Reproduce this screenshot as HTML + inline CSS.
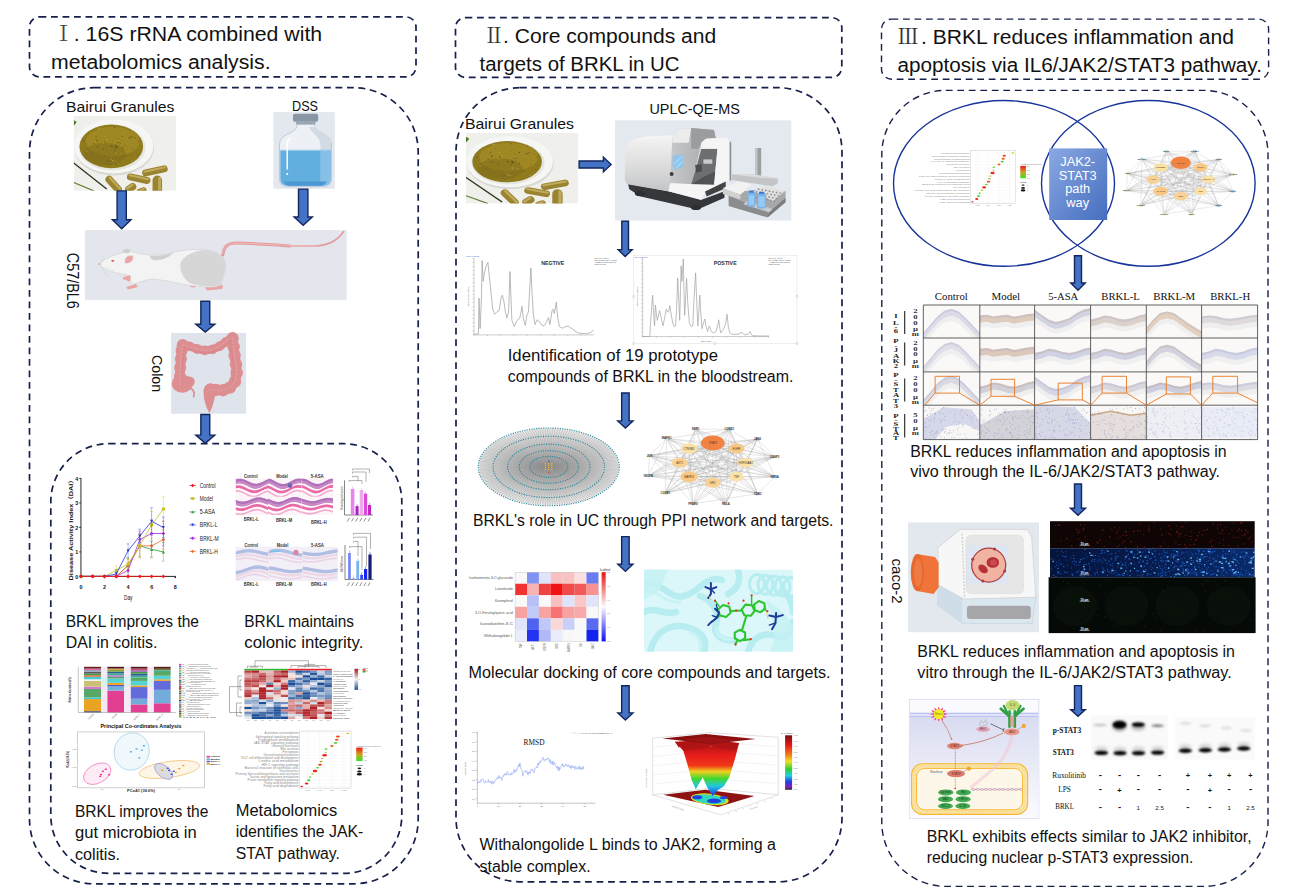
<!DOCTYPE html>
<html lang="en"><head><meta charset="utf-8"><title>BRKL graphical abstract</title>
<style>
html,body{margin:0;padding:0;background:#fff;}
body{width:1290px;height:896px;overflow:hidden;}
svg{display:block}
.sans{font-family:'Liberation Sans', 'Noto Sans CJK SC', sans-serif;}
.serif{font-family:'Liberation Serif', 'Noto Serif CJK SC', serif;}
</style></head><body>
<svg width="1290" height="896" viewBox="0 0 1290 896">
<rect width="1290" height="896" fill="#fff"/>
<rect x="29.5" y="16.9" width="386.5" height="60.00000000000001" rx="10" ry="10" fill="none" stroke="#16204a" stroke-width="1.7" stroke-dasharray="6.8 4.7"/>
<rect x="455.5" y="17.6" width="386.29999999999995" height="59.800000000000004" rx="10" ry="10" fill="none" stroke="#16204a" stroke-width="1.7" stroke-dasharray="6.8 4.7"/>
<rect x="881.5" y="19.1" width="387.0999999999999" height="60.1" rx="10" ry="10" fill="none" stroke="#16204a" stroke-width="1.4" stroke-dasharray="6.8 4.7"/>
<rect x="29.5" y="87.7" width="388.7" height="796.0999999999999" rx="64.5" ry="64.5" fill="none" stroke="#16204a" stroke-width="1.7" stroke-dasharray="6.8 4.7"/>
<rect x="456" y="87.7" width="386" height="794.0999999999999" rx="64" ry="64" fill="none" stroke="#16204a" stroke-width="1.7" stroke-dasharray="6.8 4.7"/>
<rect x="881.8" y="90.4" width="386.20000000000005" height="796.0" rx="64" ry="64" fill="none" stroke="#16204a" stroke-width="1.4" stroke-dasharray="6.8 4.7"/>
<rect x="50.8" y="443.7" width="351.0" height="429.7" rx="58" ry="58" fill="none" stroke="#16204a" stroke-width="1.7" stroke-dasharray="6.8 4.7"/>
<text x="53" y="40.5" font-size="21" fill="#444" class="serif" >Ⅰ</text>
<text x="73.8" y="40.5" font-size="19.6" fill="#111" class="sans" textLength="248.4" lengthAdjust="spacingAndGlyphs" >. 16S rRNA combined with</text>
<text x="51" y="69.3" font-size="19.6" fill="#111" class="sans" textLength="219.6" lengthAdjust="spacingAndGlyphs" >metabolomics analysis.</text>
<text x="483.6" y="43.3" font-size="21" fill="#333" class="serif" >Ⅱ</text>
<text x="503" y="43.3" font-size="19.6" fill="#111" class="sans" textLength="213.3" lengthAdjust="spacingAndGlyphs" >. Core compounds and</text>
<text x="479.6" y="71" font-size="19.6" fill="#111" class="sans" textLength="200" lengthAdjust="spacingAndGlyphs" >targets of BRKL in UC</text>
<text x="897.5" y="43.5" font-size="21" fill="#333" class="serif" >Ⅲ</text>
<text x="921" y="43.5" font-size="19.6" fill="#111" class="sans" textLength="313" lengthAdjust="spacingAndGlyphs" >. BRKL reduces inflammation and</text>
<text x="897.5" y="72" font-size="19.6" fill="#111" class="sans" textLength="364.4" lengthAdjust="spacingAndGlyphs" >apoptosis via IL6/JAK2/STAT3 pathway.</text>
<defs><clipPath id="herbclip"><rect x="0" y="0" width="102.4" height="74.8"/></clipPath><g id="herb">
<rect x="0" y="0" width="102.4" height="74.8" fill="#efefec"/>
<path d="M0 47 L33 73" stroke="#2c3418" stroke-width="1.3" fill="none"/>
<path d="M0 66.5 L20 74.8" stroke="#5a7a2a" stroke-width="1.1" fill="none"/>
<path d="M0 4 L3 6 L0 10Z" fill="#4a7a20"/>
<ellipse cx="40.5" cy="32" rx="39.8" ry="27.6" fill="#d9d9d4"/>
<ellipse cx="40" cy="30.4" rx="39.6" ry="27" fill="#f6f6f4"/>
<ellipse cx="38.5" cy="31.5" rx="33.5" ry="23" fill="#e6e6e1"/>
<ellipse cx="37.6" cy="30.4" rx="31.8" ry="21.8" fill="#8f7a1e"/>
<ellipse cx="39" cy="25.5" rx="27" ry="15" fill="#a38c26" opacity=".8"/>
<ellipse cx="31" cy="38" rx="21" ry="11" fill="#7d6a1a" opacity=".5"/>
<circle cx="39.2" cy="44.8" r="0.86" fill="#b39c34"/>
<circle cx="15.9" cy="32.8" r="0.41" fill="#a8922e"/>
<circle cx="44.7" cy="22.5" r="0.50" fill="#76641a"/>
<circle cx="33.3" cy="16.3" r="0.64" fill="#a8922e"/>
<circle cx="31.3" cy="25.3" r="0.83" fill="#76641a"/>
<circle cx="12.4" cy="27.9" r="0.48" fill="#6e5d18"/>
<circle cx="42.0" cy="29.6" r="0.81" fill="#6e5d18"/>
<circle cx="34.9" cy="45.6" r="0.76" fill="#665616"/>
<circle cx="52.9" cy="24.7" r="0.62" fill="#a8922e"/>
<circle cx="63.5" cy="22.8" r="0.42" fill="#6e5d18"/>
<circle cx="24.1" cy="30.7" r="0.79" fill="#665616"/>
<circle cx="48.7" cy="20.6" r="0.69" fill="#665616"/>
<circle cx="20.2" cy="27.8" r="0.85" fill="#76641a"/>
<circle cx="25.5" cy="12.2" r="0.90" fill="#b39c34"/>
<circle cx="32.7" cy="24.2" r="0.88" fill="#b39c34"/>
<circle cx="55.5" cy="22.0" r="0.72" fill="#76641a"/>
<circle cx="51.3" cy="29.7" r="0.43" fill="#6e5d18"/>
<circle cx="56.0" cy="13.9" r="0.57" fill="#6e5d18"/>
<circle cx="63.7" cy="38.3" r="0.55" fill="#6e5d18"/>
<circle cx="40.9" cy="11.3" r="0.70" fill="#6e5d18"/>
<circle cx="38.8" cy="18.8" r="0.57" fill="#a8922e"/>
<circle cx="59.6" cy="16.4" r="0.52" fill="#a8922e"/>
<circle cx="39.1" cy="30.6" r="0.70" fill="#6e5d18"/>
<circle cx="48.9" cy="31.9" r="0.55" fill="#665616"/>
<circle cx="35.6" cy="47.0" r="0.56" fill="#b39c34"/>
<circle cx="65.2" cy="25.4" r="0.59" fill="#665616"/>
<circle cx="49.4" cy="21.8" r="0.74" fill="#a8922e"/>
<circle cx="61.5" cy="42.7" r="0.54" fill="#a8922e"/>
<circle cx="21.0" cy="17.6" r="0.62" fill="#b39c34"/>
<circle cx="36.8" cy="40.6" r="0.41" fill="#b39c34"/>
<circle cx="18.7" cy="38.0" r="0.59" fill="#6e5d18"/>
<circle cx="29.9" cy="27.1" r="0.63" fill="#b39c34"/>
<circle cx="30.6" cy="20.3" r="0.77" fill="#b39c34"/>
<circle cx="43.2" cy="30.9" r="0.88" fill="#6e5d18"/>
<circle cx="37.5" cy="43.4" r="0.70" fill="#a8922e"/>
<circle cx="42.5" cy="37.2" r="0.82" fill="#b39c34"/>
<circle cx="35.3" cy="48.4" r="0.79" fill="#6e5d18"/>
<circle cx="59.0" cy="32.9" r="0.56" fill="#76641a"/>
<circle cx="42.2" cy="48.4" r="0.56" fill="#76641a"/>
<circle cx="27.3" cy="15.9" r="0.45" fill="#6e5d18"/>
<circle cx="30.7" cy="40.1" r="0.62" fill="#76641a"/>
<circle cx="44.1" cy="24.7" r="0.77" fill="#b39c34"/>
<circle cx="41.9" cy="45.0" r="0.51" fill="#b39c34"/>
<circle cx="52.7" cy="40.2" r="0.56" fill="#76641a"/>
<circle cx="48.9" cy="17.6" r="0.57" fill="#b39c34"/>
<circle cx="40.9" cy="26.2" r="0.57" fill="#a8922e"/>
<circle cx="47.6" cy="37.7" r="0.63" fill="#b39c34"/>
<circle cx="28.0" cy="23.0" r="0.60" fill="#a8922e"/>
<circle cx="46.4" cy="27.1" r="0.64" fill="#6e5d18"/>
<circle cx="49.0" cy="16.8" r="0.62" fill="#a8922e"/>
<circle cx="65.3" cy="24.3" r="0.42" fill="#76641a"/>
<circle cx="12.9" cy="35.1" r="0.88" fill="#a8922e"/>
<circle cx="10.3" cy="25.1" r="0.83" fill="#6e5d18"/>
<circle cx="46.0" cy="29.3" r="0.42" fill="#76641a"/>
<circle cx="57.7" cy="20.9" r="0.85" fill="#76641a"/>
<circle cx="55.3" cy="21.6" r="0.64" fill="#6e5d18"/>
<circle cx="52.2" cy="39.9" r="0.73" fill="#76641a"/>
<circle cx="19.9" cy="28.5" r="0.46" fill="#a8922e"/>
<circle cx="58.7" cy="44.9" r="0.64" fill="#a8922e"/>
<circle cx="40.9" cy="19.5" r="0.46" fill="#76641a"/>
<circle cx="44.1" cy="26.6" r="0.80" fill="#76641a"/>
<circle cx="61.2" cy="21.7" r="0.64" fill="#6e5d18"/>
<circle cx="21.7" cy="25.2" r="0.52" fill="#b39c34"/>
<circle cx="22.4" cy="20.9" r="0.64" fill="#6e5d18"/>
<circle cx="37.7" cy="29.9" r="0.79" fill="#6e5d18"/>
<circle cx="42.4" cy="31.4" r="0.89" fill="#665616"/>
<circle cx="41.9" cy="26.6" r="0.64" fill="#a8922e"/>
<circle cx="41.1" cy="34.0" r="0.72" fill="#665616"/>
<circle cx="23.5" cy="24.5" r="0.89" fill="#76641a"/>
<circle cx="29.6" cy="33.0" r="0.76" fill="#6e5d18"/>
<g transform="translate(81.2 54.9) rotate(-12)"><rect x="-13.0" y="-3.5" width="26" height="7" rx="3.5" fill="#9a8430"/><rect x="-11.5" y="-2.5" width="23" height="2.1" rx="1" fill="#c8b468" opacity=".8"/></g>
<g transform="translate(65 62.7) rotate(12)"><rect x="-12.0" y="-3.5" width="24" height="7" rx="3.5" fill="#9a8430"/><rect x="-10.5" y="-2.5" width="21" height="2.1" rx="1" fill="#c8b468" opacity=".8"/></g>
<g transform="translate(40 68.5) rotate(48)"><rect x="-10.5" y="-3.75" width="21" height="7.5" rx="3.75" fill="#9a8430"/><rect x="-9.0" y="-2.75" width="18" height="2.2" rx="1" fill="#c8b468" opacity=".8"/></g>
<g transform="translate(83.6 69) rotate(90)"><rect x="-9.5" y="-4.75" width="19" height="9.5" rx="4.75" fill="#9a8430"/><rect x="-8.0" y="-3.75" width="16" height="2.9" rx="1" fill="#c8b468" opacity=".8"/></g>
<g transform="translate(57 72) rotate(-35)"><rect x="-6.0" y="-3.75" width="12" height="7.5" rx="3.75" fill="#9a8430"/><rect x="-4.5" y="-2.75" width="9" height="2.2" rx="1" fill="#c8b468" opacity=".8"/></g>
<g transform="translate(68 75) rotate(-20)"><rect x="-5.0" y="-3.0" width="10" height="6" rx="3.0" fill="#9a8430"/><rect x="-3.5" y="-2.0" width="7" height="1.8" rx="1" fill="#c8b468" opacity=".8"/></g>
</g></defs>
<text x="66" y="111.5" font-size="14.2" fill="#111" class="sans" textLength="108.5" lengthAdjust="spacingAndGlyphs" >Bairui Granules</text>
<text x="292" y="110.5" font-size="14.2" fill="#111" class="sans" textLength="26" lengthAdjust="spacingAndGlyphs" >DSS</text>
<g transform="translate(73.7 116)" clip-path="url(#herbclip)"><use href="#herb"/></g>
<g>
<rect x="273.4" y="112.1" width="61.4" height="76.7" fill="#e3e8ee"/>
<path d="M296.8 124 V126.5 C296.8 133 279.5 133.5 279.5 144 V179 Q279.5 186.6 288 186.6 H323 Q331.5 186.6 331.5 179 V144 C331.5 133.5 314.7 133 314.7 126.5 V124 Z" fill="#edf1f5" stroke="#b4c0cf" stroke-width=".8"/>
<path d="M309 127 C312 134 320.5 136 320.5 146 V150.2 H331 V144 C331 134 315 133 314.5 127Z" fill="#d2dbe3"/>
<path d="M280.3 150.2 H330.7 V179 Q330.7 185.8 323 185.8 H288 Q280.3 185.8 280.3 179Z" fill="#62aede"/>
<path d="M320.3 150.2 H330.7 V179 Q330.7 184 326 185.5 L320.3 182Z" fill="#86c0e6"/>
<path d="M284 181.5 H327 Q324 185.8 321 185.8 H289 Q285 185.8 284 181.5Z" fill="#4a98d4"/>
<path d="M280.3 150.2 H330.7" stroke="#9fd0ee" stroke-width="1"/>
<path d="M287.2 169 V146 Q287.2 140 290.5 138.2" stroke="#fff" stroke-width="1.4" fill="none" stroke-linecap="round"/>
<circle cx="287.2" cy="174" r="1.1" fill="#fff"/>
<rect x="292.9" y="113.8" width="25.3" height="8" rx="2" fill="#8996a6"/><rect x="296" y="121" width="19.5" height="3.4" rx="1.5" fill="#9aa6b4"/>
</g>
<path d="M117.10 190.90H126.30V219.70H131.00L121.70 228.69L112.40 219.70H117.10Z" fill="#4472c4" stroke="#13265c" stroke-width="1.4" stroke-linejoin="miter"/>
<path d="M298.50 189.10H307.90V217.00H312.30L303.20 225.29L294.10 217.00H298.50Z" fill="#4472c4" stroke="#13265c" stroke-width="1.4" stroke-linejoin="miter"/>
<g>
<rect x="84.9" y="230.1" width="261.8" height="69.8" fill="#e3e7ed"/>
<path d="M222.5 254 C224 246 228 243 236 243 C262 243.5 290 246.5 315 246 C329 245.5 338 240 343.7 231.5" fill="none" stroke="#e39a9c" stroke-width="1.5" stroke-linecap="round"/>
<path d="M222.8 255 C224 246 228 243 236 243 C255 243.4 272 245 290 246" fill="none" stroke="#e39a9c" stroke-width="3" stroke-linecap="round"/>
<path d="M222.5 254 C224 246 228 243 236 243 C262 243.5 290 246.5 315 246" fill="none" stroke="#f2b9b8" stroke-width="1" />
<path d="M125 279 L131 276 L135 279 L128.5 281.5Z M122.5 277.5 L131.5 274.5 L133 276.5 L124 280Z" fill="#eba3a3"/>
<path d="M126 287 L136 284 L138 287 L128 289.5Z" fill="#eba3a3"/>
<path d="M205 287 L219 283 L223 286 L222 289 L207 290.5Z" fill="#eba3a3"/><path d="M190 285 L196 285.5 L195 287.5 L190.5 287Z" fill="#eba3a3"/>
<path d="M99 264 C104 259 113 255 122 253 C124 248 129 247.5 132 252 C150 256 160 256 175 252 C190 248.5 205 248.5 215 252 C224 255.5 226.5 263 225 270 C223.5 276 222.5 281 220.5 285 C214 289 200 286.5 190 285.5 C175 283 165 280 152 279 C145 279.5 139 283 133.5 284 C128 281 132 277 130 275.5 C120 274 108 271 103 268.5 Z" fill="#f3f3f3" stroke="#cfcfcf" stroke-width=".6"/>
<path d="M181 262 C186 254 196 250 206 250 C216 251 224 255 225.5 264 C226 272 222 280 220.5 285 C212 288 200 286 192 284 C184 280 178 270 181 262Z" fill="#d6d6d6"/>
<path d="M150 255.5 C158 256.5 166 255 174 252.3 C170 257 163 260 155 260.5 C151 259.5 150 257.5 150 255.5Z" fill="#d0d0d0"/>
<path d="M122.5 252.5 C123.5 248.5 128 247.8 131 251 L128 253.5Z" fill="#cfcfcf"/>
<path d="M125 263.5 C124 258 127 254.5 133 255.8 C134.5 260 130.5 264 125 263.5Z" fill="#eea4a6" stroke="#e6e6e6" stroke-width=".8"/>
<ellipse cx="112.8" cy="260.8" rx="1.6" ry=".9" fill="#d8504e"/>
<circle cx="99.3" cy="264" r=".9" fill="#e9a0a0"/>
<path d="M101 266 L108 277 M101 265 L103 256 M101.5 266.5 L114 271" stroke="#c8ccd2" stroke-width=".4" fill="none"/>
</g>
<text x="0" y="0" font-size="16.4" fill="#111" class="sans" textLength="56" lengthAdjust="spacingAndGlyphs" transform="translate(67.3 252.8) rotate(90)">C57/BL6</text>
<path d="M200.85 301.20H209.75V324.30H214.75L205.30 332.09L195.85 324.30H200.85Z" fill="#4472c4" stroke="#13265c" stroke-width="1.4" stroke-linejoin="miter"/>
<g>
<rect x="171.1" y="333" width="75" height="80.7" fill="#dfe4ec"/>
<circle cx="182.7" cy="344.9" r="4.9" fill="#dc8e91"/>
<circle cx="186.0" cy="345.6" r="4.2" fill="#dc8e91"/>
<circle cx="189.2" cy="346.3" r="4.9" fill="#dc8e91"/>
<circle cx="193.1" cy="347.6" r="4.2" fill="#dc8e91"/>
<circle cx="197.0" cy="349.0" r="4.9" fill="#dc8e91"/>
<circle cx="200.9" cy="349.7" r="4.2" fill="#dc8e91"/>
<circle cx="204.8" cy="350.4" r="4.9" fill="#dc8e91"/>
<circle cx="208.7" cy="349.9" r="4.2" fill="#dc8e91"/>
<circle cx="212.6" cy="349.4" r="4.9" fill="#dc8e91"/>
<circle cx="216.1" cy="347.9" r="4.2" fill="#dc8e91"/>
<circle cx="219.5" cy="346.4" r="4.9" fill="#dc8e91"/>
<circle cx="222.6" cy="344.3" r="4.2" fill="#dc8e91"/>
<circle cx="225.6" cy="342.1" r="4.9" fill="#dc8e91"/>
<circle cx="228.9" cy="339.8" r="4.2" fill="#dc8e91"/>
<circle cx="232.2" cy="337.6" r="4.9" fill="#dc8e91"/>
<circle cx="180.2" cy="385.0" r="6.0" fill="#dc8e91"/>
<circle cx="180.1" cy="380.7" r="5.0" fill="#dc8e91"/>
<circle cx="179.9" cy="376.4" r="6.0" fill="#dc8e91"/>
<circle cx="180.1" cy="372.1" r="5.0" fill="#dc8e91"/>
<circle cx="180.2" cy="367.7" r="6.0" fill="#dc8e91"/>
<circle cx="180.6" cy="363.4" r="5.0" fill="#dc8e91"/>
<circle cx="180.9" cy="359.1" r="6.0" fill="#dc8e91"/>
<circle cx="181.3" cy="354.7" r="5.0" fill="#dc8e91"/>
<circle cx="181.6" cy="350.4" r="6.0" fill="#dc8e91"/>
<circle cx="182.7" cy="344.9" r="6.0" fill="#dc8e91"/>
<circle cx="232.5" cy="338.3" r="6.2" fill="#dc8e91"/>
<circle cx="233.1" cy="342.6" r="5.2" fill="#dc8e91"/>
<circle cx="233.6" cy="346.9" r="6.2" fill="#dc8e91"/>
<circle cx="234.1" cy="351.3" r="5.2" fill="#dc8e91"/>
<circle cx="234.6" cy="355.6" r="6.2" fill="#dc8e91"/>
<circle cx="235.3" cy="359.9" r="5.2" fill="#dc8e91"/>
<circle cx="236.0" cy="364.3" r="6.2" fill="#dc8e91"/>
<circle cx="236.3" cy="368.6" r="5.2" fill="#dc8e91"/>
<circle cx="236.7" cy="372.9" r="6.2" fill="#dc8e91"/>
<circle cx="235.8" cy="377.3" r="5.2" fill="#dc8e91"/>
<circle cx="235.0" cy="381.6" r="6.2" fill="#dc8e91"/>
<circle cx="232.4" cy="384.6" r="5.2" fill="#dc8e91"/>
<circle cx="229.9" cy="387.6" r="6.2" fill="#dc8e91"/>
<circle cx="226.5" cy="388.9" r="5.2" fill="#dc8e91"/>
<circle cx="223.0" cy="390.2" r="6.2" fill="#dc8e91"/>
<circle cx="219.5" cy="390.1" r="5.2" fill="#dc8e91"/>
<circle cx="216.1" cy="389.9" r="6.2" fill="#dc8e91"/>
<circle cx="210.4" cy="389.4" r="6.2" fill="#dc8e91"/>
<ellipse cx="182.3" cy="383.7" rx="10.6" ry="9" fill="#dc8e91"/>
<circle cx="189.6" cy="381.6" r="5.2" fill="#dc8e91"/>
<path d="M191.0 388.5Q195.6 391.5 193.6 396.8" stroke="#dc8e91" stroke-width="1.7" fill="none" stroke-linecap="round"/>
<polygon points="203.4,389.9 205.2,385.9 210.4,385.0 215.6,387.6 214.9,397.2 212.1,407.6 209.3,413.1 206.6,407.6 204.1,398.9" fill="#dc8e91"/>
<path d="M180.2 385.0L179.9 376.4L180.2 367.7L180.9 359.1L181.6 350.4L182.7 344.9 M182.7 344.9L189.2 346.3L197.0 349.0L204.8 350.4L212.6 349.4L219.5 346.4L225.6 342.1L232.2 337.6 M232.5 338.3L233.6 346.9L234.6 355.6L236.0 364.3L236.7 372.9L235.0 381.6L229.9 387.6L223.0 390.2L216.1 389.9L210.4 389.4" fill="none" stroke="#e7aaac" stroke-width=".9" stroke-dasharray="2 1.5" opacity=".9"/>
<path d="M182.4 386.5L182.1 377.9L182.4 369.2L183.1 360.6L183.8 351.9L184.9 346.4 M182.7 347.5L189.2 348.9L197.0 351.6L204.8 353.0L212.6 352.0L219.5 349.0L225.6 344.7L232.2 340.2 M229.9 338.3L231.0 346.9L232.0 355.6L233.4 364.3L234.1 372.9L232.4 381.6" fill="none" stroke="#c97478" stroke-width=".5" opacity=".55"/>
</g>
<text x="0" y="0" font-size="15.4" fill="#111" class="sans" textLength="37.2" lengthAdjust="spacingAndGlyphs" transform="translate(152.3 355) rotate(90)">Colon</text>
<path d="M200.85 414.50H209.75V435.10H214.75L205.30 443.29L195.85 435.10H200.85Z" fill="#4472c4" stroke="#13265c" stroke-width="1.4" stroke-linejoin="miter"/>
<g>
<path d="M80.95 478 V576.4 H175.4 V578.0" fill="none" stroke="#111" stroke-width=".9"/>
<path d="M79.15 576.4H80.95" stroke="#111" stroke-width=".8"/>
<text x="78.15" y="578.6" font-size="6.2" fill="#111" class="sans" text-anchor="end" font-weight="bold" textLength="3" lengthAdjust="spacingAndGlyphs" >0</text>
<path d="M79.15 551.9H80.95" stroke="#111" stroke-width=".8"/>
<text x="78.15" y="554.1" font-size="6.2" fill="#111" class="sans" text-anchor="end" font-weight="bold" textLength="3" lengthAdjust="spacingAndGlyphs" >1</text>
<path d="M79.15 527.4H80.95" stroke="#111" stroke-width=".8"/>
<text x="78.15" y="529.6" font-size="6.2" fill="#111" class="sans" text-anchor="end" font-weight="bold" textLength="3" lengthAdjust="spacingAndGlyphs" >2</text>
<path d="M79.15 502.9H80.95" stroke="#111" stroke-width=".8"/>
<text x="78.15" y="505.09999999999997" font-size="6.2" fill="#111" class="sans" text-anchor="end" font-weight="bold" textLength="3" lengthAdjust="spacingAndGlyphs" >3</text>
<path d="M79.15 478.4H80.95" stroke="#111" stroke-width=".8"/>
<text x="78.15" y="480.59999999999997" font-size="6.2" fill="#111" class="sans" text-anchor="end" font-weight="bold" textLength="3" lengthAdjust="spacingAndGlyphs" >4</text>
<path d="M80.95 576.4V578.1999999999999" stroke="#111" stroke-width=".8"/>
<text x="80.95" y="589.2" font-size="6.2" fill="#111" class="sans" text-anchor="middle" font-weight="bold" textLength="3" lengthAdjust="spacingAndGlyphs" >0</text>
<path d="M104.51 576.4V578.1999999999999" stroke="#111" stroke-width=".8"/>
<text x="104.51" y="589.2" font-size="6.2" fill="#111" class="sans" text-anchor="middle" font-weight="bold" textLength="3" lengthAdjust="spacingAndGlyphs" >2</text>
<path d="M128.07 576.4V578.1999999999999" stroke="#111" stroke-width=".8"/>
<text x="128.07" y="589.2" font-size="6.2" fill="#111" class="sans" text-anchor="middle" font-weight="bold" textLength="3" lengthAdjust="spacingAndGlyphs" >4</text>
<path d="M151.63 576.4V578.1999999999999" stroke="#111" stroke-width=".8"/>
<text x="151.63" y="589.2" font-size="6.2" fill="#111" class="sans" text-anchor="middle" font-weight="bold" textLength="3" lengthAdjust="spacingAndGlyphs" >6</text>
<path d="M175.19 576.4V578.1999999999999" stroke="#111" stroke-width=".8"/>
<text x="175.19" y="589.2" font-size="6.2" fill="#111" class="sans" text-anchor="middle" font-weight="bold" textLength="3" lengthAdjust="spacingAndGlyphs" >8</text>
<text x="128.2" y="600.4" font-size="6.6" fill="#111" class="sans" text-anchor="middle" textLength="8.4" lengthAdjust="spacingAndGlyphs" >Day</text>
<text x="0" y="0" font-size="5.6" fill="#111" class="sans" font-weight="bold" textLength="104" lengthAdjust="spacingAndGlyphs" transform="translate(72.8 580.4) rotate(-90)">Disease Activity Index（DAI）</text>
<polyline points="81.0,576.4 92.7,576.4 104.5,576.4 116.3,576.4 128.1,565.4 139.8,545.8 151.6,549.4 163.4,551.9" fill="none" stroke="#2a9a3a" stroke-width=".8"/>
<path d="M81.0 574.9L82.5 577.9H79.5Z" fill="#2a9a3a"/>
<path d="M92.7 574.9L94.2 577.9H91.2Z" fill="#2a9a3a"/>
<path d="M104.5 574.9L106.0 577.9H103.0Z" fill="#2a9a3a"/>
<path d="M116.3 574.9L117.8 577.9H114.8Z" fill="#2a9a3a"/>
<path d="M128.1 558.0V572.7M126.7 558.0h2.8M126.7 572.7h2.8" stroke="#2a9a3a" stroke-width=".5" stroke-dasharray="1 .5" fill="none"/>
<path d="M128.1 563.9L129.6 566.9H126.6Z" fill="#2a9a3a"/>
<path d="M139.8 534.8V556.8M138.4 534.8h2.8M138.4 556.8h2.8" stroke="#2a9a3a" stroke-width=".5" stroke-dasharray="1 .5" fill="none"/>
<path d="M139.8 544.3L141.3 547.3H138.3Z" fill="#2a9a3a"/>
<path d="M151.6 540.9V558.0M150.2 540.9h2.8M150.2 558.0h2.8" stroke="#2a9a3a" stroke-width=".5" stroke-dasharray="1 .5" fill="none"/>
<path d="M151.6 547.9L153.1 550.9H150.1Z" fill="#2a9a3a"/>
<path d="M163.4 542.6V561.2M162.0 542.6h2.8M162.0 561.2h2.8" stroke="#2a9a3a" stroke-width=".5" stroke-dasharray="1 .5" fill="none"/>
<path d="M163.4 550.4L164.9 553.4H161.9Z" fill="#2a9a3a"/>
<polyline points="81.0,576.4 92.7,576.4 104.5,576.4 116.3,576.4 128.1,565.4 139.8,545.8 151.6,545.8 163.4,539.6" fill="none" stroke="#f06a20" stroke-width=".8"/>
<path d="M81.0 574.6L82.8 576.4L81.0 578.2L79.2 576.4Z" fill="#f06a20"/>
<path d="M92.7 574.6L94.5 576.4L92.7 578.2L90.9 576.4Z" fill="#f06a20"/>
<path d="M104.5 574.6L106.3 576.4L104.5 578.2L102.7 576.4Z" fill="#f06a20"/>
<path d="M116.3 574.6L118.1 576.4L116.3 578.2L114.5 576.4Z" fill="#f06a20"/>
<path d="M128.1 559.2V571.5M126.7 559.2h2.8M126.7 571.5h2.8" stroke="#f06a20" stroke-width=".5" stroke-dasharray="1 .5" fill="none"/>
<path d="M128.1 563.6L129.9 565.4L128.1 567.2L126.3 565.4Z" fill="#f06a20"/>
<path d="M139.8 533.5V558.0M138.4 533.5h2.8M138.4 558.0h2.8" stroke="#f06a20" stroke-width=".5" stroke-dasharray="1 .5" fill="none"/>
<path d="M139.8 544.0L141.7 545.8L139.8 547.6L138.0 545.8Z" fill="#f06a20"/>
<path d="M151.6 534.8V556.8M150.2 534.8h2.8M150.2 556.8h2.8" stroke="#f06a20" stroke-width=".5" stroke-dasharray="1 .5" fill="none"/>
<path d="M151.6 544.0L153.4 545.8L151.6 547.6L149.8 545.8Z" fill="#f06a20"/>
<path d="M163.4 529.9V549.4M162.0 529.9h2.8M162.0 549.4h2.8" stroke="#f06a20" stroke-width=".5" stroke-dasharray="1 .5" fill="none"/>
<path d="M163.4 537.9L165.2 539.6L163.4 541.4L161.6 539.6Z" fill="#f06a20"/>
<polyline points="81.0,576.4 92.7,576.4 104.5,576.4 116.3,576.4 128.1,570.3 139.8,539.6 151.6,533.5 163.4,533.5" fill="none" stroke="#a828e8" stroke-width=".8"/>
<path d="M81.0 574.6L82.8 576.4L81.0 578.2L79.2 576.4Z" fill="#a828e8"/>
<path d="M92.7 574.6L94.5 576.4L92.7 578.2L90.9 576.4Z" fill="#a828e8"/>
<path d="M104.5 574.6L106.3 576.4L104.5 578.2L102.7 576.4Z" fill="#a828e8"/>
<path d="M116.3 574.6L118.1 576.4L116.3 578.2L114.5 576.4Z" fill="#a828e8"/>
<path d="M128.1 565.4V575.2M126.7 565.4h2.8M126.7 575.2h2.8" stroke="#a828e8" stroke-width=".5" stroke-dasharray="1 .5" fill="none"/>
<path d="M128.1 568.5L129.9 570.3L128.1 572.1L126.3 570.3Z" fill="#a828e8"/>
<path d="M139.8 531.1V548.2M138.4 531.1h2.8M138.4 548.2h2.8" stroke="#a828e8" stroke-width=".5" stroke-dasharray="1 .5" fill="none"/>
<path d="M139.8 537.9L141.7 539.6L139.8 541.4L138.0 539.6Z" fill="#a828e8"/>
<path d="M151.6 520.0V547.0M150.2 520.0h2.8M150.2 547.0h2.8" stroke="#a828e8" stroke-width=".5" stroke-dasharray="1 .5" fill="none"/>
<path d="M151.6 531.7L153.4 533.5L151.6 535.3L149.8 533.5Z" fill="#a828e8"/>
<path d="M163.4 521.3V545.8M162.0 521.3h2.8M162.0 545.8h2.8" stroke="#a828e8" stroke-width=".5" stroke-dasharray="1 .5" fill="none"/>
<path d="M163.4 531.7L165.2 533.5L163.4 535.3L161.6 533.5Z" fill="#a828e8"/>
<polyline points="81.0,576.4 92.7,576.4 104.5,576.4 116.3,570.3 128.1,564.1 139.8,545.8 151.6,524.9 163.4,509.0" fill="none" stroke="#c8c020" stroke-width=".8"/>
<rect x="79.5" y="574.9" width="3.0" height="3.0" fill="#c8c020"/>
<rect x="91.2" y="574.9" width="3.0" height="3.0" fill="#c8c020"/>
<rect x="103.0" y="574.9" width="3.0" height="3.0" fill="#c8c020"/>
<path d="M116.3 565.9V574.7M114.9 565.9h2.8M114.9 574.7h2.8" stroke="#c8c020" stroke-width=".5" stroke-dasharray="1 .5" fill="none"/>
<rect x="114.8" y="568.8" width="3.0" height="3.0" fill="#c8c020"/>
<path d="M128.1 559.2V569.0M126.7 559.2h2.8M126.7 569.0h2.8" stroke="#c8c020" stroke-width=".5" stroke-dasharray="1 .5" fill="none"/>
<rect x="126.6" y="562.6" width="3.0" height="3.0" fill="#c8c020"/>
<path d="M139.8 536.0V555.6M138.4 536.0h2.8M138.4 555.6h2.8" stroke="#c8c020" stroke-width=".5" stroke-dasharray="1 .5" fill="none"/>
<rect x="138.3" y="544.3" width="3.0" height="3.0" fill="#c8c020"/>
<path d="M151.6 511.5V538.4M150.2 511.5h2.8M150.2 538.4h2.8" stroke="#c8c020" stroke-width=".5" stroke-dasharray="1 .5" fill="none"/>
<rect x="150.1" y="523.4" width="3.0" height="3.0" fill="#c8c020"/>
<path d="M163.4 496.8V521.3M162.0 496.8h2.8M162.0 521.3h2.8" stroke="#c8c020" stroke-width=".5" stroke-dasharray="1 .5" fill="none"/>
<rect x="161.9" y="507.5" width="3.0" height="3.0" fill="#c8c020"/>
<polyline points="81.0,576.4 92.7,576.4 104.5,576.4 116.3,573.9 128.1,550.7 139.8,536.0 151.6,521.3 163.4,527.4" fill="none" stroke="#2438e0" stroke-width=".8"/>
<path d="M81.0 577.9L82.5 574.9H79.5Z" fill="#2438e0"/>
<path d="M92.7 577.9L94.2 574.9H91.2Z" fill="#2438e0"/>
<path d="M104.5 577.9L106.0 574.9H103.0Z" fill="#2438e0"/>
<path d="M116.3 572.0V575.9M114.9 572.0h2.8M114.9 575.9h2.8" stroke="#2438e0" stroke-width=".5" stroke-dasharray="1 .5" fill="none"/>
<path d="M116.3 575.4L117.8 572.4H114.8Z" fill="#2438e0"/>
<path d="M128.1 543.8V557.5M126.7 543.8h2.8M126.7 557.5h2.8" stroke="#2438e0" stroke-width=".5" stroke-dasharray="1 .5" fill="none"/>
<path d="M128.1 552.2L129.6 549.2H126.6Z" fill="#2438e0"/>
<path d="M139.8 529.1V542.8M138.4 529.1h2.8M138.4 542.8h2.8" stroke="#2438e0" stroke-width=".5" stroke-dasharray="1 .5" fill="none"/>
<path d="M139.8 537.5L141.3 534.5H138.3Z" fill="#2438e0"/>
<path d="M151.6 507.8V534.8M150.2 507.8h2.8M150.2 534.8h2.8" stroke="#2438e0" stroke-width=".5" stroke-dasharray="1 .5" fill="none"/>
<path d="M151.6 522.8L153.1 519.8H150.1Z" fill="#2438e0"/>
<path d="M163.4 517.1V537.7M162.0 517.1h2.8M162.0 537.7h2.8" stroke="#2438e0" stroke-width=".5" stroke-dasharray="1 .5" fill="none"/>
<path d="M163.4 528.9L164.9 525.9H161.9Z" fill="#2438e0"/>
<polyline points="81.0,576.4 92.7,576.4 104.5,576.4 116.3,576.4 128.1,576.4 139.8,576.4 151.6,576.4 163.4,576.4" fill="none" stroke="#ff1010" stroke-width=".8"/>
<path d="M81.0 574.6L82.8 576.4L81.0 578.2L79.2 576.4Z" fill="#ff1010"/>
<path d="M92.7 574.6L94.5 576.4L92.7 578.2L90.9 576.4Z" fill="#ff1010"/>
<path d="M104.5 574.6L106.3 576.4L104.5 578.2L102.7 576.4Z" fill="#ff1010"/>
<path d="M116.3 574.6L118.1 576.4L116.3 578.2L114.5 576.4Z" fill="#ff1010"/>
<path d="M128.1 574.6L129.9 576.4L128.1 578.2L126.3 576.4Z" fill="#ff1010"/>
<path d="M139.8 574.6L141.7 576.4L139.8 578.2L138.0 576.4Z" fill="#ff1010"/>
<path d="M151.6 574.6L153.4 576.4L151.6 578.2L149.8 576.4Z" fill="#ff1010"/>
<path d="M163.4 574.6L165.2 576.4L163.4 578.2L161.6 576.4Z" fill="#ff1010"/>
<path d="M189.4 485.5h6.4" stroke="#ff1010" stroke-width=".7"/><path d="M192.6 483.8L194.3 485.5L192.6 487.2L190.9 485.5Z" fill="#ff1010"/>
<text x="199.8" y="487.9" font-size="6.8" fill="#222" class="sans" textLength="15.9" lengthAdjust="spacingAndGlyphs" >Control</text>
<path d="M189.4 498.5h6.4" stroke="#c8c020" stroke-width=".7"/><rect x="191.2" y="497.1" width="2.8" height="2.8" fill="#c8c020"/>
<text x="199.8" y="500.9" font-size="6.8" fill="#222" class="sans" textLength="13.2" lengthAdjust="spacingAndGlyphs" >Model</text>
<path d="M189.4 511.9h6.4" stroke="#2a9a3a" stroke-width=".7"/><path d="M192.6 510.5L194.0 513.3H191.2Z" fill="#2a9a3a"/>
<text x="199.8" y="514.3" font-size="6.8" fill="#222" class="sans" textLength="15.2" lengthAdjust="spacingAndGlyphs" >5-ASA</text>
<path d="M189.4 525h6.4" stroke="#2438e0" stroke-width=".7"/><path d="M192.6 526.4L194.0 523.6H191.2Z" fill="#2438e0"/>
<text x="199.8" y="527.4" font-size="6.8" fill="#222" class="sans" textLength="17.8" lengthAdjust="spacingAndGlyphs" >BRKL-L</text>
<path d="M189.4 538.2h6.4" stroke="#a828e8" stroke-width=".7"/><path d="M192.6 536.5L194.3 538.2L192.6 539.9L190.9 538.2Z" fill="#a828e8"/>
<text x="199.8" y="540.6" font-size="6.8" fill="#222" class="sans" textLength="18.9" lengthAdjust="spacingAndGlyphs" >BRKL-M</text>
<path d="M189.4 551.4h6.4" stroke="#f06a20" stroke-width=".7"/><path d="M192.6 549.7L194.3 551.4L192.6 553.1L190.9 551.4Z" fill="#f06a20"/>
<text x="199.8" y="553.8" font-size="6.8" fill="#222" class="sans" textLength="18" lengthAdjust="spacingAndGlyphs" >BRKL-H</text>
</g>
<g>
<rect x="235.6" y="478.4" width="97.50000000000003" height="36.60000000000002" fill="#fcf4f9"/>
<clipPath id="he00"><rect x="235.6" y="478.4" width="32.400000000000006" height="18.30000000000001"/></clipPath>
<g clip-path="url(#he00)">
<polygon points="235.6,479.3 238.3,478.6 241.0,478.6 243.7,479.3 246.4,480.4 249.1,481.8 251.8,483.0 254.5,483.7 257.2,483.7 259.9,483.0 262.6,481.9 265.3,480.5 268.0,479.3 268.0,484.5 265.3,485.7 262.6,487.1 259.9,488.2 257.2,488.9 254.5,488.9 251.8,488.2 249.1,487.0 246.4,485.6 243.7,484.5 241.0,483.8 238.3,483.8 235.6,484.5" fill="#c98ac6" opacity="1"/>
<polygon points="235.6,479.4 238.3,478.7 241.0,478.7 243.7,479.4 246.4,480.5 249.1,481.9 251.8,483.1 254.5,483.8 257.2,483.8 259.9,483.1 262.6,482.0 265.3,480.6 268.0,479.4 268.0,481.6 265.3,482.8 262.6,484.2 259.9,485.3 257.2,486.0 254.5,486.0 251.8,485.3 249.1,484.1 246.4,482.7 243.7,481.6 241.0,480.9 238.3,480.9 235.6,481.6" fill="#a86cb8" opacity="0.8"/>
<polygon points="235.6,484.2 238.3,483.7 241.0,483.9 243.7,484.7 246.4,486.0 249.1,487.3 251.8,488.4 254.5,488.9 257.2,488.7 259.9,487.9 262.6,486.6 265.3,485.3 268.0,484.2 268.0,485.5 265.3,486.6 262.6,487.9 259.9,489.2 257.2,490.0 254.5,490.2 251.8,489.7 249.1,488.6 246.4,487.3 243.7,486.0 241.0,485.2 238.3,485.0 235.6,485.5" fill="#fffafd" opacity="1"/>
<polygon points="235.6,485.6 238.3,485.2 241.0,485.6 243.7,486.6 246.4,487.9 249.1,489.2 251.8,490.1 254.5,490.5 257.2,490.1 259.9,489.1 262.6,487.8 265.3,486.5 268.0,485.6 268.0,488.4 265.3,489.3 262.6,490.6 259.9,491.9 257.2,492.9 254.5,493.3 251.8,492.9 249.1,492.0 246.4,490.7 243.7,489.4 241.0,488.4 238.3,488.0 235.6,488.4" fill="#ea6aa8" opacity="1"/>
<polygon points="235.6,488.5 238.3,488.4 241.0,488.9 243.7,489.9 246.4,491.3 249.1,492.5 251.8,493.4 254.5,493.5 257.2,493.0 259.9,492.0 262.6,490.6 265.3,489.4 268.0,488.5 268.0,490.1 265.3,491.0 262.6,492.2 259.9,493.6 257.2,494.6 254.5,495.1 251.8,495.0 249.1,494.1 246.4,492.9 243.7,491.5 241.0,490.5 238.3,490.0 235.6,490.1" fill="#fffafd" opacity="1"/>
<polygon points="235.6,490.1 238.3,490.0 241.0,490.7 243.7,492.0 246.4,493.5 249.1,494.8 251.8,495.6 254.5,495.7 257.2,495.0 259.9,493.7 262.6,492.2 265.3,490.9 268.0,490.1 268.0,491.9 265.3,492.7 262.6,494.0 259.9,495.5 257.2,496.8 254.5,497.5 251.8,497.4 249.1,496.6 246.4,495.3 243.7,493.8 241.0,492.5 238.3,491.8 235.6,491.9" fill="#f3a6c8" opacity="0.9"/>
</g>
<clipPath id="he01"><rect x="268" y="478.4" width="33.19999999999999" height="18.30000000000001"/></clipPath>
<g clip-path="url(#he01)">
<polygon points="268.0,478.4 270.8,479.1 273.5,480.5 276.3,482.0 279.1,483.3 281.8,484.0 284.6,483.9 287.4,483.2 290.1,481.8 292.9,480.3 295.7,479.0 298.4,478.3 301.2,478.4 301.2,483.6 298.4,483.5 295.7,484.2 292.9,485.5 290.1,487.0 287.4,488.4 284.6,489.1 281.8,489.2 279.1,488.5 276.3,487.2 273.5,485.7 270.8,484.3 268.0,483.6" fill="#c98ac6" opacity="1"/>
<polygon points="268.0,478.5 270.8,479.2 273.5,480.6 276.3,482.1 279.1,483.4 281.8,484.1 284.6,484.0 287.4,483.3 290.1,481.9 292.9,480.4 295.7,479.1 298.4,478.4 301.2,478.5 301.2,480.7 298.4,480.6 295.7,481.3 292.9,482.6 290.1,484.1 287.4,485.5 284.6,486.2 281.8,486.3 279.1,485.6 276.3,484.3 273.5,482.8 270.8,481.4 268.0,480.7" fill="#a86cb8" opacity="0.8"/>
<polygon points="268.0,483.7 270.8,484.6 273.5,486.0 276.3,487.5 279.1,488.7 281.8,489.2 284.6,488.9 287.4,488.0 290.1,486.6 292.9,485.1 295.7,483.9 298.4,483.4 301.2,483.7 301.2,485.0 298.4,484.7 295.7,485.2 292.9,486.4 290.1,487.9 287.4,489.3 284.6,490.2 281.8,490.5 279.1,490.0 276.3,488.8 273.5,487.3 270.8,485.9 268.0,485.0" fill="#fffafd" opacity="1"/>
<polygon points="268.0,485.4 270.8,486.5 273.5,488.0 276.3,489.5 279.1,490.5 281.8,490.8 284.6,490.3 287.4,489.2 290.1,487.7 292.9,486.3 295.7,485.2 298.4,484.9 301.2,485.4 301.2,488.2 298.4,487.7 295.7,488.0 292.9,489.1 290.1,490.5 287.4,492.0 284.6,493.1 281.8,493.6 279.1,493.3 276.3,492.3 273.5,490.8 270.8,489.3 268.0,488.2" fill="#ea6aa8" opacity="1"/>
<polygon points="268.0,488.7 270.8,489.9 273.5,491.4 276.3,492.8 279.1,493.7 281.8,493.8 284.6,493.2 287.4,492.0 290.1,490.5 292.9,489.1 295.7,488.2 298.4,488.1 301.2,488.7 301.2,490.3 298.4,489.7 295.7,489.8 292.9,490.7 290.1,492.1 287.4,493.6 284.6,494.8 281.8,495.4 279.1,495.3 276.3,494.4 273.5,493.0 270.8,491.5 268.0,490.3" fill="#fffafd" opacity="1"/>
<polygon points="268.0,490.6 270.8,492.0 273.5,493.7 276.3,495.1 279.1,495.9 281.8,495.9 284.6,495.1 287.4,493.7 290.1,492.0 292.9,490.6 295.7,489.8 298.4,489.8 301.2,490.6 301.2,492.4 298.4,491.6 295.7,491.6 292.9,492.4 290.1,493.8 287.4,495.5 284.6,496.9 281.8,497.7 279.1,497.7 276.3,496.9 273.5,495.5 270.8,493.8 268.0,492.4" fill="#f3a6c8" opacity="0.9"/>
</g>
<clipPath id="he02"><rect x="301.2" y="478.4" width="31.900000000000034" height="18.30000000000001"/></clipPath>
<g clip-path="url(#he02)">
<polygon points="301.2,478.3 303.9,478.6 306.5,479.5 309.2,481.0 311.8,482.4 314.5,483.5 317.1,484.0 319.8,483.7 322.5,482.8 325.1,481.3 327.8,479.9 330.4,478.8 333.1,478.3 333.1,483.5 330.4,484.0 327.8,485.1 325.1,486.5 322.5,488.0 319.8,488.9 317.1,489.2 314.5,488.7 311.8,487.6 309.2,486.2 306.5,484.7 303.9,483.8 301.2,483.5" fill="#c98ac6" opacity="1"/>
<polygon points="301.2,478.4 303.9,478.7 306.5,479.6 309.2,481.1 311.8,482.5 314.5,483.6 317.1,484.1 319.8,483.8 322.5,482.9 325.1,481.4 327.8,480.0 330.4,478.9 333.1,478.4 333.1,480.6 330.4,481.1 327.8,482.2 325.1,483.6 322.5,485.1 319.8,486.0 317.1,486.3 314.5,485.8 311.8,484.7 309.2,483.3 306.5,481.8 303.9,480.9 301.2,480.6" fill="#a86cb8" opacity="0.8"/>
<polygon points="301.2,483.4 303.9,483.9 306.5,485.1 309.2,486.5 311.8,487.9 314.5,488.9 317.1,489.2 319.8,488.7 322.5,487.5 325.1,486.1 327.8,484.7 330.4,483.7 333.1,483.4 333.1,484.7 330.4,485.0 327.8,486.0 325.1,487.4 322.5,488.8 319.8,490.0 317.1,490.5 314.5,490.2 311.8,489.2 309.2,487.8 306.5,486.4 303.9,485.2 301.2,484.7" fill="#fffafd" opacity="1"/>
<polygon points="301.2,485.0 303.9,485.8 306.5,487.0 309.2,488.5 311.8,489.8 314.5,490.6 317.1,490.7 319.8,489.9 322.5,488.7 325.1,487.2 327.8,485.9 330.4,485.1 333.1,485.0 333.1,487.8 330.4,487.9 327.8,488.7 325.1,490.0 322.5,491.5 319.8,492.7 317.1,493.5 314.5,493.4 311.8,492.6 309.2,491.3 306.5,489.8 303.9,488.6 301.2,487.8" fill="#ea6aa8" opacity="1"/>
<polygon points="301.2,488.2 303.9,489.1 306.5,490.4 309.2,491.9 311.8,493.1 314.5,493.8 317.1,493.7 319.8,492.8 322.5,491.5 325.1,490.0 327.8,488.8 330.4,488.1 333.1,488.2 333.1,489.8 330.4,489.7 327.8,490.4 325.1,491.6 322.5,493.1 319.8,494.4 317.1,495.3 314.5,495.4 311.8,494.7 309.2,493.5 306.5,492.0 303.9,490.7 301.2,489.8" fill="#fffafd" opacity="1"/>
<polygon points="301.2,490.0 303.9,491.0 306.5,492.6 309.2,494.2 311.8,495.4 314.5,496.0 317.1,495.7 319.8,494.7 322.5,493.1 325.1,491.5 327.8,490.3 330.4,489.7 333.1,490.0 333.1,491.8 330.4,491.5 327.8,492.1 325.1,493.3 322.5,494.9 319.8,496.5 317.1,497.5 314.5,497.8 311.8,497.2 309.2,496.0 306.5,494.4 303.9,492.8 301.2,491.8" fill="#f3a6c8" opacity="0.9"/>
</g>
<clipPath id="he10"><rect x="235.6" y="496.7" width="32.400000000000006" height="18.30000000000001"/></clipPath>
<g clip-path="url(#he10)">
<polygon points="235.6,499.8 238.3,500.9 241.0,501.5 243.7,501.6 246.4,501.1 249.1,500.2 251.8,499.1 254.5,498.0 257.2,497.4 259.9,497.3 262.6,497.8 265.3,498.7 268.0,499.8 268.0,505.0 265.3,503.9 262.6,503.0 259.9,502.5 257.2,502.6 254.5,503.2 251.8,504.3 249.1,505.4 246.4,506.3 243.7,506.8 241.0,506.7 238.3,506.1 235.6,505.0" fill="#c98ac6" opacity="1"/>
<polygon points="235.6,499.9 238.3,501.0 241.0,501.6 243.7,501.7 246.4,501.2 249.1,500.3 251.8,499.2 254.5,498.1 257.2,497.5 259.9,497.4 262.6,497.9 265.3,498.8 268.0,499.9 268.0,502.1 265.3,501.0 262.6,500.1 259.9,499.6 257.2,499.7 254.5,500.3 251.8,501.4 249.1,502.5 246.4,503.4 243.7,503.9 241.0,503.8 238.3,503.2 235.6,502.1" fill="#a86cb8" opacity="0.8"/>
<polygon points="235.6,505.3 238.3,506.3 241.0,506.8 243.7,506.7 246.4,506.0 249.1,505.0 251.8,503.9 254.5,502.9 257.2,502.4 259.9,502.5 262.6,503.2 265.3,504.2 268.0,505.3 268.0,506.6 265.3,505.5 262.6,504.5 259.9,503.8 257.2,503.7 254.5,504.2 251.8,505.2 249.1,506.3 246.4,507.3 243.7,508.0 241.0,508.1 238.3,507.6 235.6,506.6" fill="#fffafd" opacity="1"/>
<polygon points="235.6,507.2 238.3,508.0 241.0,508.3 243.7,508.1 246.4,507.3 249.1,506.2 251.8,505.1 254.5,504.3 257.2,504.0 259.9,504.2 262.6,505.0 265.3,506.1 268.0,507.2 268.0,510.0 265.3,508.9 262.6,507.8 259.9,507.0 257.2,506.8 254.5,507.1 251.8,507.9 249.1,509.0 246.4,510.1 243.7,510.9 241.0,511.1 238.3,510.8 235.6,510.0" fill="#ea6aa8" opacity="1"/>
<polygon points="235.6,510.5 238.3,511.2 241.0,511.4 243.7,511.1 246.4,510.2 249.1,509.1 251.8,508.0 254.5,507.3 257.2,507.1 259.9,507.4 262.6,508.3 265.3,509.4 268.0,510.5 268.0,512.1 265.3,511.0 262.6,509.9 259.9,509.0 257.2,508.7 254.5,508.9 251.8,509.6 249.1,510.7 246.4,511.8 243.7,512.7 241.0,513.0 238.3,512.8 235.6,512.1" fill="#fffafd" opacity="1"/>
<polygon points="235.6,512.7 238.3,513.4 241.0,513.5 243.7,513.0 246.4,512.0 249.1,510.8 251.8,509.6 254.5,508.9 257.2,508.8 259.9,509.3 262.6,510.3 265.3,511.5 268.0,512.7 268.0,514.5 265.3,513.3 262.6,512.1 259.9,511.1 257.2,510.6 254.5,510.7 251.8,511.4 249.1,512.6 246.4,513.8 243.7,514.8 241.0,515.3 238.3,515.2 235.6,514.5" fill="#f3a6c8" opacity="0.9"/>
</g>
<clipPath id="he11"><rect x="268" y="496.7" width="33.19999999999999" height="18.30000000000001"/></clipPath>
<g clip-path="url(#he11)">
<polygon points="268.0,498.6 270.8,499.9 273.5,501.0 276.3,501.8 279.1,501.9 281.8,501.4 284.6,500.3 287.4,499.0 290.1,497.9 292.9,497.1 295.7,497.0 298.4,497.5 301.2,498.6 301.2,503.8 298.4,502.7 295.7,502.2 292.9,502.3 290.1,503.1 287.4,504.2 284.6,505.5 281.8,506.6 279.1,507.1 276.3,507.0 273.5,506.2 270.8,505.1 268.0,503.8" fill="#c98ac6" opacity="1"/>
<polygon points="268.0,498.7 270.8,500.0 273.5,501.1 276.3,501.9 279.1,502.0 281.8,501.5 284.6,500.4 287.4,499.1 290.1,498.0 292.9,497.2 295.7,497.1 298.4,497.6 301.2,498.7 301.2,500.9 298.4,499.8 295.7,499.3 292.9,499.4 290.1,500.2 287.4,501.3 284.6,502.6 281.8,503.7 279.1,504.2 276.3,504.1 273.5,503.3 270.8,502.2 268.0,500.9" fill="#a86cb8" opacity="0.8"/>
<polygon points="268.0,504.1 270.8,505.4 273.5,506.4 276.3,507.0 279.1,507.0 281.8,506.3 284.6,505.1 287.4,503.8 290.1,502.8 292.9,502.2 295.7,502.2 298.4,502.9 301.2,504.1 301.2,505.4 298.4,504.2 295.7,503.5 292.9,503.5 290.1,504.1 287.4,505.1 284.6,506.4 281.8,507.6 279.1,508.3 276.3,508.3 273.5,507.7 270.8,506.7 268.0,505.4" fill="#fffafd" opacity="1"/>
<polygon points="268.0,506.0 270.8,507.3 273.5,508.2 276.3,508.6 279.1,508.4 281.8,507.5 284.6,506.3 287.4,505.0 290.1,504.1 292.9,503.7 295.7,503.9 298.4,504.8 301.2,506.0 301.2,508.8 298.4,507.6 295.7,506.7 292.9,506.5 290.1,506.9 287.4,507.8 284.6,509.1 281.8,510.3 279.1,511.2 276.3,511.4 273.5,511.0 270.8,510.1 268.0,508.8" fill="#ea6aa8" opacity="1"/>
<polygon points="268.0,509.4 270.8,510.6 273.5,511.4 276.3,511.7 279.1,511.3 281.8,510.4 284.6,509.1 287.4,507.9 290.1,507.1 292.9,506.8 295.7,507.2 298.4,508.1 301.2,509.4 301.2,511.0 298.4,509.7 295.7,508.8 292.9,508.4 290.1,508.7 287.4,509.5 284.6,510.7 281.8,512.0 279.1,512.9 276.3,513.3 273.5,513.0 270.8,512.2 268.0,511.0" fill="#fffafd" opacity="1"/>
<polygon points="268.0,511.5 270.8,512.8 273.5,513.7 276.3,513.8 279.1,513.3 281.8,512.2 284.6,510.8 287.4,509.5 290.1,508.6 292.9,508.5 295.7,509.0 298.4,510.1 301.2,511.5 301.2,513.3 298.4,511.9 295.7,510.8 292.9,510.3 290.1,510.4 287.4,511.3 284.6,512.6 281.8,514.0 279.1,515.1 276.3,515.6 273.5,515.5 270.8,514.6 268.0,513.3" fill="#f3a6c8" opacity="0.9"/>
</g>
<clipPath id="he12"><rect x="301.2" y="496.7" width="31.900000000000034" height="18.30000000000001"/></clipPath>
<g clip-path="url(#he12)">
<polygon points="301.2,498.5 303.9,499.3 306.5,500.1 309.2,500.8 311.8,501.1 314.5,501.0 317.1,500.4 319.8,499.6 322.5,498.8 325.1,498.1 327.8,497.8 330.4,497.9 333.1,498.5 333.1,503.7 330.4,503.1 327.8,503.0 325.1,503.3 322.5,504.0 319.8,504.8 317.1,505.6 314.5,506.2 311.8,506.3 309.2,506.0 306.5,505.3 303.9,504.5 301.2,503.7" fill="#c98ac6" opacity="1"/>
<polygon points="301.2,498.6 303.9,499.4 306.5,500.2 309.2,500.9 311.8,501.2 314.5,501.1 317.1,500.5 319.8,499.7 322.5,498.9 325.1,498.2 327.8,497.9 330.4,498.0 333.1,498.6 333.1,500.8 330.4,500.2 327.8,500.1 325.1,500.4 322.5,501.1 319.8,501.9 317.1,502.7 314.5,503.3 311.8,503.4 309.2,503.1 306.5,502.4 303.9,501.6 301.2,500.8" fill="#a86cb8" opacity="0.8"/>
<polygon points="301.2,503.8 303.9,504.7 306.5,505.5 309.2,506.1 311.8,506.3 314.5,506.0 317.1,505.4 319.8,504.5 322.5,503.7 325.1,503.1 327.8,502.9 330.4,503.2 333.1,503.8 333.1,505.1 330.4,504.5 327.8,504.2 325.1,504.4 322.5,505.0 319.8,505.8 317.1,506.7 314.5,507.3 311.8,507.6 309.2,507.4 306.5,506.8 303.9,506.0 301.2,505.1" fill="#fffafd" opacity="1"/>
<polygon points="301.2,505.6 303.9,506.5 306.5,507.3 309.2,507.7 311.8,507.8 314.5,507.4 317.1,506.7 319.8,505.8 322.5,505.0 325.1,504.6 327.8,504.5 330.4,504.9 333.1,505.6 333.1,508.4 330.4,507.7 327.8,507.3 325.1,507.4 322.5,507.8 319.8,508.6 317.1,509.5 314.5,510.2 311.8,510.6 309.2,510.5 306.5,510.1 303.9,509.3 301.2,508.4" fill="#ea6aa8" opacity="1"/>
<polygon points="301.2,508.9 303.9,509.7 306.5,510.5 309.2,510.9 311.8,510.8 314.5,510.4 317.1,509.6 319.8,508.8 322.5,508.0 325.1,507.6 327.8,507.7 330.4,508.1 333.1,508.9 333.1,510.5 330.4,509.7 327.8,509.3 325.1,509.2 322.5,509.6 319.8,510.4 317.1,511.2 314.5,512.0 311.8,512.4 309.2,512.5 306.5,512.1 303.9,511.3 301.2,510.5" fill="#fffafd" opacity="1"/>
<polygon points="301.2,510.9 303.9,511.9 306.5,512.6 309.2,513.0 311.8,512.8 314.5,512.3 317.1,511.4 319.8,510.4 322.5,509.7 325.1,509.3 327.8,509.5 330.4,510.0 333.1,510.9 333.1,512.7 330.4,511.8 327.8,511.3 325.1,511.1 322.5,511.5 319.8,512.2 317.1,513.2 314.5,514.1 311.8,514.6 309.2,514.8 306.5,514.4 303.9,513.7 301.2,512.7" fill="#f3a6c8" opacity="0.9"/>
</g>
<circle cx="290" cy="485.6" r="2.3" fill="#6d62b4"/>
<text x="250.8" y="477.8" font-size="5.3" fill="#333" class="sans" text-anchor="middle" font-weight="bold" textLength="13.8" lengthAdjust="spacingAndGlyphs" >Control</text>
<text x="282" y="477.8" font-size="5.3" fill="#333" class="sans" text-anchor="middle" font-weight="bold" textLength="11.6" lengthAdjust="spacingAndGlyphs" >Model</text>
<text x="317.2" y="477.8" font-size="5.3" fill="#333" class="sans" text-anchor="middle" font-weight="bold" textLength="13" lengthAdjust="spacingAndGlyphs" >5-ASA</text>
<text x="251.3" y="520.9" font-size="5.3" fill="#333" class="sans" text-anchor="middle" font-weight="bold" textLength="15" lengthAdjust="spacingAndGlyphs" >BRKL-L</text>
<text x="284" y="522.1" font-size="5.3" fill="#333" class="sans" text-anchor="middle" font-weight="bold" textLength="16.2" lengthAdjust="spacingAndGlyphs" >BRKL-M</text>
<text x="318.8" y="523.6" font-size="5.3" fill="#333" class="sans" text-anchor="middle" font-weight="bold" textLength="15.6" lengthAdjust="spacingAndGlyphs" >BRKL-H</text>
<path d="M344.5 480.3V515H373" fill="none" stroke="#333" stroke-width=".6"/>
<rect x="350.8" y="488.9" width="3.6" height="26.1" fill="#e884ec"/>
<path d="M352.6 488.9v-2.2" stroke="#e884ec" stroke-width=".5"/>
<rect x="355.5" y="506.1" width="3.1" height="8.9" fill="#a428c4"/>
<path d="M357.1 506.1v-2.2" stroke="#a428c4" stroke-width=".5"/>
<rect x="359.7" y="490" width="3.6" height="25.0" fill="#ecaaec"/>
<path d="M361.5 490v-2.2" stroke="#ecaaec" stroke-width=".5"/>
<rect x="364" y="493.6" width="3.2" height="21.4" fill="#d84cd8"/>
<path d="M365.6 493.6v-2.2" stroke="#d84cd8" stroke-width=".5"/>
<rect x="368" y="505" width="3.1" height="10.0" fill="#c428c4"/>
<path d="M369.6 505v-2.2" stroke="#c428c4" stroke-width=".5"/>
<path d="M352.5 470.5V469H369.5V473 M352.5 473.5V472H366V482 M349 482V480.6H362V484 M352.5 477.5V476.4H358V481" fill="none" stroke="#555" stroke-width=".45"/>
<path d="M347.5 521.5l2-3.6" stroke="#444" stroke-width=".6"/>
<path d="M351.6 521.5l2-3.6" stroke="#444" stroke-width=".6"/>
<path d="M355.7 521.5l2-3.6" stroke="#444" stroke-width=".6"/>
<path d="M359.8 521.5l2-3.6" stroke="#444" stroke-width=".6"/>
<path d="M363.9 521.5l2-3.6" stroke="#444" stroke-width=".6"/>
<path d="M368.0 521.5l2-3.6" stroke="#444" stroke-width=".6"/>
<text x="0" y="0" font-size="2.6" fill="#444" class="sans" textLength="24" lengthAdjust="spacingAndGlyphs" transform="translate(342.6 510) rotate(-90)">Histological score</text>
<rect x="235.6" y="546.7" width="102.20000000000002" height="34.39999999999998" fill="#f3eff6"/>
<clipPath id="ab00"><rect x="235.6" y="546.7" width="32.900000000000006" height="16.399999999999977"/></clipPath>
<g clip-path="url(#ab00)">
<polygon points="235.6,551.4 238.3,550.7 241.1,550.0 243.8,549.5 246.6,549.2 249.3,549.1 252.1,549.3 254.8,549.7 257.5,550.3 260.3,550.9 263.0,551.6 265.8,552.2 268.5,552.6 268.5,556.0 265.8,555.6 263.0,555.0 260.3,554.3 257.5,553.7 254.8,553.1 252.1,552.7 249.3,552.5 246.6,552.6 243.8,552.9 241.1,553.4 238.3,554.1 235.6,554.8" fill="#a9b8e2" opacity="0.9"/>
<polygon points="235.6,555.2 238.3,554.5 241.1,553.9 243.8,553.5 246.6,553.3 249.3,553.4 252.1,553.7 254.8,554.2 257.5,554.8 260.3,555.5 263.0,556.1 265.8,556.7 268.5,557.0 268.5,559.6 265.8,559.3 263.0,558.7 260.3,558.1 257.5,557.4 254.8,556.8 252.1,556.3 249.3,556.0 246.6,555.9 243.8,556.1 241.1,556.5 238.3,557.1 235.6,557.8" fill="#ecd5e6" opacity="0.9"/>
<polygon points="235.6,558.9 238.3,558.3 241.1,557.8 243.8,557.5 246.6,557.4 249.3,557.6 252.1,558.0 254.8,558.6 257.5,559.3 260.3,560.0 263.0,560.5 265.8,561.0 268.5,561.2 268.5,562.8 265.8,562.6 263.0,562.1 260.3,561.6 257.5,560.9 254.8,560.2 252.1,559.6 249.3,559.2 246.6,559.0 243.8,559.1 241.1,559.4 238.3,559.9 235.6,560.5" fill="#e6c8e0" opacity="0.7"/>
</g>
<clipPath id="ab01"><rect x="268.5" y="546.7" width="34.0" height="16.399999999999977"/></clipPath>
<g clip-path="url(#ab01)">
<polygon points="268.5,550.4 271.3,549.6 274.2,549.0 277.0,548.7 279.8,548.7 282.7,549.0 285.5,549.5 288.3,550.3 291.2,551.2 294.0,552.0 296.8,552.7 299.7,553.2 302.5,553.4 302.5,556.8 299.7,556.6 296.8,556.1 294.0,555.4 291.2,554.6 288.3,553.7 285.5,552.9 282.7,552.4 279.8,552.1 277.0,552.1 274.2,552.4 271.3,553.0 268.5,553.8" fill="#a9b8e2" opacity="0.9"/>
<polygon points="268.5,554.1 271.3,553.4 274.2,553.0 277.0,552.8 279.8,553.0 282.7,553.4 285.5,554.1 288.3,555.0 291.2,555.8 294.0,556.6 296.8,557.2 299.7,557.5 302.5,557.5 302.5,560.1 299.7,560.1 296.8,559.8 294.0,559.2 291.2,558.4 288.3,557.6 285.5,556.7 282.7,556.0 279.8,555.6 277.0,555.4 274.2,555.6 271.3,556.0 268.5,556.7" fill="#ecd5e6" opacity="0.9"/>
<polygon points="268.5,557.8 271.3,557.3 274.2,557.0 277.0,557.0 279.8,557.3 282.7,557.9 285.5,558.7 288.3,559.5 291.2,560.4 294.0,561.0 296.8,561.5 299.7,561.7 302.5,561.5 302.5,563.1 299.7,563.3 296.8,563.1 294.0,562.6 291.2,562.0 288.3,561.1 285.5,560.3 282.7,559.5 279.8,558.9 277.0,558.6 274.2,558.6 271.3,558.9 268.5,559.4" fill="#e6c8e0" opacity="0.7"/>
</g>
<clipPath id="ab02"><rect x="302.5" y="546.7" width="35.30000000000001" height="16.399999999999977"/></clipPath>
<g clip-path="url(#ab02)">
<polygon points="302.5,551.2 305.4,551.8 308.4,552.3 311.3,552.7 314.3,552.8 317.2,552.7 320.1,552.4 323.1,551.9 326.0,551.2 329.0,550.6 331.9,550.0 334.9,549.5 337.8,549.2 337.8,552.6 334.9,552.9 331.9,553.4 329.0,554.0 326.0,554.6 323.1,555.3 320.1,555.8 317.2,556.1 314.3,556.2 311.3,556.1 308.4,555.7 305.4,555.2 302.5,554.6" fill="#a9b8e2" opacity="0.9"/>
<polygon points="302.5,555.7 305.4,556.3 308.4,556.8 311.3,557.0 314.3,557.0 317.2,556.8 320.1,556.3 323.1,555.7 326.0,555.1 329.0,554.4 331.9,553.9 334.9,553.5 337.8,553.4 337.8,556.0 334.9,556.1 331.9,556.5 329.0,557.0 326.0,557.7 323.1,558.3 320.1,558.9 317.2,559.4 314.3,559.6 311.3,559.6 308.4,559.4 305.4,558.9 302.5,558.3" fill="#ecd5e6" opacity="0.9"/>
<polygon points="302.5,560.1 305.4,560.7 308.4,561.0 311.3,561.1 314.3,561.0 317.2,560.6 320.1,560.1 323.1,559.5 326.0,558.8 329.0,558.2 331.9,557.8 334.9,557.5 337.8,557.5 337.8,559.1 334.9,559.1 331.9,559.4 329.0,559.8 326.0,560.4 323.1,561.1 320.1,561.7 317.2,562.2 314.3,562.6 311.3,562.7 308.4,562.6 305.4,562.3 302.5,561.7" fill="#e6c8e0" opacity="0.7"/>
</g>
<clipPath id="ab10"><rect x="235.6" y="563.1" width="32.900000000000006" height="18.0"/></clipPath>
<g clip-path="url(#ab10)">
<polygon points="235.6,571.0 238.3,570.6 241.1,569.9 243.8,569.0 246.6,568.0 249.3,567.0 252.1,566.1 254.8,565.5 257.5,565.3 260.3,565.5 263.0,566.0 265.8,566.8 268.5,567.8 268.5,571.2 265.8,570.2 263.0,569.4 260.3,568.9 257.5,568.7 254.8,568.9 252.1,569.5 249.3,570.4 246.6,571.4 243.8,572.4 241.1,573.3 238.3,574.0 235.6,574.4" fill="#a9b8e2" opacity="0.9"/>
<polygon points="235.6,575.1 238.3,574.5 241.1,573.7 243.8,572.6 246.6,571.6 249.3,570.7 252.1,570.0 254.8,569.6 257.5,569.6 260.3,569.9 263.0,570.6 265.8,571.6 268.5,572.6 268.5,575.2 265.8,574.2 263.0,573.2 260.3,572.5 257.5,572.2 254.8,572.2 252.1,572.6 249.3,573.3 246.6,574.2 243.8,575.2 241.1,576.3 238.3,577.1 235.6,577.7" fill="#ecd5e6" opacity="0.9"/>
<polygon points="235.6,578.9 238.3,578.2 241.1,577.2 243.8,576.2 246.6,575.2 249.3,574.3 252.1,573.8 254.8,573.6 257.5,573.8 260.3,574.4 263.0,575.2 265.8,576.2 268.5,577.3 268.5,578.9 265.8,577.8 263.0,576.8 260.3,576.0 257.5,575.4 254.8,575.2 252.1,575.4 249.3,575.9 246.6,576.8 243.8,577.8 241.1,578.8 238.3,579.8 235.6,580.5" fill="#e6c8e0" opacity="0.7"/>
</g>
<clipPath id="ab11"><rect x="268.5" y="563.1" width="34.0" height="18.0"/></clipPath>
<g clip-path="url(#ab11)">
<polygon points="268.5,566.5 271.3,566.6 274.2,567.0 277.0,567.6 279.8,568.2 282.7,568.8 285.5,569.4 288.3,569.7 291.2,569.9 294.0,569.9 296.8,569.6 299.7,569.2 302.5,568.6 302.5,572.0 299.7,572.6 296.8,573.0 294.0,573.3 291.2,573.3 288.3,573.1 285.5,572.8 282.7,572.2 279.8,571.6 277.0,571.0 274.2,570.4 271.3,570.0 268.5,569.9" fill="#a9b8e2" opacity="0.9"/>
<polygon points="268.5,570.7 271.3,571.0 274.2,571.5 277.0,572.1 279.8,572.7 282.7,573.3 285.5,573.8 288.3,574.1 291.2,574.1 294.0,574.0 296.8,573.6 299.7,573.1 302.5,572.4 302.5,575.0 299.7,575.7 296.8,576.2 294.0,576.6 291.2,576.7 288.3,576.7 285.5,576.4 282.7,575.9 279.8,575.3 277.0,574.7 274.2,574.1 271.3,573.6 268.5,573.3" fill="#ecd5e6" opacity="0.9"/>
<polygon points="268.5,575.0 271.3,575.4 274.2,575.9 277.0,576.5 279.8,577.2 282.7,577.7 285.5,578.1 288.3,578.2 291.2,578.2 294.0,577.9 296.8,577.4 299.7,576.8 302.5,576.2 302.5,577.8 299.7,578.4 296.8,579.0 294.0,579.5 291.2,579.8 288.3,579.8 285.5,579.7 282.7,579.3 279.8,578.8 277.0,578.1 274.2,577.5 271.3,577.0 268.5,576.6" fill="#e6c8e0" opacity="0.7"/>
</g>
<clipPath id="ab12"><rect x="302.5" y="563.1" width="35.30000000000001" height="18.0"/></clipPath>
<g clip-path="url(#ab12)">
<polygon points="302.5,566.6 305.4,566.9 308.4,567.3 311.3,567.9 314.3,568.5 317.2,569.1 320.1,569.6 323.1,569.8 326.0,569.9 329.0,569.7 331.9,569.4 334.9,568.8 337.8,568.2 337.8,571.6 334.9,572.2 331.9,572.8 329.0,573.1 326.0,573.3 323.1,573.2 320.1,573.0 317.2,572.5 314.3,571.9 311.3,571.3 308.4,570.7 305.4,570.3 302.5,570.0" fill="#a9b8e2" opacity="0.9"/>
<polygon points="302.5,570.9 305.4,571.3 308.4,571.8 311.3,572.4 314.3,573.0 317.2,573.6 320.1,573.9 323.1,574.1 326.0,574.0 329.0,573.8 331.9,573.3 334.9,572.7 337.8,572.1 337.8,574.7 334.9,575.3 331.9,575.9 329.0,576.4 326.0,576.6 323.1,576.7 320.1,576.5 317.2,576.2 314.3,575.6 311.3,575.0 308.4,574.4 305.4,573.9 302.5,573.5" fill="#ecd5e6" opacity="0.9"/>
<polygon points="302.5,575.2 305.4,575.7 308.4,576.3 311.3,576.9 314.3,577.4 317.2,577.9 320.1,578.2 323.1,578.2 326.0,578.0 329.0,577.6 331.9,577.1 334.9,576.5 337.8,575.9 337.8,577.5 334.9,578.1 331.9,578.7 329.0,579.2 326.0,579.6 323.1,579.8 320.1,579.8 317.2,579.5 314.3,579.0 311.3,578.5 308.4,577.9 305.4,577.3 302.5,576.8" fill="#e6c8e0" opacity="0.7"/>
</g>
<circle cx="296" cy="552.4" r="2.6" fill="#d886a8"/><path d="M271 551.2h9" stroke="#58c8e8" stroke-width="1"/>
<text x="251.3" y="547" font-size="5.3" fill="#333" class="sans" text-anchor="middle" font-weight="bold" textLength="13.8" lengthAdjust="spacingAndGlyphs" >Control</text>
<text x="282.5" y="547" font-size="5.3" fill="#333" class="sans" text-anchor="middle" font-weight="bold" textLength="11.6" lengthAdjust="spacingAndGlyphs" >Model</text>
<text x="317.5" y="547" font-size="5.3" fill="#333" class="sans" text-anchor="middle" font-weight="bold" textLength="13" lengthAdjust="spacingAndGlyphs" >5-ASA</text>
<text x="251.3" y="586" font-size="5.3" fill="#333" class="sans" text-anchor="middle" font-weight="bold" textLength="15" lengthAdjust="spacingAndGlyphs" >BRKL-L</text>
<text x="284" y="586" font-size="5.3" fill="#333" class="sans" text-anchor="middle" font-weight="bold" textLength="16.2" lengthAdjust="spacingAndGlyphs" >BRKL-M</text>
<text x="318.8" y="586" font-size="5.3" fill="#333" class="sans" text-anchor="middle" font-weight="bold" textLength="15.6" lengthAdjust="spacingAndGlyphs" >BRKL-H</text>
<path d="M345 545V579.5H373.5" fill="none" stroke="#333" stroke-width=".6"/>
<rect x="348.1" y="553" width="2.7" height="26.5" fill="#7484f2"/>
<path d="M349.5 553v-2.6" stroke="#7484f2" stroke-width=".5"/>
<rect x="352.4" y="577.8" width="2.2" height="1.7" fill="#9aa4f4"/>
<path d="M353.5 577.8v-2.6" stroke="#9aa4f4" stroke-width=".5"/>
<rect x="356.3" y="560.8" width="2.8" height="18.7" fill="#74b4f2"/>
<path d="M357.7 560.8v-2.6" stroke="#74b4f2" stroke-width=".5"/>
<rect x="360.2" y="574.8" width="2.8" height="4.7" fill="#3448f2"/>
<path d="M361.6 574.8v-2.6" stroke="#3448f2" stroke-width=".5"/>
<rect x="364" y="569" width="3.2" height="10.5" fill="#1424f2"/>
<path d="M365.6 569v-2.6" stroke="#1424f2" stroke-width=".5"/>
<rect x="368.4" y="554.5" width="3.2" height="25.0" fill="#141c74"/>
<path d="M370.0 554.5v-2.6" stroke="#141c74" stroke-width=".5"/>
<path d="M353.5 535V533.4H370.5V549 M353.5 538.5V537.2H366.5V566 M349.5 548V546.6H362V570 M353.5 542.5V541.4H358V556" fill="none" stroke="#555" stroke-width=".45"/>
<path d="M347.5 586l2-3.6" stroke="#444" stroke-width=".6"/>
<path d="M351.6 586l2-3.6" stroke="#444" stroke-width=".6"/>
<path d="M355.7 586l2-3.6" stroke="#444" stroke-width=".6"/>
<path d="M359.8 586l2-3.6" stroke="#444" stroke-width=".6"/>
<path d="M363.9 586l2-3.6" stroke="#444" stroke-width=".6"/>
<path d="M368.0 586l2-3.6" stroke="#444" stroke-width=".6"/>
<text x="0" y="0" font-size="2.6" fill="#444" class="sans" textLength="16" lengthAdjust="spacingAndGlyphs" transform="translate(342.8 572) rotate(-90)">AB-PAS area</text>
</g>
<text x="65.7" y="626.6" font-size="15.6" fill="#111" class="sans" textLength="133.3" lengthAdjust="spacingAndGlyphs" >BRKL improves the</text>
<text x="65.7" y="647.9" font-size="15.6" fill="#111" class="sans" textLength="91.6" lengthAdjust="spacingAndGlyphs" >DAI in colitis.</text>
<text x="244.3" y="626.6" font-size="15.6" fill="#111" class="sans" textLength="109.7" lengthAdjust="spacingAndGlyphs" >BRKL maintains</text>
<text x="244.3" y="647.9" font-size="15.6" fill="#111" class="sans" textLength="119" lengthAdjust="spacingAndGlyphs" >colonic integrity.</text>
<g>
<polygon points="101,666.8 107.4,666.8 107.4,712.5 101,712.5" fill="#f3e4f0" opacity=".8"/>
<polygon points="101,676.8475177304964 107.4,675.2269503546099 107.4,685.7606382978723 101,687.3812056737588" fill="#d6f1f3" opacity=".9"/>
<polygon points="124,666.8 130.8,666.8 130.8,712.5 124,712.5" fill="#f3e4f0" opacity=".8"/>
<polygon points="124,676.8475177304964 130.8,675.2269503546099 130.8,685.7606382978723 124,687.3812056737588" fill="#d6f1f3" opacity=".9"/>
<polygon points="147.4,666.8 153.9,666.8 153.9,712.5 147.4,712.5" fill="#f3e4f0" opacity=".8"/>
<polygon points="147.4,676.8475177304964 153.9,675.2269503546099 153.9,685.7606382978723 147.4,687.3812056737588" fill="#d6f1f3" opacity=".9"/>
<rect x="84" y="711.20" width="17.0" height="1.30" fill="#27408b"/>
<rect x="84" y="699.05" width="17.0" height="12.15" fill="#e8a322"/>
<rect x="84" y="697.43" width="17.0" height="1.62" fill="#44c8d8"/>
<rect x="84" y="689.00" width="17.0" height="8.43" fill="#57a866"/>
<rect x="84" y="686.73" width="17.0" height="2.27" fill="#d478d4"/>
<rect x="84" y="680.90" width="17.0" height="5.83" fill="#c9c274"/>
<rect x="84" y="679.28" width="17.0" height="1.62" fill="#f3f3f3"/>
<rect x="84" y="676.85" width="17.0" height="2.43" fill="#4cc7d6"/>
<rect x="84" y="675.23" width="17.0" height="1.62" fill="#e2703a"/>
<rect x="84" y="673.61" width="17.0" height="1.62" fill="#3f9a4e"/>
<rect x="84" y="671.66" width="17.0" height="1.94" fill="#5a5a5a"/>
<rect x="84" y="670.04" width="17.0" height="1.62" fill="#8fa0c0"/>
<rect x="84" y="668.58" width="17.0" height="1.46" fill="#e36aa2"/>
<rect x="84" y="666.80" width="17.0" height="1.78" fill="#6a1f1f"/>
<rect x="107.4" y="690.62" width="16.6" height="21.88" fill="#e23f92"/>
<rect x="107.4" y="686.57" width="16.6" height="4.05" fill="#73b3da"/>
<rect x="107.4" y="684.95" width="16.6" height="1.62" fill="#5262d2"/>
<rect x="107.4" y="682.84" width="16.6" height="2.11" fill="#eea424"/>
<rect x="107.4" y="678.47" width="16.6" height="4.38" fill="#56d2d2"/>
<rect x="107.4" y="676.85" width="16.6" height="1.62" fill="#57a866"/>
<rect x="107.4" y="675.23" width="16.6" height="1.62" fill="#c070d0"/>
<rect x="107.4" y="673.28" width="16.6" height="1.94" fill="#3fb08e"/>
<rect x="107.4" y="671.66" width="16.6" height="1.62" fill="#2a5f9a"/>
<rect x="107.4" y="669.88" width="16.6" height="1.78" fill="#7aa040"/>
<rect x="107.4" y="668.58" width="16.6" height="1.30" fill="#d8a038"/>
<rect x="107.4" y="666.80" width="16.6" height="1.78" fill="#501818"/>
<rect x="130.8" y="704.40" width="16.6" height="8.10" fill="#e23f92"/>
<rect x="130.8" y="698.73" width="16.6" height="5.67" fill="#73abda"/>
<rect x="130.8" y="687.06" width="16.6" height="11.67" fill="#636bda"/>
<rect x="130.8" y="685.44" width="16.6" height="1.62" fill="#eea424"/>
<rect x="130.8" y="680.90" width="16.6" height="4.54" fill="#56d2d2"/>
<rect x="130.8" y="677.66" width="16.6" height="3.24" fill="#57a866"/>
<rect x="130.8" y="675.71" width="16.6" height="1.94" fill="#3fb08e"/>
<rect x="130.8" y="673.77" width="16.6" height="1.94" fill="#2a5f9a"/>
<rect x="130.8" y="671.82" width="16.6" height="1.94" fill="#4a9a4a"/>
<rect x="130.8" y="670.20" width="16.6" height="1.62" fill="#8f5fb4"/>
<rect x="130.8" y="668.58" width="16.6" height="1.62" fill="#d44a6a"/>
<rect x="130.8" y="666.80" width="16.6" height="1.78" fill="#501818"/>
<rect x="153.9" y="703.26" width="16.7" height="9.24" fill="#e23f92"/>
<rect x="153.9" y="689.81" width="16.7" height="13.45" fill="#73abda"/>
<rect x="153.9" y="680.90" width="16.7" height="8.91" fill="#636bda"/>
<rect x="153.9" y="679.28" width="16.7" height="1.62" fill="#eea424"/>
<rect x="153.9" y="675.71" width="16.7" height="3.57" fill="#56d2d2"/>
<rect x="153.9" y="671.99" width="16.7" height="3.73" fill="#57a866"/>
<rect x="153.9" y="670.37" width="16.7" height="1.62" fill="#3fb08e"/>
<rect x="153.9" y="668.74" width="16.7" height="1.62" fill="#6a7a3a"/>
<rect x="153.9" y="666.80" width="16.7" height="1.94" fill="#50241a"/>
<path d="M78.3 666.8V712.5H175.8" fill="none" stroke="#888" stroke-width=".5"/>
<text x="0" y="0" font-size="2.9" fill="#222" class="sans" font-weight="bold" textLength="25" lengthAdjust="spacingAndGlyphs" transform="translate(70.8 702.5) rotate(-90)">Relative abundance(%)</text>
<text x="0" y="0" font-size="2.4" fill="#555" class="sans" text-anchor="end" transform="translate(94.0 714.5) rotate(-45)">Control</text>
<text x="0" y="0" font-size="2.4" fill="#555" class="sans" text-anchor="end" transform="translate(117.2 714.5) rotate(-45)">Model</text>
<text x="0" y="0" font-size="2.4" fill="#555" class="sans" text-anchor="end" transform="translate(140.5 714.5) rotate(-45)">BRKL-L</text>
<text x="0" y="0" font-size="2.4" fill="#555" class="sans" text-anchor="end" transform="translate(163.5 714.5) rotate(-45)">BRKL-H</text>
<rect x="179" y="663.9" width="2.4" height="1.5" fill="#e23f92"/>
<text x="182.3" y="665.3" font-size="1.9" fill="#777" class="sans" textLength="26.0" lengthAdjust="spacingAndGlyphs" >g__Lactobacillus</text>
<rect x="179" y="665.7" width="2.4" height="1.5" fill="#636bda"/>
<text x="182.3" y="667.0999999999999" font-size="1.9" fill="#777" class="sans" textLength="28.2" lengthAdjust="spacingAndGlyphs" >g__Bacteroides</text>
<rect x="179" y="667.5" width="2.4" height="1.5" fill="#73abda"/>
<text x="182.3" y="668.9" font-size="1.9" fill="#777" class="sans" textLength="35.5" lengthAdjust="spacingAndGlyphs" >g__norank_f__Muribaculaceae</text>
<rect x="179" y="669.3" width="2.4" height="1.5" fill="#eea424"/>
<text x="182.3" y="670.6999999999999" font-size="1.9" fill="#777" class="sans" textLength="26.3" lengthAdjust="spacingAndGlyphs" >g__Escherichia-Shigella</text>
<rect x="179" y="671.1" width="2.4" height="1.5" fill="#56d2d2"/>
<text x="182.3" y="672.5" font-size="1.9" fill="#777" class="sans" textLength="27.2" lengthAdjust="spacingAndGlyphs" >g__Akkermansia</text>
<rect x="179" y="672.9" width="2.4" height="1.5" fill="#57a866"/>
<text x="182.3" y="674.3" font-size="1.9" fill="#777" class="sans" textLength="28.7" lengthAdjust="spacingAndGlyphs" >g__Lachnospiraceae_NK4A136_group</text>
<rect x="179" y="674.7" width="2.4" height="1.5" fill="#3fb08e"/>
<text x="182.3" y="676.0999999999999" font-size="1.9" fill="#777" class="sans" textLength="20.7" lengthAdjust="spacingAndGlyphs" >g__Dubosiella</text>
<rect x="179" y="676.5" width="2.4" height="1.5" fill="#d478d4"/>
<text x="182.3" y="677.9" font-size="1.9" fill="#777" class="sans" textLength="27.2" lengthAdjust="spacingAndGlyphs" >g__Alloprevotella</text>
<rect x="179" y="678.3" width="2.4" height="1.5" fill="#c9c274"/>
<text x="182.3" y="679.6999999999999" font-size="1.9" fill="#777" class="sans" textLength="29.6" lengthAdjust="spacingAndGlyphs" >g__Romboutsia</text>
<rect x="179" y="680.1" width="2.4" height="1.5" fill="#2a5f9a"/>
<text x="182.3" y="681.5" font-size="1.9" fill="#777" class="sans" textLength="32.9" lengthAdjust="spacingAndGlyphs" >g__Turicibacter</text>
<rect x="179" y="681.9" width="2.4" height="1.5" fill="#4a9a4a"/>
<text x="182.3" y="683.3" font-size="1.9" fill="#777" class="sans" textLength="18.9" lengthAdjust="spacingAndGlyphs" >g__Helicobacter</text>
<rect x="179" y="683.7" width="2.4" height="1.5" fill="#8f5fb4"/>
<text x="182.3" y="685.0999999999999" font-size="1.9" fill="#777" class="sans" textLength="23.1" lengthAdjust="spacingAndGlyphs" >g__Alistipes</text>
<rect x="179" y="685.5" width="2.4" height="1.5" fill="#d44a6a"/>
<text x="182.3" y="686.9" font-size="1.9" fill="#777" class="sans" textLength="18.8" lengthAdjust="spacingAndGlyphs" >g__Parabacteroides</text>
<rect x="179" y="687.3" width="2.4" height="1.5" fill="#6a1f1f"/>
<text x="182.3" y="688.6999999999999" font-size="1.9" fill="#777" class="sans" textLength="33.2" lengthAdjust="spacingAndGlyphs" >g__Enterococcus</text>
<rect x="179" y="689.1" width="2.4" height="1.5" fill="#e2703a"/>
<text x="182.3" y="690.5" font-size="1.9" fill="#777" class="sans" textLength="30.9" lengthAdjust="spacingAndGlyphs" >g__Clostridium_sensu_stricto_1</text>
<rect x="179" y="690.9" width="2.4" height="1.5" fill="#3f9a4e"/>
<text x="182.3" y="692.3" font-size="1.9" fill="#777" class="sans" textLength="17.8" lengthAdjust="spacingAndGlyphs" >g__Ruminococcus</text>
<rect x="179" y="692.7" width="2.4" height="1.5" fill="#5a5a5a"/>
<text x="182.3" y="694.0999999999999" font-size="1.9" fill="#777" class="sans" textLength="36.6" lengthAdjust="spacingAndGlyphs" >g__Odoribacter</text>
<rect x="179" y="694.5" width="2.4" height="1.5" fill="#8fa0c0"/>
<text x="182.3" y="695.9" font-size="1.9" fill="#777" class="sans" textLength="36.3" lengthAdjust="spacingAndGlyphs" >g__Desulfovibrio</text>
<rect x="179" y="696.3" width="2.4" height="1.5" fill="#7aa040"/>
<text x="182.3" y="697.6999999999999" font-size="1.9" fill="#777" class="sans" textLength="30.1" lengthAdjust="spacingAndGlyphs" >g__Mucispirillum</text>
<rect x="179" y="698.1" width="2.4" height="1.5" fill="#d8a038"/>
<text x="182.3" y="699.5" font-size="1.9" fill="#777" class="sans" textLength="29.3" lengthAdjust="spacingAndGlyphs" >g__Prevotellaceae_UCG-001</text>
<rect x="179" y="699.9" width="2.4" height="1.5" fill="#27408b"/>
<text x="182.3" y="701.3" font-size="1.9" fill="#777" class="sans" textLength="20.1" lengthAdjust="spacingAndGlyphs" >g__Blautia</text>
<rect x="179" y="701.7" width="2.4" height="1.5" fill="#44c8d8"/>
<text x="182.3" y="703.0999999999999" font-size="1.9" fill="#777" class="sans" textLength="17.3" lengthAdjust="spacingAndGlyphs" >g__Roseburia</text>
<rect x="179" y="703.5" width="2.4" height="1.5" fill="#888"/>
<text x="182.3" y="704.9" font-size="1.9" fill="#777" class="sans" textLength="27.6" lengthAdjust="spacingAndGlyphs" >g__Bifidobacterium</text>
<rect x="179" y="705.3" width="2.4" height="1.5" fill="#b04040"/>
<text x="182.3" y="706.6999999999999" font-size="1.9" fill="#777" class="sans" textLength="18.2" lengthAdjust="spacingAndGlyphs" >g__Oscillibacter</text>
<rect x="179" y="707.1" width="2.4" height="1.5" fill="#40a0a0"/>
<text x="182.3" y="708.5" font-size="1.9" fill="#777" class="sans" textLength="20.8" lengthAdjust="spacingAndGlyphs" >g__Colidextribacter</text>
<rect x="179" y="708.9" width="2.4" height="1.5" fill="#a0a040"/>
<text x="182.3" y="710.3" font-size="1.9" fill="#777" class="sans" textLength="21.8" lengthAdjust="spacingAndGlyphs" >g__Enterorhabdus</text>
<rect x="179" y="710.7" width="2.4" height="1.5" fill="#704090"/>
<text x="182.3" y="712.0999999999999" font-size="1.9" fill="#777" class="sans" textLength="17.6" lengthAdjust="spacingAndGlyphs" >g__Rikenella</text>
<rect x="179" y="712.5" width="2.4" height="1.5" fill="#309030"/>
<text x="182.3" y="713.9" font-size="1.9" fill="#777" class="sans" textLength="26.3" lengthAdjust="spacingAndGlyphs" >g__Streptococcus</text>
<rect x="179" y="714.3" width="2.4" height="1.5" fill="#c06030"/>
<text x="182.3" y="715.6999999999999" font-size="1.9" fill="#777" class="sans" textLength="25.8" lengthAdjust="spacingAndGlyphs" >g__Staphylococcus</text>
<rect x="179" y="716.1" width="2.4" height="1.5" fill="#50c050"/>
<text x="182.3" y="717.5" font-size="1.9" fill="#777" class="sans" textLength="33.8" lengthAdjust="spacingAndGlyphs" >others</text>
</g>
<g>
<text x="141" y="727.6" font-size="5.2" fill="#111" class="sans" text-anchor="middle" font-weight="bold" textLength="81" lengthAdjust="spacingAndGlyphs" >Principal Co-ordinates Analysis</text>
<rect x="77.5" y="731.9" width="127.1" height="55.9" fill="#fff" stroke="#bdbdbd" stroke-width=".7"/>
<ellipse cx="97.2" cy="773.7" rx="14.6" ry="9.4" transform="rotate(-28 97.2 773.7)" fill="#fdecf6" stroke="#ea62b2" stroke-width=".6"/>
<ellipse cx="131.7" cy="751.5" rx="17.4" ry="18.8" transform="rotate(20 131.7 751.5)" fill="#f1f8fc" stroke="#93cbe9" stroke-width=".6"/>
<ellipse cx="169.3" cy="769.5" rx="30.6" ry="8" transform="rotate(-8 169.3 769.5)" fill="#fdf5e6" stroke="#f0b252" stroke-width=".6"/>
<ellipse cx="163.6" cy="771.4" rx="10.6" ry="5.8" transform="rotate(38 163.6 771.4)" fill="#d6d6de" stroke="#848ce2" stroke-width=".6" fill-opacity=".85"/>
<rect x="99.2" y="775.7" width="2" height="1.4" fill="#ea2e9e"/>
<rect x="100.0" y="773.8" width="2" height="1.4" fill="#ea2e9e"/>
<rect x="101.9" y="770.6" width="2" height="1.4" fill="#ea2e9e"/>
<rect x="104.8" y="768.6" width="2" height="1.4" fill="#ea2e9e"/>
<rect x="108.1" y="774.1" width="2" height="1.4" fill="#ea2e9e"/>
<rect x="129.9" y="751.1" width="2" height="1.4" fill="#58aee6"/>
<rect x="135.6" y="748.2" width="2" height="1.4" fill="#58aee6"/>
<rect x="140.8" y="749.5" width="2" height="1.4" fill="#58aee6"/>
<rect x="142.9" y="745.0" width="2" height="1.4" fill="#58aee6"/>
<rect x="138.3" y="757.1" width="2" height="1.4" fill="#58aee6"/>
<rect x="166.7" y="767.6" width="2" height="1.4" fill="#4a58e0"/>
<rect x="168.0" y="769.7" width="2" height="1.4" fill="#4a58e0"/>
<rect x="172.8" y="770.6" width="2" height="1.4" fill="#4a58e0"/>
<rect x="170.7" y="773.6" width="2" height="1.4" fill="#4a58e0"/>
<rect x="161.3" y="769.6" width="2" height="1.4" fill="#f0a020"/>
<rect x="174.8" y="771.7" width="2" height="1.4" fill="#f0a020"/>
<rect x="178.3" y="768.0" width="2" height="1.4" fill="#f0a020"/>
<rect x="182.4" y="764.9" width="2" height="1.4" fill="#f0a020"/>
<rect x="206.6" y="755.9" width="3.2" height="1.6" fill="#ea2e9e"/>
<text x="210.6" y="757.4" font-size="2.4" fill="#222" class="sans" font-weight="bold" textLength="9.4" lengthAdjust="spacingAndGlyphs" >Control</text>
<rect x="206.6" y="758.3" width="3.2" height="1.6" fill="#58aee6"/>
<text x="210.6" y="759.8" font-size="2.4" fill="#222" class="sans" font-weight="bold" textLength="9.4" lengthAdjust="spacingAndGlyphs" >Model</text>
<rect x="206.6" y="760.7" width="3.2" height="1.6" fill="#4a58e0"/>
<text x="210.6" y="762.1999999999999" font-size="2.4" fill="#222" class="sans" font-weight="bold" textLength="9.4" lengthAdjust="spacingAndGlyphs" >BRKL-L</text>
<rect x="206.6" y="763.1" width="3.2" height="1.6" fill="#f0a020"/>
<text x="210.6" y="764.6" font-size="2.4" fill="#222" class="sans" font-weight="bold" textLength="9.4" lengthAdjust="spacingAndGlyphs" >BRKL-H</text>
<text x="141" y="792.3" font-size="3.6" fill="#333" class="sans" text-anchor="middle" font-weight="bold" textLength="28" lengthAdjust="spacingAndGlyphs" >PCoA1 (38.6%)</text>
<text x="0" y="0" font-size="3.6" fill="#333" class="sans" font-weight="bold" textLength="17" lengthAdjust="spacingAndGlyphs" transform="translate(69.4 768) rotate(-90)">PCoA2 (18.5%)</text>
<text x="102" y="790.2" font-size="2.2" fill="#777" class="sans" text-anchor="middle" >0.0</text>
<text x="140.5" y="790.2" font-size="2.2" fill="#777" class="sans" text-anchor="middle" >0.0</text>
<text x="179" y="790.2" font-size="2.2" fill="#777" class="sans" text-anchor="middle" >0.0</text>
<text x="76.6" y="749.5" font-size="2.2" fill="#777" class="sans" text-anchor="end" >0.25</text>
<text x="76.6" y="768" font-size="2.2" fill="#777" class="sans" text-anchor="end" >0.00</text>
<text x="76.6" y="786.5" font-size="2.2" fill="#777" class="sans" text-anchor="end" >-0.25</text>
</g>
<g>
<rect x="244.40" y="670.40" width="7.34" height="2.48" fill="#bb3e42"/>
<rect x="251.69" y="670.40" width="7.34" height="2.48" fill="#b01e24"/>
<rect x="258.98" y="670.40" width="7.34" height="2.48" fill="#e5b8b7"/>
<rect x="266.27" y="670.40" width="7.34" height="2.48" fill="#e7c0bf"/>
<rect x="273.56" y="670.40" width="7.34" height="2.48" fill="#c65e61"/>
<rect x="280.85" y="670.40" width="7.34" height="2.48" fill="#b01e24"/>
<rect x="288.14" y="670.40" width="7.34" height="2.48" fill="#9bb2d1"/>
<rect x="295.43" y="670.40" width="7.34" height="2.48" fill="#215198"/>
<rect x="302.72" y="670.40" width="7.34" height="2.48" fill="#3f6aa6"/>
<rect x="310.01" y="670.40" width="7.34" height="2.48" fill="#7796c1"/>
<rect x="317.30" y="670.40" width="7.34" height="2.48" fill="#c5d3e5"/>
<rect x="324.59" y="670.40" width="7.34" height="2.48" fill="#7b98c2"/>
<rect x="244.40" y="672.83" width="7.34" height="2.48" fill="#d99696"/>
<rect x="251.69" y="672.83" width="7.34" height="2.48" fill="#d58b8c"/>
<rect x="258.98" y="672.83" width="7.34" height="2.48" fill="#cb6c6f"/>
<rect x="266.27" y="672.83" width="7.34" height="2.48" fill="#e3b4b3"/>
<rect x="273.56" y="672.83" width="7.34" height="2.48" fill="#cf797b"/>
<rect x="280.85" y="672.83" width="7.34" height="2.48" fill="#c86567"/>
<rect x="288.14" y="672.83" width="7.34" height="2.48" fill="#f2e0dd"/>
<rect x="295.43" y="672.83" width="7.34" height="2.48" fill="#7796c1"/>
<rect x="302.72" y="672.83" width="7.34" height="2.48" fill="#c6d4e6"/>
<rect x="310.01" y="672.83" width="7.34" height="2.48" fill="#2c5a9d"/>
<rect x="317.30" y="672.83" width="7.34" height="2.48" fill="#becee2"/>
<rect x="324.59" y="672.83" width="7.34" height="2.48" fill="#88a3c9"/>
<rect x="244.40" y="675.26" width="7.34" height="2.48" fill="#dda4a3"/>
<rect x="251.69" y="675.26" width="7.34" height="2.48" fill="#d07b7d"/>
<rect x="258.98" y="675.26" width="7.34" height="2.48" fill="#b73338"/>
<rect x="266.27" y="675.26" width="7.34" height="2.48" fill="#d89393"/>
<rect x="273.56" y="675.26" width="7.34" height="2.48" fill="#b3292f"/>
<rect x="280.85" y="675.26" width="7.34" height="2.48" fill="#b01e24"/>
<rect x="288.14" y="675.26" width="7.34" height="2.48" fill="#f3e1de"/>
<rect x="295.43" y="675.26" width="7.34" height="2.48" fill="#f3e2de"/>
<rect x="302.72" y="675.26" width="7.34" height="2.48" fill="#1c4e96"/>
<rect x="310.01" y="675.26" width="7.34" height="2.48" fill="#96aecf"/>
<rect x="317.30" y="675.26" width="7.34" height="2.48" fill="#4770aa"/>
<rect x="324.59" y="675.26" width="7.34" height="2.48" fill="#c5d3e5"/>
<rect x="244.40" y="677.69" width="7.34" height="2.48" fill="#cd7475"/>
<rect x="251.69" y="677.69" width="7.34" height="2.48" fill="#c9686a"/>
<rect x="258.98" y="677.69" width="7.34" height="2.48" fill="#c35558"/>
<rect x="266.27" y="677.69" width="7.34" height="2.48" fill="#dfa8a7"/>
<rect x="273.56" y="677.69" width="7.34" height="2.48" fill="#cc7274"/>
<rect x="280.85" y="677.69" width="7.34" height="2.48" fill="#e2b2b1"/>
<rect x="288.14" y="677.69" width="7.34" height="2.48" fill="#e6bdbc"/>
<rect x="295.43" y="677.69" width="7.34" height="2.48" fill="#587eb2"/>
<rect x="302.72" y="677.69" width="7.34" height="2.48" fill="#7d9ac4"/>
<rect x="310.01" y="677.69" width="7.34" height="2.48" fill="#1c4e96"/>
<rect x="317.30" y="677.69" width="7.34" height="2.48" fill="#1c4e96"/>
<rect x="324.59" y="677.69" width="7.34" height="2.48" fill="#3b66a4"/>
<rect x="244.40" y="680.12" width="7.34" height="2.48" fill="#ba3b3f"/>
<rect x="251.69" y="680.12" width="7.34" height="2.48" fill="#ba3d41"/>
<rect x="258.98" y="680.12" width="7.34" height="2.48" fill="#c76366"/>
<rect x="266.27" y="680.12" width="7.34" height="2.48" fill="#e0abab"/>
<rect x="273.56" y="680.12" width="7.34" height="2.48" fill="#b01e24"/>
<rect x="280.85" y="680.12" width="7.34" height="2.48" fill="#eac9c7"/>
<rect x="288.14" y="680.12" width="7.34" height="2.48" fill="#3a65a4"/>
<rect x="295.43" y="680.12" width="7.34" height="2.48" fill="#a2b7d5"/>
<rect x="302.72" y="680.12" width="7.34" height="2.48" fill="#2f5d9f"/>
<rect x="310.01" y="680.12" width="7.34" height="2.48" fill="#91aacd"/>
<rect x="317.30" y="680.12" width="7.34" height="2.48" fill="#c7d5e6"/>
<rect x="324.59" y="680.12" width="7.34" height="2.48" fill="#7795c0"/>
<rect x="244.40" y="682.55" width="7.34" height="2.48" fill="#c4595c"/>
<rect x="251.69" y="682.55" width="7.34" height="2.48" fill="#ce7678"/>
<rect x="258.98" y="682.55" width="7.34" height="2.48" fill="#e1aead"/>
<rect x="266.27" y="682.55" width="7.34" height="2.48" fill="#6b8cbb"/>
<rect x="273.56" y="682.55" width="7.34" height="2.48" fill="#f0d9d6"/>
<rect x="280.85" y="682.55" width="7.34" height="2.48" fill="#cf7a7b"/>
<rect x="288.14" y="682.55" width="7.34" height="2.48" fill="#1c4e96"/>
<rect x="295.43" y="682.55" width="7.34" height="2.48" fill="#5077ae"/>
<rect x="302.72" y="682.55" width="7.34" height="2.48" fill="#8ca6cb"/>
<rect x="310.01" y="682.55" width="7.34" height="2.48" fill="#e4ebf4"/>
<rect x="317.30" y="682.55" width="7.34" height="2.48" fill="#1c4e96"/>
<rect x="324.59" y="682.55" width="7.34" height="2.48" fill="#5379b0"/>
<rect x="244.40" y="684.98" width="7.34" height="2.48" fill="#c9676a"/>
<rect x="251.69" y="684.98" width="7.34" height="2.48" fill="#c15053"/>
<rect x="258.98" y="684.98" width="7.34" height="2.48" fill="#f4e6e2"/>
<rect x="266.27" y="684.98" width="7.34" height="2.48" fill="#b01e24"/>
<rect x="273.56" y="684.98" width="7.34" height="2.48" fill="#e5b9b8"/>
<rect x="280.85" y="684.98" width="7.34" height="2.48" fill="#b22429"/>
<rect x="288.14" y="684.98" width="7.34" height="2.48" fill="#6c8dbc"/>
<rect x="295.43" y="684.98" width="7.34" height="2.48" fill="#9cb3d2"/>
<rect x="302.72" y="684.98" width="7.34" height="2.48" fill="#f1ddda"/>
<rect x="310.01" y="684.98" width="7.34" height="2.48" fill="#b3c5dd"/>
<rect x="317.30" y="684.98" width="7.34" height="2.48" fill="#86a2c8"/>
<rect x="324.59" y="684.98" width="7.34" height="2.48" fill="#2e5c9e"/>
<rect x="244.40" y="687.41" width="7.34" height="2.48" fill="#e1adac"/>
<rect x="251.69" y="687.41" width="7.34" height="2.48" fill="#f5e9e6"/>
<rect x="258.98" y="687.41" width="7.34" height="2.48" fill="#b01e24"/>
<rect x="266.27" y="687.41" width="7.34" height="2.48" fill="#e7eef6"/>
<rect x="273.56" y="687.41" width="7.34" height="2.48" fill="#98afd0"/>
<rect x="280.85" y="687.41" width="7.34" height="2.48" fill="#b01e24"/>
<rect x="288.14" y="687.41" width="7.34" height="2.48" fill="#e0e8f2"/>
<rect x="295.43" y="687.41" width="7.34" height="2.48" fill="#6083b6"/>
<rect x="302.72" y="687.41" width="7.34" height="2.48" fill="#bdcde2"/>
<rect x="310.01" y="687.41" width="7.34" height="2.48" fill="#3c67a5"/>
<rect x="317.30" y="687.41" width="7.34" height="2.48" fill="#4f76ae"/>
<rect x="324.59" y="687.41" width="7.34" height="2.48" fill="#a3b8d5"/>
<rect x="244.40" y="689.84" width="7.34" height="2.48" fill="#c45a5d"/>
<rect x="251.69" y="689.84" width="7.34" height="2.48" fill="#db9d9d"/>
<rect x="258.98" y="689.84" width="7.34" height="2.48" fill="#b01e24"/>
<rect x="266.27" y="689.84" width="7.34" height="2.48" fill="#bb3f43"/>
<rect x="273.56" y="689.84" width="7.34" height="2.48" fill="#cb6e70"/>
<rect x="280.85" y="689.84" width="7.34" height="2.48" fill="#efd7d4"/>
<rect x="288.14" y="689.84" width="7.34" height="2.48" fill="#87a2c8"/>
<rect x="295.43" y="689.84" width="7.34" height="2.48" fill="#6386b7"/>
<rect x="302.72" y="689.84" width="7.34" height="2.48" fill="#7695c0"/>
<rect x="310.01" y="689.84" width="7.34" height="2.48" fill="#bacbe0"/>
<rect x="317.30" y="689.84" width="7.34" height="2.48" fill="#4f76ae"/>
<rect x="324.59" y="689.84" width="7.34" height="2.48" fill="#91aacd"/>
<rect x="244.40" y="692.27" width="7.34" height="2.48" fill="#b93a3f"/>
<rect x="251.69" y="692.27" width="7.34" height="2.48" fill="#c55d60"/>
<rect x="258.98" y="692.27" width="7.34" height="2.48" fill="#b01e24"/>
<rect x="266.27" y="692.27" width="7.34" height="2.48" fill="#d8e2ee"/>
<rect x="273.56" y="692.27" width="7.34" height="2.48" fill="#d17e80"/>
<rect x="280.85" y="692.27" width="7.34" height="2.48" fill="#efd7d4"/>
<rect x="288.14" y="692.27" width="7.34" height="2.48" fill="#7695c0"/>
<rect x="295.43" y="692.27" width="7.34" height="2.48" fill="#da999a"/>
<rect x="302.72" y="692.27" width="7.34" height="2.48" fill="#1c4e96"/>
<rect x="310.01" y="692.27" width="7.34" height="2.48" fill="#6587b8"/>
<rect x="317.30" y="692.27" width="7.34" height="2.48" fill="#afc2db"/>
<rect x="324.59" y="692.27" width="7.34" height="2.48" fill="#839fc6"/>
<rect x="244.40" y="694.70" width="7.34" height="2.48" fill="#b63136"/>
<rect x="251.69" y="694.70" width="7.34" height="2.48" fill="#e6edf5"/>
<rect x="258.98" y="694.70" width="7.34" height="2.48" fill="#b52c32"/>
<rect x="266.27" y="694.70" width="7.34" height="2.48" fill="#e9c5c3"/>
<rect x="273.56" y="694.70" width="7.34" height="2.48" fill="#f0dad7"/>
<rect x="280.85" y="694.70" width="7.34" height="2.48" fill="#c04d51"/>
<rect x="288.14" y="694.70" width="7.34" height="2.48" fill="#a1b7d4"/>
<rect x="295.43" y="694.70" width="7.34" height="2.48" fill="#426ca8"/>
<rect x="302.72" y="694.70" width="7.34" height="2.48" fill="#3b66a4"/>
<rect x="310.01" y="694.70" width="7.34" height="2.48" fill="#6c8dbb"/>
<rect x="317.30" y="694.70" width="7.34" height="2.48" fill="#7a98c2"/>
<rect x="324.59" y="694.70" width="7.34" height="2.48" fill="#6e8ebc"/>
<rect x="244.40" y="697.13" width="7.34" height="2.48" fill="#ebcac8"/>
<rect x="251.69" y="697.13" width="7.34" height="2.48" fill="#aabed9"/>
<rect x="258.98" y="697.13" width="7.34" height="2.48" fill="#b01e24"/>
<rect x="266.27" y="697.13" width="7.34" height="2.48" fill="#ca6c6e"/>
<rect x="273.56" y="697.13" width="7.34" height="2.48" fill="#f1dcd9"/>
<rect x="280.85" y="697.13" width="7.34" height="2.48" fill="#e5ecf4"/>
<rect x="288.14" y="697.13" width="7.34" height="2.48" fill="#456ea9"/>
<rect x="295.43" y="697.13" width="7.34" height="2.48" fill="#5a7fb3"/>
<rect x="302.72" y="697.13" width="7.34" height="2.48" fill="#1c4e96"/>
<rect x="310.01" y="697.13" width="7.34" height="2.48" fill="#e9eff6"/>
<rect x="317.30" y="697.13" width="7.34" height="2.48" fill="#9cb3d2"/>
<rect x="324.59" y="697.13" width="7.34" height="2.48" fill="#6185b6"/>
<rect x="244.40" y="699.56" width="7.34" height="2.48" fill="#96aecf"/>
<rect x="251.69" y="699.56" width="7.34" height="2.48" fill="#8da7cb"/>
<rect x="258.98" y="699.56" width="7.34" height="2.48" fill="#cedaea"/>
<rect x="266.27" y="699.56" width="7.34" height="2.48" fill="#87a2c8"/>
<rect x="273.56" y="699.56" width="7.34" height="2.48" fill="#dee7f1"/>
<rect x="280.85" y="699.56" width="7.34" height="2.48" fill="#f5e7e3"/>
<rect x="288.14" y="699.56" width="7.34" height="2.48" fill="#d89394"/>
<rect x="295.43" y="699.56" width="7.34" height="2.48" fill="#dc9e9e"/>
<rect x="302.72" y="699.56" width="7.34" height="2.48" fill="#e7c1bf"/>
<rect x="310.01" y="699.56" width="7.34" height="2.48" fill="#d68d8e"/>
<rect x="317.30" y="699.56" width="7.34" height="2.48" fill="#e3b4b3"/>
<rect x="324.59" y="699.56" width="7.34" height="2.48" fill="#cf7a7b"/>
<rect x="244.40" y="701.99" width="7.34" height="2.48" fill="#92abce"/>
<rect x="251.69" y="701.99" width="7.34" height="2.48" fill="#a5bad6"/>
<rect x="258.98" y="701.99" width="7.34" height="2.48" fill="#205197"/>
<rect x="266.27" y="701.99" width="7.34" height="2.48" fill="#cfdbea"/>
<rect x="273.56" y="701.99" width="7.34" height="2.48" fill="#6285b7"/>
<rect x="280.85" y="701.99" width="7.34" height="2.48" fill="#7291be"/>
<rect x="288.14" y="701.99" width="7.34" height="2.48" fill="#dda4a3"/>
<rect x="295.43" y="701.99" width="7.34" height="2.48" fill="#c2d1e4"/>
<rect x="302.72" y="701.99" width="7.34" height="2.48" fill="#c96769"/>
<rect x="310.01" y="701.99" width="7.34" height="2.48" fill="#d4dfec"/>
<rect x="317.30" y="701.99" width="7.34" height="2.48" fill="#b12329"/>
<rect x="324.59" y="701.99" width="7.34" height="2.48" fill="#ce7879"/>
<rect x="244.40" y="704.42" width="7.34" height="2.48" fill="#f4e6e3"/>
<rect x="251.69" y="704.42" width="7.34" height="2.48" fill="#adc0da"/>
<rect x="258.98" y="704.42" width="7.34" height="2.48" fill="#b1c4dc"/>
<rect x="266.27" y="704.42" width="7.34" height="2.48" fill="#e8eff6"/>
<rect x="273.56" y="704.42" width="7.34" height="2.48" fill="#7796c1"/>
<rect x="280.85" y="704.42" width="7.34" height="2.48" fill="#f5e8e4"/>
<rect x="288.14" y="704.42" width="7.34" height="2.48" fill="#d38586"/>
<rect x="295.43" y="704.42" width="7.34" height="2.48" fill="#c96669"/>
<rect x="302.72" y="704.42" width="7.34" height="2.48" fill="#e2b1b0"/>
<rect x="310.01" y="704.42" width="7.34" height="2.48" fill="#c15053"/>
<rect x="317.30" y="704.42" width="7.34" height="2.48" fill="#bd464a"/>
<rect x="324.59" y="704.42" width="7.34" height="2.48" fill="#dda3a3"/>
<rect x="244.40" y="706.85" width="7.34" height="2.48" fill="#1c4e96"/>
<rect x="251.69" y="706.85" width="7.34" height="2.48" fill="#7796c1"/>
<rect x="258.98" y="706.85" width="7.34" height="2.48" fill="#9bb2d2"/>
<rect x="266.27" y="706.85" width="7.34" height="2.48" fill="#6e8ebc"/>
<rect x="273.56" y="706.85" width="7.34" height="2.48" fill="#2d5c9e"/>
<rect x="280.85" y="706.85" width="7.34" height="2.48" fill="#416ba7"/>
<rect x="288.14" y="706.85" width="7.34" height="2.48" fill="#d79091"/>
<rect x="295.43" y="706.85" width="7.34" height="2.48" fill="#90aacd"/>
<rect x="302.72" y="706.85" width="7.34" height="2.48" fill="#e0aaa9"/>
<rect x="310.01" y="706.85" width="7.34" height="2.48" fill="#b01e24"/>
<rect x="317.30" y="706.85" width="7.34" height="2.48" fill="#f3e1de"/>
<rect x="324.59" y="706.85" width="7.34" height="2.48" fill="#d68d8d"/>
<rect x="244.40" y="709.28" width="7.34" height="2.48" fill="#f1dcd9"/>
<rect x="251.69" y="709.28" width="7.34" height="2.48" fill="#b2c4dc"/>
<rect x="258.98" y="709.28" width="7.34" height="2.48" fill="#c2d1e4"/>
<rect x="266.27" y="709.28" width="7.34" height="2.48" fill="#6e8fbd"/>
<rect x="273.56" y="709.28" width="7.34" height="2.48" fill="#1c4e96"/>
<rect x="280.85" y="709.28" width="7.34" height="2.48" fill="#d07e7f"/>
<rect x="288.14" y="709.28" width="7.34" height="2.48" fill="#c76366"/>
<rect x="295.43" y="709.28" width="7.34" height="2.48" fill="#c9686b"/>
<rect x="302.72" y="709.28" width="7.34" height="2.48" fill="#b01e24"/>
<rect x="310.01" y="709.28" width="7.34" height="2.48" fill="#ba3b3f"/>
<rect x="317.30" y="709.28" width="7.34" height="2.48" fill="#ce7778"/>
<rect x="324.59" y="709.28" width="7.34" height="2.48" fill="#eed3d0"/>
<rect x="244.40" y="711.71" width="7.34" height="2.48" fill="#6e8ebc"/>
<rect x="251.69" y="711.71" width="7.34" height="2.48" fill="#6e8fbc"/>
<rect x="258.98" y="711.71" width="7.34" height="2.48" fill="#456ea9"/>
<rect x="266.27" y="711.71" width="7.34" height="2.48" fill="#3662a2"/>
<rect x="273.56" y="711.71" width="7.34" height="2.48" fill="#2b5a9d"/>
<rect x="280.85" y="711.71" width="7.34" height="2.48" fill="#7191be"/>
<rect x="288.14" y="711.71" width="7.34" height="2.48" fill="#e0aaaa"/>
<rect x="295.43" y="711.71" width="7.34" height="2.48" fill="#c55b5e"/>
<rect x="302.72" y="711.71" width="7.34" height="2.48" fill="#b42b30"/>
<rect x="310.01" y="711.71" width="7.34" height="2.48" fill="#c76265"/>
<rect x="317.30" y="711.71" width="7.34" height="2.48" fill="#cf7a7b"/>
<rect x="324.59" y="711.71" width="7.34" height="2.48" fill="#b01e24"/>
<rect x="244.40" y="714.14" width="7.34" height="2.48" fill="#adc0da"/>
<rect x="251.69" y="714.14" width="7.34" height="2.48" fill="#1c4e96"/>
<rect x="258.98" y="714.14" width="7.34" height="2.48" fill="#416ba7"/>
<rect x="266.27" y="714.14" width="7.34" height="2.48" fill="#89a4c9"/>
<rect x="273.56" y="714.14" width="7.34" height="2.48" fill="#3461a1"/>
<rect x="280.85" y="714.14" width="7.34" height="2.48" fill="#b5c7de"/>
<rect x="288.14" y="714.14" width="7.34" height="2.48" fill="#d5dfed"/>
<rect x="295.43" y="714.14" width="7.34" height="2.48" fill="#c8d6e7"/>
<rect x="302.72" y="714.14" width="7.34" height="2.48" fill="#b52e33"/>
<rect x="310.01" y="714.14" width="7.34" height="2.48" fill="#c04d51"/>
<rect x="317.30" y="714.14" width="7.34" height="2.48" fill="#e0e9f2"/>
<rect x="324.59" y="714.14" width="7.34" height="2.48" fill="#ce7677"/>
<rect x="244.40" y="716.57" width="7.34" height="2.48" fill="#e3ebf4"/>
<rect x="251.69" y="716.57" width="7.34" height="2.48" fill="#225298"/>
<rect x="258.98" y="716.57" width="7.34" height="2.48" fill="#1c4e96"/>
<rect x="266.27" y="716.57" width="7.34" height="2.48" fill="#1c4e96"/>
<rect x="273.56" y="716.57" width="7.34" height="2.48" fill="#2c5b9d"/>
<rect x="280.85" y="716.57" width="7.34" height="2.48" fill="#1c4e96"/>
<rect x="288.14" y="716.57" width="7.34" height="2.48" fill="#dda2a2"/>
<rect x="295.43" y="716.57" width="7.34" height="2.48" fill="#f7efeb"/>
<rect x="302.72" y="716.57" width="7.34" height="2.48" fill="#ce7779"/>
<rect x="310.01" y="716.57" width="7.34" height="2.48" fill="#b01e24"/>
<rect x="317.30" y="716.57" width="7.34" height="2.48" fill="#eccfcd"/>
<rect x="324.59" y="716.57" width="7.34" height="2.48" fill="#b73439"/>
<rect x="244.4" y="668.8" width="43.7" height="1.5" fill="#2fb52f"/><rect x="288.1" y="668.8" width="43.7" height="1.5" fill="#e8222a"/>
<path d="M255 667V660.7H308.4V667 M247.5 668V666.2H262.5V668 M251 668V667H258 M291 668V665.5H326V668 M298 668V666.6H319V668 M305 667.6V664.4H315" fill="none" stroke="#555" stroke-width=".45"/>
<path d="M242 686.6H229.5V712.5H242 M242 676H238V697H242 M242 703H236.5V716H242 M242 680H240V690H242 M242 707H240V713H242" fill="none" stroke="#555" stroke-width=".45"/>
<text x="333" y="672.4" font-size="2.1" fill="#888" class="sans" textLength="18.2" lengthAdjust="spacingAndGlyphs" >Taurine</text>
<text x="333" y="674.8299999999999" font-size="2.1" fill="#333" class="sans" textLength="19.6" lengthAdjust="spacingAndGlyphs" >Indole-3-acetic acid</text>
<text x="333" y="677.26" font-size="2.1" fill="#333" class="sans" textLength="19.9" lengthAdjust="spacingAndGlyphs" >L-Tryptophan</text>
<text x="333" y="679.6899999999999" font-size="2.1" fill="#888" class="sans" textLength="10.1" lengthAdjust="spacingAndGlyphs" >Deoxycholic acid</text>
<text x="333" y="682.12" font-size="2.1" fill="#333" class="sans" textLength="13.1" lengthAdjust="spacingAndGlyphs" >L-Glutamine</text>
<text x="333" y="684.55" font-size="2.1" fill="#333" class="sans" textLength="13.1" lengthAdjust="spacingAndGlyphs" >Arachidonic acid</text>
<text x="333" y="686.98" font-size="2.1" fill="#888" class="sans" textLength="13.9" lengthAdjust="spacingAndGlyphs" >Citric acid</text>
<text x="333" y="689.41" font-size="2.1" fill="#333" class="sans" textLength="11.5" lengthAdjust="spacingAndGlyphs" >Uridine</text>
<text x="333" y="691.84" font-size="2.1" fill="#333" class="sans" textLength="15.5" lengthAdjust="spacingAndGlyphs" >Hypoxanthine</text>
<text x="333" y="694.27" font-size="2.1" fill="#888" class="sans" textLength="10.8" lengthAdjust="spacingAndGlyphs" >Prostaglandin E2</text>
<text x="333" y="696.6999999999999" font-size="2.1" fill="#333" class="sans" textLength="13.0" lengthAdjust="spacingAndGlyphs" >Spermidine</text>
<text x="333" y="699.13" font-size="2.1" fill="#333" class="sans" textLength="19.4" lengthAdjust="spacingAndGlyphs" >Sphingosine 1-phosphate</text>
<text x="333" y="701.56" font-size="2.1" fill="#888" class="sans" textLength="17.4" lengthAdjust="spacingAndGlyphs" >L-Carnitine</text>
<text x="333" y="703.99" font-size="2.1" fill="#333" class="sans" textLength="14.6" lengthAdjust="spacingAndGlyphs" >Kynurenic acid</text>
<text x="333" y="706.42" font-size="2.1" fill="#333" class="sans" textLength="11.1" lengthAdjust="spacingAndGlyphs" >Xanthosine</text>
<text x="333" y="708.85" font-size="2.1" fill="#888" class="sans" textLength="19.6" lengthAdjust="spacingAndGlyphs" >Cholic acid</text>
<text x="333" y="711.28" font-size="2.1" fill="#333" class="sans" textLength="17.0" lengthAdjust="spacingAndGlyphs" >Butyric acid</text>
<text x="333" y="713.71" font-size="2.1" fill="#333" class="sans" textLength="12.1" lengthAdjust="spacingAndGlyphs" >L-Histidine</text>
<text x="333" y="716.14" font-size="2.1" fill="#888" class="sans" textLength="13.4" lengthAdjust="spacingAndGlyphs" >Glycine</text>
<text x="333" y="718.5699999999999" font-size="2.1" fill="#333" class="sans" textLength="16.4" lengthAdjust="spacingAndGlyphs" >Linoleic acid</text>
<text x="248.04500000000002" y="721.2" font-size="2" fill="#777" class="sans" text-anchor="middle" >C1</text>
<text x="255.335" y="721.2" font-size="2" fill="#777" class="sans" text-anchor="middle" >C2</text>
<text x="262.625" y="721.2" font-size="2" fill="#777" class="sans" text-anchor="middle" >C3</text>
<text x="269.91499999999996" y="721.2" font-size="2" fill="#777" class="sans" text-anchor="middle" >C4</text>
<text x="277.205" y="721.2" font-size="2" fill="#777" class="sans" text-anchor="middle" >C5</text>
<text x="284.495" y="721.2" font-size="2" fill="#777" class="sans" text-anchor="middle" >C6</text>
<text x="291.78499999999997" y="721.2" font-size="2" fill="#777" class="sans" text-anchor="middle" >M1</text>
<text x="299.075" y="721.2" font-size="2" fill="#777" class="sans" text-anchor="middle" >M2</text>
<text x="306.365" y="721.2" font-size="2" fill="#777" class="sans" text-anchor="middle" >M3</text>
<text x="313.655" y="721.2" font-size="2" fill="#777" class="sans" text-anchor="middle" >M4</text>
<text x="320.945" y="721.2" font-size="2" fill="#777" class="sans" text-anchor="middle" >M5</text>
<text x="328.235" y="721.2" font-size="2" fill="#777" class="sans" text-anchor="middle" >M6</text>
<defs><linearGradient id="ghm" x1="0" y1="0" x2="0" y2="1"><stop offset="0" stop-color="#a01820"/><stop offset=".5" stop-color="#f6f0ec"/><stop offset="1" stop-color="#1c4e96"/></linearGradient></defs>
<rect x="354.5" y="668.8" width="3.6" height="21" fill="url(#ghm)"/>
<rect x="362.6" y="669.2" width="3" height="1.5" fill="#e8222a"/><rect x="362.6" y="671" width="3" height="1.5" fill="#2fb52f"/>
<text x="362.6" y="668.6" font-size="2" fill="#555" class="sans" >Group</text>
<text x="366.2" y="670.6" font-size="1.9" fill="#555" class="sans" >M</text>
<text x="366.2" y="672.4" font-size="1.9" fill="#555" class="sans" >C</text>
<text x="358.8" y="670.2" font-size="2" fill="#666" class="sans" >2</text>
<text x="358.8" y="679.8" font-size="2" fill="#666" class="sans" >0</text>
<text x="358.8" y="689.6" font-size="2" fill="#666" class="sans" >-2</text>
</g>
<defs><g id="bubble">
<rect x="299.5" y="731.1" width="51.5" height="57" fill="#fff" stroke="#cfcfcf" stroke-width=".6"/>
<path d="M307.6 731.1V788.1" stroke="#ececec" stroke-width=".4"/>
<path d="M319.7 731.1V788.1" stroke="#ececec" stroke-width=".4"/>
<path d="M331.9 731.1V788.1" stroke="#ececec" stroke-width=".4"/>
<path d="M344.0 731.1V788.1" stroke="#ececec" stroke-width=".4"/>
<path d="M299.5 733.5H351" stroke="#f0f0f0" stroke-width=".3"/>
<ellipse cx="347.7" cy="733.5" rx="1.49" ry="0.81" fill="#c8c820"/>
<text x="298.6" y="734.429792746114" font-size="2.7" fill="#8a8a8a" class="sans" text-anchor="end" textLength="34" lengthAdjust="spacingAndGlyphs" >Arachidonic acid metabolism</text>
<path d="M299.5 736.6H351" stroke="#f0f0f0" stroke-width=".3"/>
<ellipse cx="337.9" cy="736.6" rx="1.95" ry="1.05" fill="#f04818"/>
<text x="298.6" y="737.5450777202072" font-size="2.7" fill="#8a8a8a" class="sans" text-anchor="end" textLength="43" lengthAdjust="spacingAndGlyphs" >Sphingolipid signaling pathway</text>
<path d="M299.5 739.8H351" stroke="#f0f0f0" stroke-width=".3"/>
<ellipse cx="336.7" cy="739.8" rx="1.84" ry="0.99" fill="#f05a18"/>
<text x="298.6" y="740.6603626943005" font-size="2.7" fill="#8a8a8a" class="sans" text-anchor="end" textLength="41" lengthAdjust="spacingAndGlyphs" >Tryptophan metabolism</text>
<path d="M299.5 742.9H351" stroke="#f0f0f0" stroke-width=".3"/>
<ellipse cx="335.6" cy="742.9" rx="1.72" ry="0.93" fill="#48d028"/>
<text x="298.6" y="743.7756476683937" font-size="2.7" fill="#8a8a8a" class="sans" text-anchor="end" textLength="45" lengthAdjust="spacingAndGlyphs" >JAK-STAT signaling pathway</text>
<path d="M299.5 746.0H351" stroke="#f0f0f0" stroke-width=".3"/>
<ellipse cx="331.9" cy="746.0" rx="1.72" ry="0.93" fill="#f06018"/>
<text x="298.6" y="746.890932642487" font-size="2.7" fill="#8a8a8a" class="sans" text-anchor="end" textLength="27" lengthAdjust="spacingAndGlyphs" >Inflammatory bowel disease</text>
<path d="M299.5 749.1H351" stroke="#f0f0f0" stroke-width=".3"/>
<ellipse cx="326.0" cy="749.1" rx="1.49" ry="0.81" fill="#60d820"/>
<text x="298.6" y="750.0062176165803" font-size="2.7" fill="#8a8a8a" class="sans" text-anchor="end" textLength="18" lengthAdjust="spacingAndGlyphs" >Bile secretion</text>
<path d="M299.5 752.2H351" stroke="#f0f0f0" stroke-width=".3"/>
<ellipse cx="325.7" cy="752.2" rx="1.03" ry="0.56" fill="#a8a020"/>
<text x="298.6" y="753.1215025906736" font-size="2.7" fill="#8a8a8a" class="sans" text-anchor="end" textLength="16" lengthAdjust="spacingAndGlyphs" >Ferroptosis</text>
<path d="M299.5 755.3H351" stroke="#f0f0f0" stroke-width=".3"/>
<ellipse cx="324.6" cy="755.3" rx="2.42" ry="1.30" fill="#f02818"/>
<text x="298.6" y="756.2367875647668" font-size="2.7" fill="#8a8a8a" class="sans" text-anchor="end" textLength="35" lengthAdjust="spacingAndGlyphs" >Glycerophospholipid metabolism</text>
<path d="M299.5 758.5H351" stroke="#f0f0f0" stroke-width=".3"/>
<ellipse cx="322.3" cy="758.5" rx="1.15" ry="0.62" fill="#a8a828"/>
<text x="298.6" y="759.35207253886" font-size="2.7" fill="#8a8a8a" class="sans" text-anchor="end" textLength="58" lengthAdjust="spacingAndGlyphs" >Th17 cell differentiation and development</text>
<path d="M299.5 761.6H351" stroke="#f0f0f0" stroke-width=".3"/>
<ellipse cx="321.2" cy="761.6" rx="1.49" ry="0.81" fill="#b0b020"/>
<text x="298.6" y="762.4673575129533" font-size="2.7" fill="#8a8a8a" class="sans" text-anchor="end" textLength="40" lengthAdjust="spacingAndGlyphs" >Linoleic acid metabolism</text>
<path d="M299.5 764.7H351" stroke="#f0f0f0" stroke-width=".3"/>
<ellipse cx="320.0" cy="764.7" rx="1.84" ry="0.99" fill="#f04018"/>
<text x="298.6" y="765.5826424870467" font-size="2.7" fill="#8a8a8a" class="sans" text-anchor="end" textLength="37" lengthAdjust="spacingAndGlyphs" >HIF-1 signaling pathway</text>
<path d="M299.5 767.8H351" stroke="#f0f0f0" stroke-width=".3"/>
<ellipse cx="317.6" cy="767.8" rx="1.49" ry="0.81" fill="#50d028"/>
<text x="298.6" y="768.6979274611399" font-size="2.7" fill="#8a8a8a" class="sans" text-anchor="end" textLength="54" lengthAdjust="spacingAndGlyphs" >Bacterial invasion of epithelial cells</text>
<path d="M299.5 770.9H351" stroke="#f0f0f0" stroke-width=".3"/>
<ellipse cx="315.0" cy="770.9" rx="2.30" ry="1.24" fill="#f02818"/>
<text x="298.6" y="771.8132124352331" font-size="2.7" fill="#8a8a8a" class="sans" text-anchor="end" textLength="19" lengthAdjust="spacingAndGlyphs" >Steroid biosynthesis</text>
<path d="M299.5 774.0H351" stroke="#f0f0f0" stroke-width=".3"/>
<ellipse cx="312.6" cy="774.0" rx="1.38" ry="0.74" fill="#b0d020"/>
<text x="298.6" y="774.9284974093264" font-size="2.7" fill="#8a8a8a" class="sans" text-anchor="end" textLength="63" lengthAdjust="spacingAndGlyphs" >Primary bile acid biosynthesis and secretion</text>
<path d="M299.5 777.1H351" stroke="#f0f0f0" stroke-width=".3"/>
<ellipse cx="310.0" cy="777.1" rx="1.26" ry="0.68" fill="#38c828"/>
<text x="298.6" y="778.0437823834196" font-size="2.7" fill="#8a8a8a" class="sans" text-anchor="end" textLength="49" lengthAdjust="spacingAndGlyphs" >Taurine and hypotaurine metabolism</text>
<path d="M299.5 780.3H351" stroke="#f0f0f0" stroke-width=".3"/>
<ellipse cx="308.7" cy="780.3" rx="1.72" ry="0.93" fill="#40d028"/>
<text x="298.6" y="781.1590673575129" font-size="2.7" fill="#8a8a8a" class="sans" text-anchor="end" textLength="51" lengthAdjust="spacingAndGlyphs" >Purine metabolism signaling pathway</text>
<path d="M299.5 783.4H351" stroke="#f0f0f0" stroke-width=".3"/>
<ellipse cx="306.6" cy="783.4" rx="1.84" ry="0.99" fill="#f02018"/>
<text x="298.6" y="784.2743523316061" font-size="2.7" fill="#8a8a8a" class="sans" text-anchor="end" textLength="34" lengthAdjust="spacingAndGlyphs" >Fatty acid biosynthesis</text>
<path d="M299.5 786.5H351" stroke="#f0f0f0" stroke-width=".3"/>
<ellipse cx="301.7" cy="786.5" rx="1.38" ry="0.74" fill="#f01818"/>
<text x="298.6" y="787.3896373056995" font-size="2.7" fill="#8a8a8a" class="sans" text-anchor="end" textLength="35" lengthAdjust="spacingAndGlyphs" >Fatty acid degradation</text>
<text x="307.5777202072539" y="790.8" font-size="2.2" fill="#777" class="sans" text-anchor="middle" >0.02</text>
<text x="319.7215025906736" y="790.8" font-size="2.2" fill="#777" class="sans" text-anchor="middle" >0.04</text>
<text x="331.86528497409324" y="790.8" font-size="2.2" fill="#777" class="sans" text-anchor="middle" >0.06</text>
<text x="344.00906735751295" y="790.8" font-size="2.2" fill="#777" class="sans" text-anchor="middle" >0.08</text>
<defs><linearGradient id="gbb" x1="0" y1="0" x2="0" y2="1"><stop offset="0" stop-color="#f01818"/><stop offset=".5" stop-color="#d0a020"/><stop offset="1" stop-color="#30e828"/></linearGradient></defs>
<rect x="356.2" y="747.6" width="6.4" height="13.4" fill="url(#gbb)"/>
<text x="356.2" y="746.6" font-size="2.3" fill="#777" class="sans" textLength="25" lengthAdjust="spacingAndGlyphs" >-log10(pvalue)</text>
<text x="364" y="749" font-size="2.1" fill="#777" class="sans" >3.0</text>
<text x="364" y="753.2" font-size="2.1" fill="#777" class="sans" >2.5</text>
<text x="364" y="757.4" font-size="2.1" fill="#777" class="sans" >2.0</text>
<text x="364" y="761.4" font-size="2.1" fill="#777" class="sans" >1.5</text>
<text x="356.2" y="765.6" font-size="2.3" fill="#555" class="sans" font-weight="bold" >Count</text>
<ellipse cx="359.4" cy="768.4" rx="1.8" ry="0.8" fill="#111"/>
<text x="364" y="769.1999999999999" font-size="2.1" fill="#777" class="sans" >2</text>
<ellipse cx="359.4" cy="771.4" rx="2.2" ry="1.0" fill="#111"/>
<text x="364" y="772.1999999999999" font-size="2.1" fill="#777" class="sans" >4</text>
<ellipse cx="359.4" cy="774.2" rx="2.6" ry="1.2" fill="#111"/>
<text x="364" y="775.0" font-size="2.1" fill="#777" class="sans" >6</text>
</g></defs>
<use href="#bubble"/>
<text x="75" y="817.3" font-size="15.6" fill="#111" class="sans" textLength="133.3" lengthAdjust="spacingAndGlyphs" >BRKL improves the</text>
<text x="75" y="838.3" font-size="15.6" fill="#111" class="sans" textLength="121.7" lengthAdjust="spacingAndGlyphs" >gut microbiota in</text>
<text x="75" y="859.6" font-size="15.6" fill="#111" class="sans" textLength="45" lengthAdjust="spacingAndGlyphs" >colitis.</text>
<text x="235.7" y="816.3" font-size="15.6" fill="#111" class="sans" textLength="101.6" lengthAdjust="spacingAndGlyphs" >Metabolomics</text>
<text x="235.7" y="837.3" font-size="15.6" fill="#111" class="sans" textLength="127.6" lengthAdjust="spacingAndGlyphs" >identifies the JAK-</text>
<text x="235.7" y="858.9" font-size="15.6" fill="#111" class="sans" textLength="104.3" lengthAdjust="spacingAndGlyphs" >STAT pathway.</text>
<text x="649.4" y="113.9" font-size="14.2" fill="#111" class="sans" textLength="90.4" lengthAdjust="spacingAndGlyphs" >UPLC-QE-MS</text>
<text x="465" y="129" font-size="14.2" fill="#111" class="sans" textLength="109" lengthAdjust="spacingAndGlyphs" >Bairui Granules</text>
<g transform="translate(466 133) scale(1.0938 0.9439)" clip-path="url(#herbclip)"><use href="#herb"/></g>
<path d="M579.10 161.05H603.40V157.05L611.09 164.50L603.40 171.95V167.95H579.10Z" fill="#4472c4" stroke="#13265c" stroke-width="1.4"/>
<g>
<rect x="615" y="120.3" width="176.3" height="100.2" fill="#e4e9ef"/>
<defs><linearGradient id="gms1" x1="0" y1="0" x2="0" y2="1"><stop offset="0" stop-color="#f2f2f2"/><stop offset=".55" stop-color="#dcdcdc"/><stop offset="1" stop-color="#c2c4c6"/></linearGradient><linearGradient id="gms2" x1="0" y1="0" x2="1" y2="0"><stop offset="0" stop-color="#c6c8ca"/><stop offset="1" stop-color="#a4a6a8"/></linearGradient></defs>
<polygon points="628.0,183.8 668.4,191.2 700.9,200.0 724.5,191.2 724.5,197.7 697.7,209.4 640.7,196.4 629.3,189.2" fill="#35373a"/>
<ellipse cx="639.9" cy="193.6" rx="5" ry="2.6" fill="#2c2e30"/><ellipse cx="696.0" cy="207.4" rx="5" ry="2.6" fill="#2c2e30"/>
<polygon points="625.7,148.8 627.7,143.6 631.7,140.4 672.4,137.1 672.4,183.8 669.2,191.5 627.3,184.3 624.7,179.8" fill="url(#gms1)"/>
<polygon points="631.7,140.4 644.8,136.6 678.1,135.0 672.4,137.8" fill="#f4f4f4"/>
<polygon points="672.4,137.8 677.8,129.6 691.2,128.0 714.0,130.0 715.9,139.1 701.7,141.5 692.0,184.6 670.0,183.3" fill="url(#gms2)"/>
<polygon points="677.8,129.6 691.2,128.0 688.7,142.7 672.4,142.7 672.4,137.8" fill="#ececec"/>
<polygon points="691.2,128.0 714.0,130.0 715.9,139.1 704.2,139.1 697.7,148.8 691.2,148.8" fill="#9a9c9e"/>
<polygon points="672.9,155.7 681.1,154.2 684.0,158.3 683.3,166.7 675.2,170.3 672.4,165.4" fill="#8ec6ee"/>
<path d="M674.1 164.3L682.2 156.2M675.7 168.4L683.3 161.0" stroke="#c8e6fa" stroke-width=".8"/>
<circle cx="671.6" cy="174.1" r="2" fill="#3a3c3e"/>
<polygon points="701.3,148.8 717.5,148.8 714.0,184.6 691.2,184.6 696.0,168.4" fill="#6c6e70"/>
<polygon points="691.2,184.6 714.0,184.6 715.6,171.6 704.2,176.5" fill="#505254"/>
<polygon points="695.2,165.1 701.7,164.3 701.7,171.6 696.0,172.4" fill="#4a4c4e"/><polygon points="703.4,159.4 712.3,159.4 712.3,163.8 703.4,163.8" fill="#c8cacc"/>
<polygon points="701.3,142.7 706.1,138.4 726.6,137.4 729.6,140.7 729.6,179.8 705.0,191.5 701.3,199.6 668.4,191.2 670.0,183.3 714.0,185.0 717.5,148.8 701.3,148.8" fill="#f5f5f5"/>
<polygon points="729.6,140.7 731.2,142.7 731.2,181.4 729.6,179.8" fill="#8a8c8e"/>
<polygon points="705.0,191.5 725.7,181.4 725.7,188.2 706.6,196.4" fill="#404244"/>
<rect x="755.5" y="148.0" width="5.7" height="29.3" fill="#9c9ea0"/><rect x="755.5" y="148.0" width="2" height="29.3" fill="#c2c4c6"/>
<polygon points="731.9,174.6 751.4,174.1 777.8,178.5 777.8,183.3 772.6,186.3 731.9,180.1" fill="#c2c4c6"/><polygon points="731.9,174.6 751.4,174.1 777.8,178.5 762.8,178.1" fill="#dcdcdc"/>
<polygon points="728.6,195.2 768.5,212.3 785.6,197.7 785.6,191.2 767.7,188.7 743.3,191.2" fill="#a6a8aa"/>
<polygon points="728.6,195.2 728.6,206.1 767.7,217.5 768.5,212.3" fill="#8a8c8e"/><polygon points="768.5,212.3 767.7,217.5 785.6,202.2 785.6,197.7" fill="#7a7c7e"/>
<polygon points="743.3,204.2 769.3,212.3 772.6,209.1 746.5,200.9" fill="#c8cacc"/>
<polygon points="753.8,191.2 764.7,186.3 785.6,190.5 772.9,201.3" fill="#e2e2e2"/>
<circle cx="758.7" cy="189.2" r=".9" fill="#8e9092"/>
<circle cx="756.8" cy="191.8" r=".9" fill="#8e9092"/>
<circle cx="754.8" cy="194.4" r=".9" fill="#8e9092"/>
<circle cx="752.9" cy="197.0" r=".9" fill="#8e9092"/>
<circle cx="762.3" cy="189.9" r=".9" fill="#8e9092"/>
<circle cx="760.3" cy="192.5" r=".9" fill="#8e9092"/>
<circle cx="758.4" cy="195.1" r=".9" fill="#8e9092"/>
<circle cx="756.4" cy="197.7" r=".9" fill="#8e9092"/>
<circle cx="765.9" cy="190.5" r=".9" fill="#8e9092"/>
<circle cx="763.9" cy="193.1" r=".9" fill="#8e9092"/>
<circle cx="762.0" cy="195.7" r=".9" fill="#8e9092"/>
<circle cx="760.0" cy="198.3" r=".9" fill="#8e9092"/>
<circle cx="769.5" cy="191.2" r=".9" fill="#8e9092"/>
<circle cx="767.5" cy="193.8" r=".9" fill="#8e9092"/>
<circle cx="765.6" cy="196.4" r=".9" fill="#8e9092"/>
<circle cx="763.6" cy="199.0" r=".9" fill="#8e9092"/>
<circle cx="773.0" cy="191.8" r=".9" fill="#8e9092"/>
<circle cx="771.1" cy="194.4" r=".9" fill="#8e9092"/>
<circle cx="769.1" cy="197.0" r=".9" fill="#8e9092"/>
<circle cx="767.2" cy="199.6" r=".9" fill="#8e9092"/>
<circle cx="776.6" cy="192.5" r=".9" fill="#8e9092"/>
<circle cx="774.7" cy="195.1" r=".9" fill="#8e9092"/>
<circle cx="772.7" cy="197.7" r=".9" fill="#8e9092"/>
<circle cx="770.8" cy="200.3" r=".9" fill="#8e9092"/>
<circle cx="780.2" cy="193.1" r=".9" fill="#8e9092"/>
<circle cx="778.3" cy="195.7" r=".9" fill="#8e9092"/>
<circle cx="776.3" cy="198.3" r=".9" fill="#8e9092"/>
<circle cx="774.3" cy="200.9" r=".9" fill="#8e9092"/>
<polygon points="722.9,187.9 738.7,181.4 751.7,184.6 740.3,194.7" fill="#f2f2f2"/><polygon points="722.9,187.9 740.3,194.7 740.3,199.6 722.9,194.1" fill="#d0d0d0"/>
<rect x="747.3" y="192.0" width="8.1" height="14.7" rx="2" fill="#76b4ea"/>
<rect x="749.3" y="190.7" width="4.2" height="2" fill="#3a7ad0"/>
<rect x="748.6" y="195.2" width="5.5" height="9.8" fill="#a6d2f4" opacity=".7"/>
<rect x="757.1" y="193.1" width="9.0" height="15.3" rx="2" fill="#76b4ea"/>
<rect x="759.0" y="191.8" width="5.0" height="2" fill="#3a7ad0"/>
<rect x="758.4" y="196.4" width="6.3" height="10.4" fill="#a6d2f4" opacity=".7"/>
</g>
<path d="M621.80 221.30H628.50V249.60H632.20L625.15 256.59L618.10 249.60H621.80Z" fill="#4472c4" stroke="#13265c" stroke-width="1.4" stroke-linejoin="miter"/>
<g>
<rect x="466" y="255" width="155" height="84" fill="#fff"/>
<path d="M474 257.6V334.9H594.5" fill="none" stroke="#999" stroke-width=".5"/>
<path d="M472.4 258.5h1.6" stroke="#999" stroke-width=".4"/>
<path d="M472.4 262.5h1.6" stroke="#999" stroke-width=".4"/>
<path d="M472.4 266.5h1.6" stroke="#999" stroke-width=".4"/>
<path d="M472.4 270.5h1.6" stroke="#999" stroke-width=".4"/>
<path d="M472.4 274.5h1.6" stroke="#999" stroke-width=".4"/>
<path d="M472.4 278.5h1.6" stroke="#999" stroke-width=".4"/>
<path d="M472.4 282.5h1.6" stroke="#999" stroke-width=".4"/>
<path d="M472.4 286.5h1.6" stroke="#999" stroke-width=".4"/>
<path d="M472.4 290.5h1.6" stroke="#999" stroke-width=".4"/>
<path d="M472.4 294.5h1.6" stroke="#999" stroke-width=".4"/>
<path d="M472.4 298.5h1.6" stroke="#999" stroke-width=".4"/>
<path d="M472.4 302.5h1.6" stroke="#999" stroke-width=".4"/>
<path d="M472.4 306.5h1.6" stroke="#999" stroke-width=".4"/>
<path d="M472.4 310.5h1.6" stroke="#999" stroke-width=".4"/>
<path d="M472.4 314.5h1.6" stroke="#999" stroke-width=".4"/>
<path d="M472.4 318.5h1.6" stroke="#999" stroke-width=".4"/>
<path d="M472.4 322.5h1.6" stroke="#999" stroke-width=".4"/>
<path d="M472.4 326.5h1.6" stroke="#999" stroke-width=".4"/>
<path d="M472.4 330.5h1.6" stroke="#999" stroke-width=".4"/>
<path d="M472.4 334.5h1.6" stroke="#999" stroke-width=".4"/>
<path d="M474.0 334.9v1.4" stroke="#999" stroke-width=".4"/>
<path d="M487.4 334.9v1.4" stroke="#999" stroke-width=".4"/>
<path d="M500.8 334.9v1.4" stroke="#999" stroke-width=".4"/>
<path d="M514.2 334.9v1.4" stroke="#999" stroke-width=".4"/>
<path d="M527.6 334.9v1.4" stroke="#999" stroke-width=".4"/>
<path d="M541.0 334.9v1.4" stroke="#999" stroke-width=".4"/>
<path d="M554.4 334.9v1.4" stroke="#999" stroke-width=".4"/>
<path d="M567.8 334.9v1.4" stroke="#999" stroke-width=".4"/>
<path d="M581.2 334.9v1.4" stroke="#999" stroke-width=".4"/>
<polyline points="474.5,334.3 478.4,333.8 479.0,298.0 480.1,328.7 481.5,295.2 482.1,260.4 483.2,281.3 484.3,272.9 486.3,265.9 487.9,262.3 489.0,272.9 490.7,289.7 492.7,309.2 494.6,314.2 496.9,312.0 499.1,310.6 501.1,298.0 502.4,295.2 503.8,300.8 505.2,310.6 506.9,318.1 508.6,312.0 510.0,271.5 511.1,300.8 511.9,320.4 514.2,326.5 517.0,320.4 519.8,318.1 522.0,306.4 523.4,319.0 525.3,325.4 527.0,314.8 528.4,312.0 529.8,286.9 530.9,267.9 532.0,292.4 533.4,314.8 535.1,324.5 537.1,319.8 538.7,320.9 541.0,324.5 543.8,325.9 546.0,323.1 548.5,317.6 549.9,324.5 552.1,310.6 553.2,309.2 554.4,313.4 556.3,302.2 557.7,317.6 559.4,326.5 562.5,328.2 565.2,326.8 568.0,325.9 570.0,327.6 572.2,328.7 575.0,331.0 577.8,332.9 582.0,333.5 586.2,333.8 590.4,332.6 593.7,330.1" fill="none" stroke="#9c9c9c" stroke-width=".7"/>
<text x="552.7" y="265" font-size="5" fill="#333" class="sans" text-anchor="middle" font-weight="bold" textLength="23" lengthAdjust="spacingAndGlyphs" >NEGTIVE</text>
<text x="594.5" y="258.6" font-size="1.9" fill="#444" class="sans" textLength="14" lengthAdjust="spacingAndGlyphs" >RT: 0.00 - 20.01</text>
<text x="594.5" y="260.70000000000005" font-size="1.9" fill="#444" class="sans" textLength="22" lengthAdjust="spacingAndGlyphs" >NL: 2.41E9 TIC F: FTMS</text>
<text x="594.5" y="262.8" font-size="1.9" fill="#444" class="sans" textLength="22" lengthAdjust="spacingAndGlyphs" >- p ESI Full ms [100.00-</text>
<text x="594.5" y="264.90000000000003" font-size="1.9" fill="#444" class="sans" textLength="11" lengthAdjust="spacingAndGlyphs" >1500.00] MS</text>
<text x="466.5" y="257" font-size="1.8" fill="#3050c0" class="sans" >E9  2.41  TIC MS</text>
<text x="0" y="0" font-size="2.2" fill="#555" class="sans" transform="translate(469.2 306) rotate(-90)">Relative Abundance</text>
<rect x="633.6" y="255.6" width="163.3" height="87.9" fill="#fff" stroke="#ddd" stroke-width=".5"/>
<path d="M642.6 258V336.5H769" fill="none" stroke="#999" stroke-width=".5"/>
<path d="M641 259.0h1.6" stroke="#999" stroke-width=".4"/>
<path d="M641 263.1h1.6" stroke="#999" stroke-width=".4"/>
<path d="M641 267.1h1.6" stroke="#999" stroke-width=".4"/>
<path d="M641 271.1h1.6" stroke="#999" stroke-width=".4"/>
<path d="M641 275.2h1.6" stroke="#999" stroke-width=".4"/>
<path d="M641 279.2h1.6" stroke="#999" stroke-width=".4"/>
<path d="M641 283.3h1.6" stroke="#999" stroke-width=".4"/>
<path d="M641 287.4h1.6" stroke="#999" stroke-width=".4"/>
<path d="M641 291.4h1.6" stroke="#999" stroke-width=".4"/>
<path d="M641 295.4h1.6" stroke="#999" stroke-width=".4"/>
<path d="M641 299.5h1.6" stroke="#999" stroke-width=".4"/>
<path d="M641 303.6h1.6" stroke="#999" stroke-width=".4"/>
<path d="M641 307.6h1.6" stroke="#999" stroke-width=".4"/>
<path d="M641 311.6h1.6" stroke="#999" stroke-width=".4"/>
<path d="M641 315.7h1.6" stroke="#999" stroke-width=".4"/>
<path d="M641 319.8h1.6" stroke="#999" stroke-width=".4"/>
<path d="M641 323.8h1.6" stroke="#999" stroke-width=".4"/>
<path d="M641 327.9h1.6" stroke="#999" stroke-width=".4"/>
<path d="M641 331.9h1.6" stroke="#999" stroke-width=".4"/>
<path d="M641 335.9h1.6" stroke="#999" stroke-width=".4"/>
<path d="M642.6 336.5v1.4" stroke="#999" stroke-width=".4"/>
<path d="M656.6 336.5v1.4" stroke="#999" stroke-width=".4"/>
<path d="M670.6 336.5v1.4" stroke="#999" stroke-width=".4"/>
<path d="M684.6 336.5v1.4" stroke="#999" stroke-width=".4"/>
<path d="M698.6 336.5v1.4" stroke="#999" stroke-width=".4"/>
<path d="M712.6 336.5v1.4" stroke="#999" stroke-width=".4"/>
<path d="M726.6 336.5v1.4" stroke="#999" stroke-width=".4"/>
<path d="M740.6 336.5v1.4" stroke="#999" stroke-width=".4"/>
<path d="M754.6 336.5v1.4" stroke="#999" stroke-width=".4"/>
<path d="M768.6 336.5v1.4" stroke="#999" stroke-width=".4"/>
<polyline points="642.6,336.5 649.8,336.5 650.9,317.6 652.6,295.2 653.7,314.8 654.6,325.9 655.4,305.0 656.5,314.8 657.3,320.4 658.5,314.8 659.6,310.6 661.3,318.1 662.9,325.9 664.6,318.1 666.3,309.2 667.4,312.0 668.5,312.0 669.9,305.8 671.3,314.8 672.7,323.1 674.1,326.5 675.5,325.9 676.6,309.2 677.7,277.9 678.8,300.8 679.7,320.4 680.5,289.7 681.1,265.9 681.9,281.3 683.3,259.0 684.1,295.2 684.7,315.3 685.5,300.8 686.6,278.5 687.8,303.6 689.4,323.1 691.1,326.5 692.8,325.9 693.9,300.8 695.6,272.9 696.7,300.8 697.8,325.9 698.9,312.0 699.8,295.2 700.9,314.8 702.0,328.7 703.4,323.1 704.8,319.0 706.2,327.3 707.6,331.5 708.7,327.3 709.5,325.9 710.9,331.0 713.2,332.9 716.0,331.5 717.6,325.9 718.7,319.8 719.9,328.7 720.7,332.9 722.9,330.1 724.3,327.3 725.7,323.1 727.1,314.2 728.2,325.9 729.9,332.9 731.9,334.3 734.1,334.3 738.3,334.3 741.9,332.1 743.6,334.3 745.3,334.9 748.6,333.8 750.3,331.5 751.4,334.9 752.2,335.7 759.2,336.0 769.0,336.0" fill="none" stroke="#a2a2a2" stroke-width=".7"/>
<text x="725.2" y="265" font-size="5" fill="#333" class="sans" text-anchor="middle" font-weight="bold" textLength="23" lengthAdjust="spacingAndGlyphs" >POSTIVE</text>
<text x="768.5" y="258.6" font-size="1.9" fill="#444" class="sans" textLength="14" lengthAdjust="spacingAndGlyphs" >RT: 0.00 - 20.01</text>
<text x="768.5" y="260.70000000000005" font-size="1.9" fill="#444" class="sans" textLength="22" lengthAdjust="spacingAndGlyphs" >NL: 6.13E9 TIC F: FTMS</text>
<text x="768.5" y="262.8" font-size="1.9" fill="#444" class="sans" textLength="22" lengthAdjust="spacingAndGlyphs" >+ p ESI Full ms [100.00-</text>
<text x="768.5" y="264.90000000000003" font-size="1.9" fill="#444" class="sans" textLength="11" lengthAdjust="spacingAndGlyphs" >1500.00] MS</text>
<text x="634.5" y="257.6" font-size="1.8" fill="#3050c0" class="sans" >E9  6.13  TIC MS</text>
<text x="0" y="0" font-size="2.2" fill="#555" class="sans" transform="translate(638 306) rotate(-90)">Relative Abundance</text>
<text x="706" y="341.5" font-size="2.2" fill="#555" class="sans" text-anchor="middle" >Time (min)</text>
<circle cx="633.6" cy="296.5" r="1.1" fill="#fff" stroke="#aaa" stroke-width=".4"/>
<circle cx="796.9" cy="296.5" r="1.1" fill="#fff" stroke="#aaa" stroke-width=".4"/>
<circle cx="714.8" cy="343.5" r="1.1" fill="#fff" stroke="#aaa" stroke-width=".4"/>
<circle cx="633.6" cy="343.5" r="1.1" fill="#fff" stroke="#aaa" stroke-width=".4"/>
<circle cx="796.9" cy="343.5" r="1.1" fill="#fff" stroke="#aaa" stroke-width=".4"/>
</g>
<text x="507.7" y="361.2" font-size="15.6" fill="#111" class="sans" textLength="210.3" lengthAdjust="spacingAndGlyphs" >Identification of 19 prototype</text>
<text x="507.7" y="382.3" font-size="15.6" fill="#111" class="sans" textLength="285.7" lengthAdjust="spacingAndGlyphs" >compounds of BRKL in the bloodstream.</text>
<path d="M621.65 393.00H629.15V420.90H633.05L625.40 428.09L617.75 420.90H621.65Z" fill="#4472c4" stroke="#13265c" stroke-width="1.4" stroke-linejoin="miter"/>
<g>
<defs><radialGradient id="gppi"><stop offset="0" stop-color="#8a8a8a"/><stop offset=".3" stop-color="#a4a4a4"/><stop offset=".65" stop-color="#c2c2c2"/><stop offset="1" stop-color="#e2e2e2"/></radialGradient></defs>
<ellipse cx="548.8" cy="466.9" rx="69.5" ry="38.3" fill="url(#gppi)" opacity=".85"/>
<path d="M548.8 466.9L619.3 466.9M548.8 466.9L619.3 468.3M548.8 466.9L619.1 469.8M548.8 466.9L618.9 471.2M548.8 466.9L618.5 472.6M548.8 466.9L618.1 474.0M548.8 466.9L617.6 475.5M548.8 466.9L617.0 476.9M548.8 466.9L616.2 478.2M548.8 466.9L615.4 479.6M548.8 466.9L614.5 481.0M548.8 466.9L613.6 482.3M548.8 466.9L612.5 483.6M548.8 466.9L611.3 484.9M548.8 466.9L610.1 486.1M548.8 466.9L608.7 487.4M548.8 466.9L607.3 488.6M548.8 466.9L605.8 489.8M548.8 466.9L604.3 490.9M548.8 466.9L602.6 492.0M548.8 466.9L600.9 493.1M548.8 466.9L599.1 494.2M548.8 466.9L597.3 495.2M548.8 466.9L595.3 496.1M548.8 466.9L593.3 497.1M548.8 466.9L591.3 497.9M548.8 466.9L589.2 498.8M548.8 466.9L587.0 499.6M548.8 466.9L584.8 500.3M548.8 466.9L582.5 501.1M548.8 466.9L580.2 501.7M548.8 466.9L577.9 502.3M548.8 466.9L575.5 502.9M548.8 466.9L573.0 503.4M548.8 466.9L570.6 503.9M548.8 466.9L568.1 504.3M548.8 466.9L565.6 504.7M548.8 466.9L563.0 505.0M548.8 466.9L560.5 505.3M548.8 466.9L557.9 505.5M548.8 466.9L555.3 505.6M548.8 466.9L552.7 505.7M548.8 466.9L550.1 505.8M548.8 466.9L547.5 505.8M548.8 466.9L544.9 505.7M548.8 466.9L542.3 505.6M548.8 466.9L539.7 505.5M548.8 466.9L537.1 505.3M548.8 466.9L534.6 505.0M548.8 466.9L532.0 504.7M548.8 466.9L529.5 504.3M548.8 466.9L527.0 503.9M548.8 466.9L524.6 503.4M548.8 466.9L522.1 502.9M548.8 466.9L519.7 502.3M548.8 466.9L517.4 501.7M548.8 466.9L515.1 501.1M548.8 466.9L512.8 500.3M548.8 466.9L510.6 499.6M548.8 466.9L508.4 498.8M548.8 466.9L506.3 497.9M548.8 466.9L504.3 497.1M548.8 466.9L502.3 496.1M548.8 466.9L500.3 495.2M548.8 466.9L498.5 494.2M548.8 466.9L496.7 493.1M548.8 466.9L495.0 492.0M548.8 466.9L493.3 490.9M548.8 466.9L491.8 489.8M548.8 466.9L490.3 488.6M548.8 466.9L488.9 487.4M548.8 466.9L487.5 486.1M548.8 466.9L486.3 484.9M548.8 466.9L485.1 483.6M548.8 466.9L484.0 482.3M548.8 466.9L483.1 481.0M548.8 466.9L482.2 479.6M548.8 466.9L481.4 478.2M548.8 466.9L480.6 476.9M548.8 466.9L480.0 475.5M548.8 466.9L479.5 474.0M548.8 466.9L479.1 472.6M548.8 466.9L478.7 471.2M548.8 466.9L478.5 469.8M548.8 466.9L478.3 468.3M548.8 466.9L478.3 466.9M548.8 466.9L478.3 465.5M548.8 466.9L478.5 464.0M548.8 466.9L478.7 462.6M548.8 466.9L479.1 461.2M548.8 466.9L479.5 459.8M548.8 466.9L480.0 458.3M548.8 466.9L480.6 456.9M548.8 466.9L481.4 455.6M548.8 466.9L482.2 454.2M548.8 466.9L483.1 452.8M548.8 466.9L484.0 451.5M548.8 466.9L485.1 450.2M548.8 466.9L486.3 448.9M548.8 466.9L487.5 447.7M548.8 466.9L488.9 446.4M548.8 466.9L490.3 445.2M548.8 466.9L491.8 444.0M548.8 466.9L493.3 442.9M548.8 466.9L495.0 441.8M548.8 466.9L496.7 440.7M548.8 466.9L498.5 439.6M548.8 466.9L500.3 438.6M548.8 466.9L502.3 437.7M548.8 466.9L504.3 436.7M548.8 466.9L506.3 435.9M548.8 466.9L508.4 435.0M548.8 466.9L510.6 434.2M548.8 466.9L512.8 433.5M548.8 466.9L515.1 432.7M548.8 466.9L517.4 432.1M548.8 466.9L519.7 431.5M548.8 466.9L522.1 430.9M548.8 466.9L524.6 430.4M548.8 466.9L527.0 429.9M548.8 466.9L529.5 429.5M548.8 466.9L532.0 429.1M548.8 466.9L534.6 428.8M548.8 466.9L537.1 428.5M548.8 466.9L539.7 428.3M548.8 466.9L542.3 428.2M548.8 466.9L544.9 428.1M548.8 466.9L547.5 428.0M548.8 466.9L550.1 428.0M548.8 466.9L552.7 428.1M548.8 466.9L555.3 428.2M548.8 466.9L557.9 428.3M548.8 466.9L560.5 428.5M548.8 466.9L563.0 428.8M548.8 466.9L565.6 429.1M548.8 466.9L568.1 429.5M548.8 466.9L570.6 429.9M548.8 466.9L573.0 430.4M548.8 466.9L575.5 430.9M548.8 466.9L577.9 431.5M548.8 466.9L580.2 432.1M548.8 466.9L582.5 432.7M548.8 466.9L584.8 433.5M548.8 466.9L587.0 434.2M548.8 466.9L589.2 435.0M548.8 466.9L591.3 435.9M548.8 466.9L593.3 436.7M548.8 466.9L595.3 437.7M548.8 466.9L597.3 438.6M548.8 466.9L599.1 439.6M548.8 466.9L600.9 440.7M548.8 466.9L602.6 441.8M548.8 466.9L604.3 442.9M548.8 466.9L605.8 444.0M548.8 466.9L607.3 445.2M548.8 466.9L608.7 446.4M548.8 466.9L610.1 447.7M548.8 466.9L611.3 448.9M548.8 466.9L612.5 450.2M548.8 466.9L613.6 451.5M548.8 466.9L614.5 452.8M548.8 466.9L615.4 454.2M548.8 466.9L616.2 455.6M548.8 466.9L617.0 456.9M548.8 466.9L617.6 458.3M548.8 466.9L618.1 459.8M548.8 466.9L618.5 461.2M548.8 466.9L618.9 462.6M548.8 466.9L619.1 464.0M548.8 466.9L619.3 465.5" stroke="#8e8e8e" stroke-width=".36" fill="none" opacity=".85"/>
<ellipse cx="548.8" cy="466.9" rx="70.5" ry="38.9" fill="none" stroke="#2b8a9c" stroke-width="1.15" stroke-dasharray="1.15 1.23"/>
<ellipse cx="548.8" cy="466.9" rx="55.7" ry="30.7" fill="none" stroke="#2b8a9c" stroke-width="1.15" stroke-dasharray="1.15 1.37"/>
<ellipse cx="548.8" cy="466.9" rx="41.2" ry="22.8" fill="none" stroke="#2b8a9c" stroke-width="1.15" stroke-dasharray="1.15 1.28"/>
<ellipse cx="548.8" cy="466.9" rx="29.6" ry="16.3" fill="none" stroke="#2b8a9c" stroke-width="1.15" stroke-dasharray="1.15 1.27"/>
<ellipse cx="548.8" cy="466.9" rx="19.0" ry="10.5" fill="none" stroke="#2b8a9c" stroke-width="1.15" stroke-dasharray="1.15 1.15"/>
<circle cx="545.4" cy="463.7" r=".75" fill="#f0b030"/>
<circle cx="545.4" cy="465.6" r=".75" fill="#f0b030"/>
<circle cx="545.4" cy="467.5" r=".75" fill="#f0b030"/>
<circle cx="545.4" cy="469.4" r=".75" fill="#f0b030"/>
<circle cx="548.6" cy="463.7" r=".75" fill="#f0b030"/>
<circle cx="548.6" cy="465.6" r=".75" fill="#f0b030"/>
<circle cx="548.6" cy="467.5" r=".75" fill="#f0b030"/>
<circle cx="548.6" cy="469.4" r=".75" fill="#f0b030"/>
<circle cx="551.8" cy="463.7" r=".75" fill="#f0b030"/>
<circle cx="551.8" cy="465.6" r=".75" fill="#f0b030"/>
<circle cx="551.8" cy="467.5" r=".75" fill="#f0b030"/>
<circle cx="551.8" cy="469.4" r=".75" fill="#f0b030"/>
<circle cx="548.8" cy="461.29999999999995" r=".8" fill="#3060d0"/><circle cx="548.8" cy="472.5" r=".8" fill="#e04030"/>
</g>
<defs><g id="tnet">
<path d="M712.8 442.9L736.5 448.5M712.8 442.9L745.7 462.7M712.8 442.9L736.5 476.7M712.8 442.9L712.8 482.7M712.8 442.9L689.0 476.7M712.8 442.9L679.8 462.7M712.8 442.9L689.0 448.5M712.8 442.9L695.6 429.2M712.8 442.9L729.4 429.2M712.8 442.9L757.6 439.2M712.8 442.9L774.7 456.9M712.8 442.9L774.7 476.7M712.8 442.9L757.6 493.8M712.8 442.9L725.9 503.8M712.8 442.9L693.0 503.8M712.8 442.9L665.3 493.3M712.8 442.9L648.2 475.9M712.8 442.9L649.5 455.6M712.8 442.9L666.6 438.5M736.5 448.5L745.7 462.7M736.5 448.5L736.5 476.7M736.5 448.5L712.8 482.7M736.5 448.5L689.0 476.7M736.5 448.5L679.8 462.7M736.5 448.5L689.0 448.5M736.5 448.5L695.6 429.2M736.5 448.5L729.4 429.2M736.5 448.5L757.6 439.2M736.5 448.5L774.7 456.9M736.5 448.5L774.7 476.7M736.5 448.5L757.6 493.8M736.5 448.5L725.9 503.8M736.5 448.5L693.0 503.8M736.5 448.5L665.3 493.3M736.5 448.5L648.2 475.9M736.5 448.5L649.5 455.6M736.5 448.5L666.6 438.5M745.7 462.7L736.5 476.7M745.7 462.7L712.8 482.7M745.7 462.7L689.0 476.7M745.7 462.7L679.8 462.7M745.7 462.7L689.0 448.5M745.7 462.7L695.6 429.2M745.7 462.7L729.4 429.2M745.7 462.7L757.6 439.2M745.7 462.7L774.7 456.9M745.7 462.7L774.7 476.7M745.7 462.7L757.6 493.8M745.7 462.7L725.9 503.8M745.7 462.7L693.0 503.8M745.7 462.7L665.3 493.3M745.7 462.7L648.2 475.9M745.7 462.7L649.5 455.6M745.7 462.7L666.6 438.5M736.5 476.7L712.8 482.7M736.5 476.7L689.0 476.7M736.5 476.7L679.8 462.7M736.5 476.7L689.0 448.5M736.5 476.7L695.6 429.2M736.5 476.7L729.4 429.2M736.5 476.7L757.6 439.2M736.5 476.7L774.7 456.9M736.5 476.7L774.7 476.7M736.5 476.7L757.6 493.8M736.5 476.7L725.9 503.8M736.5 476.7L693.0 503.8M736.5 476.7L665.3 493.3M736.5 476.7L648.2 475.9M736.5 476.7L649.5 455.6M736.5 476.7L666.6 438.5M712.8 482.7L689.0 476.7M712.8 482.7L679.8 462.7M712.8 482.7L689.0 448.5M712.8 482.7L695.6 429.2M712.8 482.7L729.4 429.2M712.8 482.7L757.6 439.2M712.8 482.7L774.7 456.9M712.8 482.7L774.7 476.7M712.8 482.7L757.6 493.8M712.8 482.7L725.9 503.8M712.8 482.7L693.0 503.8M712.8 482.7L665.3 493.3M712.8 482.7L648.2 475.9M712.8 482.7L649.5 455.6M712.8 482.7L666.6 438.5M689.0 476.7L679.8 462.7M689.0 476.7L689.0 448.5M689.0 476.7L695.6 429.2M689.0 476.7L729.4 429.2M689.0 476.7L757.6 439.2M689.0 476.7L774.7 456.9M689.0 476.7L774.7 476.7M689.0 476.7L757.6 493.8M689.0 476.7L725.9 503.8M689.0 476.7L693.0 503.8M689.0 476.7L665.3 493.3M689.0 476.7L648.2 475.9M689.0 476.7L649.5 455.6M689.0 476.7L666.6 438.5M679.8 462.7L689.0 448.5M679.8 462.7L695.6 429.2M679.8 462.7L729.4 429.2M679.8 462.7L757.6 439.2M679.8 462.7L774.7 456.9M679.8 462.7L774.7 476.7M679.8 462.7L757.6 493.8M679.8 462.7L725.9 503.8M679.8 462.7L693.0 503.8M679.8 462.7L665.3 493.3M679.8 462.7L648.2 475.9M679.8 462.7L649.5 455.6M679.8 462.7L666.6 438.5M689.0 448.5L695.6 429.2M689.0 448.5L729.4 429.2M689.0 448.5L757.6 439.2M689.0 448.5L774.7 456.9M689.0 448.5L774.7 476.7M689.0 448.5L757.6 493.8M689.0 448.5L725.9 503.8M689.0 448.5L693.0 503.8M689.0 448.5L665.3 493.3M689.0 448.5L648.2 475.9M689.0 448.5L649.5 455.6M689.0 448.5L666.6 438.5M695.6 429.2L729.4 429.2M695.6 429.2L774.7 456.9M695.6 429.2L757.6 493.8M695.6 429.2L725.9 503.8M695.6 429.2L665.3 493.3M729.4 429.2L774.7 456.9M729.4 429.2L757.6 493.8M729.4 429.2L725.9 503.8M729.4 429.2L693.0 503.8M729.4 429.2L665.3 493.3M729.4 429.2L648.2 475.9M729.4 429.2L666.6 438.5M757.6 439.2L774.7 456.9M757.6 439.2L774.7 476.7M757.6 439.2L725.9 503.8M757.6 439.2L665.3 493.3M757.6 439.2L649.5 455.6M774.7 456.9L665.3 493.3M774.7 456.9L648.2 475.9M774.7 476.7L757.6 493.8M774.7 476.7L649.5 455.6M774.7 476.7L666.6 438.5M757.6 493.8L693.0 503.8M757.6 493.8L648.2 475.9M725.9 503.8L649.5 455.6M725.9 503.8L666.6 438.5M693.0 503.8L649.5 455.6M665.3 493.3L666.6 438.5M648.2 475.9L649.5 455.6M648.2 475.9L666.6 438.5M649.5 455.6L666.6 438.5" stroke="#8c8c8c" stroke-width=".3" fill="none" opacity=".7"/>
<ellipse cx="712.8" cy="442.9" rx="11.9" ry="7.4" fill="#f08242"/>
<text x="712.8" y="443.9" font-size="2.8" fill="#4a3a2a" class="sans" text-anchor="middle" >STAT3</text>
<ellipse cx="736.5" cy="448.5" rx="8" ry="5" fill="#f8c884"/>
<text x="736.5" y="449.5" font-size="2.8" fill="#4a3a2a" class="sans" text-anchor="middle" >EGFR</text>
<ellipse cx="745.7" cy="462.7" rx="8" ry="4.6" fill="#fbe2a4"/>
<text x="745.7" y="463.7" font-size="2.8" fill="#4a3a2a" class="sans" text-anchor="middle" >HSP90AA1</text>
<ellipse cx="736.5" cy="476.7" rx="7" ry="4.6" fill="#fbe2a4"/>
<text x="736.5" y="477.7" font-size="2.8" fill="#4a3a2a" class="sans" text-anchor="middle" >TNF</text>
<ellipse cx="712.8" cy="482.7" rx="8" ry="5" fill="#f8d294"/>
<text x="712.8" y="483.7" font-size="2.8" fill="#4a3a2a" class="sans" text-anchor="middle" >SRC</text>
<ellipse cx="689.0" cy="476.7" rx="8.6" ry="5.4" fill="#f8c884"/>
<text x="689.0" y="477.7" font-size="2.8" fill="#4a3a2a" class="sans" text-anchor="middle" >MAPK3</text>
<ellipse cx="679.8" cy="462.7" rx="8" ry="5" fill="#f8d294"/>
<text x="679.8" y="463.7" font-size="2.8" fill="#4a3a2a" class="sans" text-anchor="middle" >AKT1</text>
<ellipse cx="689.0" cy="448.5" rx="8.4" ry="5" fill="#fbe2a4"/>
<text x="689.0" y="449.5" font-size="2.8" fill="#4a3a2a" class="sans" text-anchor="middle" >CTNNB1</text>
<ellipse cx="695.6" cy="429.2" rx="2.6" ry="1.7" fill="#bfe0e8"/>
<text x="695.6" y="430.1" font-size="2.8" fill="#333" class="sans" text-anchor="middle" font-weight="bold" >ESR1</text>
<ellipse cx="729.4" cy="429.2" rx="2.6" ry="1.7" fill="#a8cce8"/>
<text x="729.4" y="430.1" font-size="2.8" fill="#333" class="sans" text-anchor="middle" font-weight="bold" >CCND1</text>
<ellipse cx="757.6" cy="439.2" rx="2.6" ry="1.7" fill="#a8cce8"/>
<text x="757.6" y="440.1" font-size="2.8" fill="#333" class="sans" text-anchor="middle" font-weight="bold" >JAK2</text>
<ellipse cx="774.7" cy="456.9" rx="2.6" ry="1.7" fill="#d8ecc4"/>
<text x="774.7" y="457.8" font-size="2.8" fill="#333" class="sans" text-anchor="middle" font-weight="bold" >CASP3</text>
<ellipse cx="774.7" cy="476.7" rx="2.6" ry="1.7" fill="#a8cce8"/>
<text x="774.7" y="477.6" font-size="2.8" fill="#333" class="sans" text-anchor="middle" font-weight="bold" >HIF1A</text>
<ellipse cx="757.6" cy="493.8" rx="2.6" ry="1.7" fill="#a8cce8"/>
<text x="757.6" y="494.7" font-size="2.8" fill="#333" class="sans" text-anchor="middle" font-weight="bold" >CDK2</text>
<ellipse cx="725.9" cy="503.8" rx="2.6" ry="1.7" fill="#d8ecc4"/>
<text x="725.9" y="504.7" font-size="2.8" fill="#333" class="sans" text-anchor="middle" font-weight="bold" >RELA</text>
<ellipse cx="693.0" cy="503.8" rx="2.6" ry="1.7" fill="#d8ecc4"/>
<text x="693.0" y="504.7" font-size="2.8" fill="#333" class="sans" text-anchor="middle" font-weight="bold" >PPARG</text>
<ellipse cx="665.3" cy="493.3" rx="2.6" ry="1.7" fill="#d8ecc4"/>
<text x="665.3" y="494.2" font-size="2.8" fill="#333" class="sans" text-anchor="middle" font-weight="bold" >CCNB1</text>
<ellipse cx="648.2" cy="475.9" rx="2.6" ry="1.7" fill="#d8ecc4"/>
<text x="648.2" y="476.8" font-size="2.8" fill="#333" class="sans" text-anchor="middle" font-weight="bold" >VEGFA</text>
<ellipse cx="649.5" cy="455.6" rx="2.6" ry="1.7" fill="#d8ecc4"/>
<text x="649.5" y="456.5" font-size="2.8" fill="#333" class="sans" text-anchor="middle" font-weight="bold" >JUN</text>
<ellipse cx="666.6" cy="438.5" rx="2.6" ry="1.7" fill="#bfe0e8"/>
<text x="666.6" y="439.4" font-size="2.8" fill="#333" class="sans" text-anchor="middle" font-weight="bold" >MAPK1</text>
</g></defs>
<use href="#tnet"/>
<text x="472.9" y="526.3" font-size="15.6" fill="#111" class="sans" textLength="360.6" lengthAdjust="spacingAndGlyphs" >BRKL's role in UC through PPI network and targets.</text>
<path d="M621.65 536.60H629.15V564.20H632.95L625.40 571.39L617.85 564.20H621.65Z" fill="#4472c4" stroke="#13265c" stroke-width="1.4" stroke-linejoin="miter"/>
<g>
<rect x="515.10" y="572.20" width="11.95" height="11.58" fill="#f8f8f8"/>
<rect x="527.00" y="572.20" width="11.95" height="11.58" fill="#8292f0"/>
<rect x="538.90" y="572.20" width="11.95" height="11.58" fill="#dfe3fb"/>
<rect x="550.80" y="572.20" width="11.95" height="11.58" fill="#f8c0c0"/>
<rect x="562.70" y="572.20" width="11.95" height="11.58" fill="#f8c2c2"/>
<rect x="574.60" y="572.20" width="11.95" height="11.58" fill="#fbe0e0"/>
<rect x="586.50" y="572.20" width="11.95" height="11.58" fill="#6a7af0"/>
<rect x="515.10" y="583.73" width="11.95" height="11.58" fill="#f03232"/>
<rect x="527.00" y="583.73" width="11.95" height="11.58" fill="#f8b2b2"/>
<rect x="538.90" y="583.73" width="11.95" height="11.58" fill="#f04242"/>
<rect x="550.80" y="583.73" width="11.95" height="11.58" fill="#f01414"/>
<rect x="562.70" y="583.73" width="11.95" height="11.58" fill="#f04a4a"/>
<rect x="574.60" y="583.73" width="11.95" height="11.58" fill="#f05a5a"/>
<rect x="586.50" y="583.73" width="11.95" height="11.58" fill="#f89292"/>
<rect x="515.10" y="595.26" width="11.95" height="11.58" fill="#f9f9f9"/>
<rect x="527.00" y="595.26" width="11.95" height="11.58" fill="#b8c0f8"/>
<rect x="538.90" y="595.26" width="11.95" height="11.58" fill="#f8f8f8"/>
<rect x="550.80" y="595.26" width="11.95" height="11.58" fill="#f8c0c0"/>
<rect x="562.70" y="595.26" width="11.95" height="11.58" fill="#dfe3fb"/>
<rect x="574.60" y="595.26" width="11.95" height="11.58" fill="#f8c8c8"/>
<rect x="586.50" y="595.26" width="11.95" height="11.58" fill="#e0e4fb"/>
<rect x="515.10" y="606.79" width="11.95" height="11.58" fill="#f8a2a2"/>
<rect x="527.00" y="606.79" width="11.95" height="11.58" fill="#c2caf8"/>
<rect x="538.90" y="606.79" width="11.95" height="11.58" fill="#f8a2a2"/>
<rect x="550.80" y="606.79" width="11.95" height="11.58" fill="#f87272"/>
<rect x="562.70" y="606.79" width="11.95" height="11.58" fill="#f8a2a2"/>
<rect x="574.60" y="606.79" width="11.95" height="11.58" fill="#f8aaaa"/>
<rect x="586.50" y="606.79" width="11.95" height="11.58" fill="#f8f8f8"/>
<rect x="515.10" y="618.32" width="11.95" height="11.58" fill="#e0e4fb"/>
<rect x="527.00" y="618.32" width="11.95" height="11.58" fill="#5262f0"/>
<rect x="538.90" y="618.32" width="11.95" height="11.58" fill="#c0c8f8"/>
<rect x="550.80" y="618.32" width="11.95" height="11.58" fill="#fbd8d8"/>
<rect x="562.70" y="618.32" width="11.95" height="11.58" fill="#c8d0f8"/>
<rect x="574.60" y="618.32" width="11.95" height="11.58" fill="#f8f8f8"/>
<rect x="586.50" y="618.32" width="11.95" height="11.58" fill="#5a6af0"/>
<rect x="515.10" y="629.85" width="11.95" height="11.58" fill="#e8ecfb"/>
<rect x="527.00" y="629.85" width="11.95" height="11.58" fill="#2232f0"/>
<rect x="538.90" y="629.85" width="11.95" height="11.58" fill="#b0b8f8"/>
<rect x="550.80" y="629.85" width="11.95" height="11.58" fill="#e8ecfb"/>
<rect x="562.70" y="629.85" width="11.95" height="11.58" fill="#f8f8f8"/>
<rect x="574.60" y="629.85" width="11.95" height="11.58" fill="#f9f9f9"/>
<rect x="586.50" y="629.85" width="11.95" height="11.58" fill="#1222f0"/>
<rect x="515.1" y="572.2" width="83.3" height="69.2" fill="none" stroke="#bbb" stroke-width=".4"/>
<defs><linearGradient id="gdk" x1="0" y1="0" x2="0" y2="1"><stop offset="0" stop-color="#f01010"/><stop offset=".5" stop-color="#fafafa"/><stop offset="1" stop-color="#1010f0"/></linearGradient></defs>
<rect x="601.6" y="572.2" width="4.1" height="69.2" fill="url(#gdk)"/>
<text x="600" y="570.6" font-size="2.6" fill="#333" class="sans" textLength="10" lengthAdjust="spacingAndGlyphs" >kcal/mol</text>
<text x="606.6" y="573.2" font-size="2" fill="#777" class="sans" >-5.0</text>
<text x="606.6" y="586.9000000000001" font-size="2" fill="#777" class="sans" >-6.0</text>
<text x="606.6" y="600.6" font-size="2" fill="#777" class="sans" >-7.0</text>
<text x="606.6" y="614.3000000000001" font-size="2" fill="#777" class="sans" >-8.0</text>
<text x="606.6" y="628.0" font-size="2" fill="#777" class="sans" >-9.0</text>
<text x="606.6" y="641.7" font-size="2" fill="#777" class="sans" >-10.0</text>
<text x="512.9" y="578.965" font-size="2.8" fill="#555" class="sans" text-anchor="end" textLength="44" lengthAdjust="spacingAndGlyphs" >Isorhamnetin-3-O-glucoside</text>
<text x="512.9" y="590.495" font-size="2.8" fill="#555" class="sans" text-anchor="end" textLength="18" lengthAdjust="spacingAndGlyphs" >Luteoloside</text>
<text x="512.9" y="602.025" font-size="2.8" fill="#555" class="sans" text-anchor="end" textLength="18" lengthAdjust="spacingAndGlyphs" >Kaempferol</text>
<text x="512.9" y="613.5550000000001" font-size="2.8" fill="#555" class="sans" text-anchor="end" textLength="38" lengthAdjust="spacingAndGlyphs" >3-O-Feruloylquinic acid</text>
<text x="512.9" y="625.085" font-size="2.8" fill="#555" class="sans" text-anchor="end" textLength="33" lengthAdjust="spacingAndGlyphs" >Isoviolanthin-8-C</text>
<text x="512.9" y="636.615" font-size="2.8" fill="#555" class="sans" text-anchor="end" textLength="29" lengthAdjust="spacingAndGlyphs" >Withalongolide L</text>
<text x="0" y="0" font-size="2.6" fill="#555" class="sans" text-anchor="end" transform="translate(522.1 643.2) rotate(-90)">TNF</text>
<text x="0" y="0" font-size="2.6" fill="#555" class="sans" text-anchor="end" transform="translate(534.0 643.2) rotate(-90)">AKT1</text>
<text x="0" y="0" font-size="2.6" fill="#555" class="sans" text-anchor="end" transform="translate(545.9 643.2) rotate(-90)">EGFR</text>
<text x="0" y="0" font-size="2.6" fill="#555" class="sans" text-anchor="end" transform="translate(557.8 643.2) rotate(-90)">SRC</text>
<text x="0" y="0" font-size="2.6" fill="#555" class="sans" text-anchor="end" transform="translate(569.7 643.2) rotate(-90)">MAPK3</text>
<text x="0" y="0" font-size="2.6" fill="#555" class="sans" text-anchor="end" transform="translate(581.6 643.2) rotate(-90)">IL6</text>
<text x="0" y="0" font-size="2.6" fill="#555" class="sans" text-anchor="end" transform="translate(593.5 643.2) rotate(-90)">JAK2</text>
</g>
<g>
<clipPath id="dockclip"><rect x="643.9" y="569.5" width="149.3" height="82.2"/></clipPath>
<g clip-path="url(#dockclip)">
<rect x="643.9" y="569.5" width="149.3" height="82.2" fill="#dcf7f9"/>
<path d="M644 585 C660 578 668 600 684 596 C700 592 705 575 722 580 M650 652 C655 630 672 622 690 628 C702 632 708 640 704 652 M644 612 C656 606 664 616 676 612 M700 596 C712 600 720 612 716 624 C712 636 724 642 736 640 M738 570 C742 582 736 590 728 594 M748 652 C752 636 764 632 776 636 C786 640 792 632 793 622 M782 590 C790 596 793 606 793 612" fill="none" stroke="#b4ecf0" stroke-width="6.5" stroke-linecap="round" opacity=".95"/>
<path d="M644 592 C658 588 664 604 680 602 M690 632 C700 636 702 644 700 652 M716 628 C716 636 724 640 732 639" fill="none" stroke="#c8f2f5" stroke-width="3" stroke-linecap="round"/>
<ellipse cx="757.0" cy="584.0" rx="7.5" ry="9.5" fill="none" stroke="#b4ecf0" stroke-width="3.2" opacity=".95"/>
<ellipse cx="765.5" cy="584.8" rx="7.5" ry="9.5" fill="none" stroke="#b4ecf0" stroke-width="3.2" opacity=".95"/>
<ellipse cx="774.0" cy="585.6" rx="7.5" ry="9.5" fill="none" stroke="#b4ecf0" stroke-width="3.2" opacity=".95"/>
<ellipse cx="782.5" cy="586.4" rx="7.5" ry="9.5" fill="none" stroke="#b4ecf0" stroke-width="3.2" opacity=".95"/>
<ellipse cx="791.0" cy="587.2" rx="7.5" ry="9.5" fill="none" stroke="#b4ecf0" stroke-width="3.2" opacity=".95"/>
<path d="M644 569 L668 569 L660 590 L644 600Z M765 600 C775 604 785 612 793 626 L793 652 L770 652 C778 636 774 616 765 600Z" fill="#c4f0f4" opacity=".8"/>
<path d="M730.7 612.8L726.0 617.0L719.7 615.2L718.3 609.2L723.1 605.0L729.3 606.8L730.7 612.8" fill="none" stroke="#2ec42e" stroke-width="2.1" stroke-linecap="round" stroke-linejoin="round"/>
<path d="M754.6 610.8L750.8 615.8L744.3 615.2L741.6 609.6L745.4 604.6L751.9 605.2L754.6 610.8" fill="none" stroke="#2ec42e" stroke-width="2.1" stroke-linecap="round" stroke-linejoin="round"/>
<path d="M765.0 608.9L760.2 612.3L754.8 610.1L754.0 604.5L758.8 601.0L764.3 603.2L765.0 608.9" fill="none" stroke="#2ec42e" stroke-width="2.1" stroke-linecap="round" stroke-linejoin="round"/>
<path d="M745.2 638.1L740.1 641.1L734.9 638.4L734.7 632.7L739.8 629.8L745.1 632.5L745.2 638.1" fill="none" stroke="#2ec42e" stroke-width="2.1" stroke-linecap="round" stroke-linejoin="round"/>
<path d="M730.8 611.0L742.1 610.5" fill="none" stroke="#2ec42e" stroke-width="2.1" stroke-linecap="round" stroke-linejoin="round"/>
<path d="M746.2 616.4L742.1 630.0" fill="none" stroke="#2ec42e" stroke-width="2.1" stroke-linecap="round" stroke-linejoin="round"/>
<path d="M743.5 640.3L750.3 639.2" fill="none" stroke="#2ec42e" stroke-width="2.1" stroke-linecap="round" stroke-linejoin="round"/>
<path d="M737.3 640.8L735.4 644.1" fill="none" stroke="#2ec42e" stroke-width="2.1" stroke-linecap="round" stroke-linejoin="round"/>
<path d="M751.6 604.0L751.6 595.8" fill="none" stroke="#2ec42e" stroke-width="1.5" stroke-linecap="round" stroke-linejoin="round"/>
<path d="M763.9 608.8L767.1 611.0" fill="none" stroke="#2ec42e" stroke-width="1.5" stroke-linecap="round" stroke-linejoin="round"/>
<path d="M719.1 606.1L715.0 600.7" fill="none" stroke="#2ec42e" stroke-width="1.5" stroke-linecap="round" stroke-linejoin="round"/>
<path d="M720.4 615.6L715.0 618.3" fill="none" stroke="#2ec42e" stroke-width="1.5" stroke-linecap="round" stroke-linejoin="round"/>
<circle cx="751.6" cy="595.3" r="1.1" fill="#e03020"/>
<circle cx="767.4" cy="611.3" r="1.1" fill="#e03020"/>
<circle cx="735.6" cy="644.6" r="1.1" fill="#e03020"/>
<circle cx="750.8" cy="639.2" r="1.1" fill="#e03020"/>
<circle cx="736.2" cy="610.5" r="1.1" fill="#e03020"/>
<circle cx="715.0" cy="600.7" r="1.1" fill="#e03020"/>
<circle cx="728.6" cy="603.4" r="1.1" fill="#e03020"/>
<circle cx="743.5" cy="600.7" r="1.1" fill="#e03020"/>
<path d="M705.5 587.1L710.9 589.3L716.4 587.1" fill="none" stroke="#1e3a9a" stroke-width="2" stroke-linecap="round" stroke-linejoin="round"/>
<path d="M710.9 583.1L710.9 593.9L708.2 598.0" fill="none" stroke="#1e3a9a" stroke-width="2" stroke-linecap="round" stroke-linejoin="round"/>
<path d="M710.9 589.3L714.5 593.1" fill="none" stroke="#1e3a9a" stroke-width="1.4" stroke-linecap="round" stroke-linejoin="round"/>
<path d="M715.0 608.8L719.1 612.9L716.4 618.3L710.9 622.4L708.2 625.1" fill="none" stroke="#1e3a9a" stroke-width="2" stroke-linecap="round" stroke-linejoin="round"/>
<path d="M716.4 604.8L717.7 611.5" fill="none" stroke="#1e3a9a" stroke-width="1.4" stroke-linecap="round" stroke-linejoin="round"/>
<path d="M712.3 615.6L717.7 617.5" fill="none" stroke="#1e3a9a" stroke-width="1.4" stroke-linecap="round" stroke-linejoin="round"/>
<path d="M769.3 615.6L776.1 617.0L782.8 615.1" fill="none" stroke="#1e3a9a" stroke-width="2" stroke-linecap="round" stroke-linejoin="round"/>
<path d="M776.1 612.9L775.5 622.9L772.0 629.2" fill="none" stroke="#1e3a9a" stroke-width="2" stroke-linecap="round" stroke-linejoin="round"/>
<path d="M775.5 622.9L769.3 625.1" fill="none" stroke="#1e3a9a" stroke-width="1.4" stroke-linecap="round" stroke-linejoin="round"/>
<path d="M708.2 595.3L710.9 599.3" fill="none" stroke="#f0c050" stroke-width="0.8" stroke-linecap="round" stroke-linejoin="round"/>
<path d="M766.6 612.9L767.9 618.3" fill="none" stroke="#f0c050" stroke-width="0.8" stroke-linecap="round" stroke-linejoin="round"/>
</g></g>
<text x="468.6" y="677.9" font-size="15.6" fill="#111" class="sans" textLength="362" lengthAdjust="spacingAndGlyphs" >Molecular docking of core compounds and targets.</text>
<path d="M621.65 685.70H629.15V712.90H632.95L625.40 720.09L617.85 712.90H621.65Z" fill="#4472c4" stroke="#13265c" stroke-width="1.4" stroke-linejoin="miter"/>
<g>
<path d="M477.3 731.7V803.2H595.4" fill="none" stroke="#888" stroke-width=".5"/>
<path d="M475.7 732.6h1.6" stroke="#888" stroke-width=".4"/>
<text x="474.9" y="733.4" font-size="2.3" fill="#666" class="sans" text-anchor="end" >0.7</text>
<path d="M475.7 741.8h1.6" stroke="#888" stroke-width=".4"/>
<text x="474.9" y="742.6" font-size="2.3" fill="#666" class="sans" text-anchor="end" >0.6</text>
<path d="M475.7 751.3h1.6" stroke="#888" stroke-width=".4"/>
<text x="474.9" y="752.1" font-size="2.3" fill="#666" class="sans" text-anchor="end" >0.5</text>
<path d="M475.7 761.0h1.6" stroke="#888" stroke-width=".4"/>
<text x="474.9" y="761.8" font-size="2.3" fill="#666" class="sans" text-anchor="end" >0.4</text>
<path d="M475.7 770.2h1.6" stroke="#888" stroke-width=".4"/>
<text x="474.9" y="771.0" font-size="2.3" fill="#666" class="sans" text-anchor="end" >0.3</text>
<path d="M475.7 779.7h1.6" stroke="#888" stroke-width=".4"/>
<text x="474.9" y="780.5" font-size="2.3" fill="#666" class="sans" text-anchor="end" >0.2</text>
<path d="M475.7 789.2h1.6" stroke="#888" stroke-width=".4"/>
<text x="474.9" y="790.0" font-size="2.3" fill="#666" class="sans" text-anchor="end" >0.1</text>
<path d="M475.7 798.7h1.6" stroke="#888" stroke-width=".4"/>
<text x="474.9" y="799.5" font-size="2.3" fill="#666" class="sans" text-anchor="end" >0.0</text>
<path d="M477.3 803.2v1.5" stroke="#888" stroke-width=".4"/>
<text x="477.3" y="807.4" font-size="2.4" fill="#666" class="sans" text-anchor="middle" >0</text>
<path d="M498.5 803.2v1.5" stroke="#888" stroke-width=".4"/>
<text x="498.5" y="807.4" font-size="2.4" fill="#666" class="sans" text-anchor="middle" >10</text>
<path d="M520.0 803.2v1.5" stroke="#888" stroke-width=".4"/>
<text x="520.0" y="807.4" font-size="2.4" fill="#666" class="sans" text-anchor="middle" >20</text>
<path d="M541.5 803.2v1.5" stroke="#888" stroke-width=".4"/>
<text x="541.5" y="807.4" font-size="2.4" fill="#666" class="sans" text-anchor="middle" >30</text>
<path d="M562.7 803.2v1.5" stroke="#888" stroke-width=".4"/>
<text x="562.7" y="807.4" font-size="2.4" fill="#666" class="sans" text-anchor="middle" >40</text>
<path d="M584.8 803.2v1.5" stroke="#888" stroke-width=".4"/>
<text x="584.8" y="807.4" font-size="2.4" fill="#666" class="sans" text-anchor="middle" >50</text>
<polyline points="477.3,783.7 477.7,782.6 478.0,783.2 478.4,781.7 478.8,780.8 479.2,781.6 479.5,783.0 480.0,782.3 480.5,782.0 480.9,779.6 481.4,780.6 481.9,779.4 482.3,778.7 482.8,778.8 483.3,779.5 483.7,782.7 484.2,782.6 484.7,782.8 485.1,783.1 485.6,780.6 486.0,780.8 486.5,781.9 487.0,782.1 487.4,782.4 487.9,782.3 488.4,779.6 488.8,781.9 489.3,782.5 489.8,782.2 490.2,781.2 490.7,782.7 491.2,781.1 491.6,784.2 492.1,783.8 492.6,782.4 493.0,781.3 493.5,783.6 494.0,781.8 494.4,782.5 494.9,781.9 495.4,780.1 495.8,779.3 496.3,779.6 496.7,778.6 497.2,777.2 497.7,777.4 498.1,779.1 498.6,775.8 499.1,775.4 499.5,777.9 500.0,776.8 500.5,778.0 500.9,778.0 501.4,777.8 501.9,780.6 502.3,776.7 502.8,776.9 503.3,775.4 503.7,776.3 504.2,774.2 504.7,773.9 505.1,775.2 505.6,773.3 506.1,774.0 506.5,775.1 507.0,771.7 507.4,771.3 507.9,772.4 508.4,775.0 508.8,774.9 509.3,773.9 509.8,774.7 510.2,774.6 510.7,775.0 511.2,772.6 511.6,774.5 512.1,774.6 512.6,774.1 513.0,772.6 513.5,773.2 514.0,769.3 514.4,770.1 514.9,772.5 515.4,771.5 515.8,769.9 516.3,771.3 516.7,769.3 517.2,769.4 517.7,766.6 518.1,765.5 518.6,765.8 518.8,764.4 519.1,765.1 519.3,767.2 519.5,764.5 519.8,763.0 520.0,762.9 520.5,765.0 520.9,769.0 521.4,769.0 521.9,770.3 522.3,771.2 522.8,776.3 523.3,773.7 523.7,772.4 524.2,771.3 524.7,770.8 525.1,770.8 525.6,772.3 526.1,770.6 526.5,770.5 527.0,772.6 527.4,772.0 527.9,775.2 528.4,772.1 528.8,773.1 529.3,773.5 529.8,771.6 530.2,773.3 530.7,770.7 531.2,769.2 531.6,770.1 532.1,768.9 532.6,770.6 533.0,770.2 533.5,772.9 534.0,772.9 534.4,770.9 534.9,768.4 535.4,768.6 535.8,767.8 536.3,767.0 536.8,766.4 537.2,768.0 537.7,764.2 538.1,762.9 538.6,765.4 539.1,763.1 539.5,763.8 540.0,760.9 540.5,762.3 540.9,760.8 541.4,760.8 541.9,760.0 542.3,758.5 542.8,757.1 543.3,757.8 543.7,760.5 544.2,760.8 544.7,761.1 545.1,759.0 545.6,759.9 546.1,760.2 546.5,759.2 547.0,759.6 547.4,758.1 547.9,758.3 548.4,759.1 548.8,758.2 549.3,761.4 549.8,762.3 550.2,759.5 550.7,763.7 551.2,763.9 551.6,763.0 552.1,760.8 552.6,764.4 553.0,761.6 553.5,765.1 554.0,764.4 554.4,762.5 554.9,763.4 555.4,765.6 555.8,765.9 556.3,767.0 556.8,768.3 557.2,766.2 557.7,765.9 558.1,770.1 558.6,767.2 559.1,771.1 559.5,767.3 560.0,769.2 560.5,768.3 560.9,767.8 561.4,765.7 561.9,766.1 562.3,763.7 562.8,765.8 563.3,764.7 563.7,767.1 564.2,766.9 564.7,765.9 565.1,766.0 565.6,763.9 566.1,763.8 566.5,765.9 567.0,765.3 567.5,766.6 567.9,766.0 568.4,764.5 568.8,765.8 569.3,767.7 569.8,767.2 570.2,765.5 570.7,768.7 571.2,768.5 571.6,765.5 572.1,767.2 572.6,766.5 573.0,768.0 573.5,766.3 574.0,766.2 574.4,767.4 574.9,769.5 575.4,766.2 575.8,766.5 576.3,768.4 576.8,769.3 577.2,767.8 577.7,767.4 578.2,768.9 578.6,768.5 579.1,765.9 579.5,769.2 580.0,766.7 580.5,767.2 580.9,769.5 581.4,768.0 582.0,769.3 582.5,766.7 583.1,769.3 583.6,766.5 584.2,766.2" fill="none" stroke="#8aa2f2" stroke-width=".55"/>
<text x="534" y="745.3" font-size="7.6" fill="#111" class="serif" text-anchor="middle" textLength="21" lengthAdjust="spacingAndGlyphs" >RMSD</text>
<path d="M571.6 733.1h5" stroke="#a8c8f4" stroke-width=".5"/>
<text x="578.2" y="734" font-size="2.8" fill="#555" class="serif" textLength="35" lengthAdjust="spacingAndGlyphs" >JAK2-Withalongolide L</text>
<text x="0" y="0" font-size="2.6" fill="#555" class="serif" transform="translate(466 775) rotate(-90)">RMSD (nm)</text>
</g>
<g>
<path d="M652.6 738.1V794.8L721.0 814.9L778.2 794.8V737.3L709.8 732.6Z M709.8 732.6V788.4L652.6 794.8M709.8 788.4L778.2 794.8" fill="none" stroke="#c4c4c4" stroke-width=".5"/>
<path d="M709.8 741.8L652.6 747.4M709.8 741.8L778.2 746.8" stroke="#e2e2e2" stroke-width=".4"/>
<path d="M709.8 751.0L652.6 756.6M709.8 751.0L778.2 756.0" stroke="#e2e2e2" stroke-width=".4"/>
<path d="M709.8 760.2L652.6 765.8M709.8 760.2L778.2 765.2" stroke="#e2e2e2" stroke-width=".4"/>
<path d="M709.8 769.4L652.6 775.0M709.8 769.4L778.2 774.4" stroke="#e2e2e2" stroke-width=".4"/>
<path d="M709.8 778.6L652.6 784.2M709.8 778.6L778.2 783.6" stroke="#e2e2e2" stroke-width=".4"/>
<polygon points="663.2,794.8 705.6,789.8 754.4,795.9 718.2,807.1" fill="#8e1212"/>
<ellipse cx="709.8" cy="799.3" rx="19" ry="5.6" fill="#d8e020" transform="rotate(6 709.8 799.3)"/>
<ellipse cx="709.2" cy="799.3" rx="16.5" ry="4.6" fill="#30d8c0" transform="rotate(6 709.2 799.3)"/>
<ellipse cx="697.2" cy="797.3" rx="5" ry="2" fill="#2040e0"/><ellipse cx="714.0" cy="800.9" rx="7" ry="2.4" fill="#2040e0"/><ellipse cx="723.7" cy="797.6" rx="4" ry="1.6" fill="#2848e0"/>
<defs><linearGradient id="gfel" x1="0" y1="0" x2="0" y2="1"><stop offset="0" stop-color="#a01010"/><stop offset=".25" stop-color="#e81c1c"/><stop offset=".44" stop-color="#f03818"/><stop offset=".55" stop-color="#f0d020"/><stop offset=".68" stop-color="#40d830"/><stop offset=".82" stop-color="#20c8e0"/><stop offset="1" stop-color="#2030e0"/></linearGradient></defs>
<polygon points="674.9,741.8 683.3,750.7 687.5,764.7 691.6,780.0 695.8,789.2 699.5,782.8 702.8,777.2 707.0,787.0 712.6,795.9 718.2,789.8 723.7,786.4 729.3,777.2 734.9,759.1 739.1,742.9 711.2,746.5" fill="url(#gfel)"/>
<polygon points="674.9,741.8 679.1,747.9 680.5,743.7 683.3,750.7 711.2,746.5 734.9,750.7 739.1,742.9 711.2,739.5" fill="#b01414"/>
<polygon points="662.3,738.4 705.6,734.0 755.8,739.0 711.2,744.0" fill="#8a1010"/>
<polygon points="683.3,739.5 705.6,736.7 739.1,740.1 711.2,743.4" fill="#9c1414"/>
<defs><linearGradient id="gcb" x1="0" y1="0" x2="0" y2="1"><stop offset="0" stop-color="#7a0c0c"/><stop offset=".18" stop-color="#e81818"/><stop offset=".36" stop-color="#f08018"/><stop offset=".48" stop-color="#f0e020"/><stop offset=".62" stop-color="#30d030"/><stop offset=".74" stop-color="#20d0e0"/><stop offset=".85" stop-color="#2040e0"/><stop offset=".94" stop-color="#8020c0"/><stop offset="1" stop-color="#303030"/></linearGradient></defs>
<rect x="785.1" y="735.3" width="7" height="54.5" fill="url(#gcb)"/>
<text x="781" y="733.6" font-size="2.6" fill="#555" class="serif" textLength="12" lengthAdjust="spacingAndGlyphs" >kJ/mol</text>
<text x="793.2" y="736.4" font-size="2" fill="#777" class="serif" >12.20</text>
<text x="793.2" y="741.8" font-size="2" fill="#777" class="serif" >10.98</text>
<text x="793.2" y="747.1999999999999" font-size="2" fill="#777" class="serif" >9.760</text>
<text x="793.2" y="752.6" font-size="2" fill="#777" class="serif" >8.540</text>
<text x="793.2" y="758.0" font-size="2" fill="#777" class="serif" >7.320</text>
<text x="793.2" y="763.4" font-size="2" fill="#777" class="serif" >6.100</text>
<text x="793.2" y="768.8" font-size="2" fill="#777" class="serif" >4.880</text>
<text x="793.2" y="774.1999999999999" font-size="2" fill="#777" class="serif" >3.660</text>
<text x="793.2" y="779.6" font-size="2" fill="#777" class="serif" >2.440</text>
<text x="793.2" y="785.0" font-size="2" fill="#777" class="serif" >1.220</text>
<text x="793.2" y="790.4" font-size="2" fill="#777" class="serif" >0.000</text>
<text x="0" y="0" font-size="2.6" fill="#777" class="serif" transform="translate(646.5 788) rotate(-90)">Gibbs Free Energy</text>
<text x="0" y="0" font-size="2.4" fill="#888" class="serif" transform="translate(672.1 807.1) rotate(17)">RMSD (nm)</text>
<text x="0" y="0" font-size="2.4" fill="#888" class="serif" transform="translate(750.3 809.9) rotate(-20)">Rg (nm)</text>
<path d="M727.9 813.2l1.6 1" stroke="#aaa" stroke-width=".4"/>
<path d="M735.2 810.7l1.6 1" stroke="#aaa" stroke-width=".4"/>
<path d="M742.4 808.2l1.6 1" stroke="#aaa" stroke-width=".4"/>
<path d="M749.7 805.7l1.6 1" stroke="#aaa" stroke-width=".4"/>
<path d="M757.0 803.2l1.6 1" stroke="#aaa" stroke-width=".4"/>
<path d="M764.2 800.7l1.6 1" stroke="#aaa" stroke-width=".4"/>
<path d="M771.5 798.1l1.6 1" stroke="#aaa" stroke-width=".4"/>
</g>
<text x="479.5" y="849.9" font-size="15.6" fill="#111" class="sans" textLength="296.5" lengthAdjust="spacingAndGlyphs" >Withalongolide L binds to JAK2, forming a</text>
<text x="479.5" y="871.7" font-size="15.6" fill="#111" class="sans" textLength="111.2" lengthAdjust="spacingAndGlyphs" >stable complex.</text>
<ellipse cx="1004" cy="183.4" rx="110.5" ry="82.9" fill="none" stroke="#16349a" stroke-width="1.4"/>
<ellipse cx="1148.3" cy="183.4" rx="106.8" ry="82.9" fill="none" stroke="#16349a" stroke-width="1.4"/>
<defs><linearGradient id="gsq" x1="0" y1="0" x2="1" y2="1"><stop offset="0" stop-color="#8aa8e2"/><stop offset="1" stop-color="#456ec0"/></linearGradient></defs>
<rect x="1049.2" y="148.4" width="58" height="71.6" fill="url(#gsq)"/>
<text x="1077.7" y="166.4" font-size="12.8" fill="#fff" class="sans" text-anchor="middle" >JAK2-</text>
<text x="1077.7" y="179.8" font-size="12.8" fill="#fff" class="sans" text-anchor="middle" >STAT3</text>
<text x="1077.7" y="193.20000000000002" font-size="12.8" fill="#fff" class="sans" text-anchor="middle" >path</text>
<text x="1077.7" y="206.60000000000002" font-size="12.8" fill="#fff" class="sans" text-anchor="middle" >way</text>
<g transform="translate(707.64 -523.96) scale(0.8777 0.9228)"><use href="#bubble"/></g>
<g transform="translate(580.36 -211.36) scale(0.8424 0.8446)"><use href="#tnet"/></g>
<path d="M1074.50 255.70H1081.50V283.00H1085.25L1078.00 290.19L1070.75 283.00H1074.50Z" fill="#4472c4" stroke="#13265c" stroke-width="1.4" stroke-linejoin="miter"/>
<g>
<text x="951.3" y="299.7" font-size="11" fill="#111" class="serif" text-anchor="middle" textLength="33" lengthAdjust="spacingAndGlyphs" >Control</text>
<text x="1005.8" y="299.7" font-size="11" fill="#111" class="serif" text-anchor="middle" textLength="28.5" lengthAdjust="spacingAndGlyphs" >Model</text>
<text x="1063.2" y="299.7" font-size="11" fill="#111" class="serif" text-anchor="middle" textLength="30" lengthAdjust="spacingAndGlyphs" >5-ASA</text>
<text x="1120.6" y="299.7" font-size="11" fill="#111" class="serif" text-anchor="middle" textLength="38.5" lengthAdjust="spacingAndGlyphs" >BRKL-L</text>
<text x="1174.2" y="299.7" font-size="11" fill="#111" class="serif" text-anchor="middle" textLength="42" lengthAdjust="spacingAndGlyphs" >BRKL-M</text>
<text x="1230.2" y="299.7" font-size="11" fill="#111" class="serif" text-anchor="middle" textLength="40" lengthAdjust="spacingAndGlyphs" >BRKL-H</text>
<clipPath id="ih00"><rect x="923.3" y="305" width="56.5" height="33.0"/></clipPath>
<g clip-path="url(#ih00)"><rect x="923.3" y="305" width="56.5" height="33.0" fill="#faf9f7"/>
<polygon points="923.3,339.9 930.4,331.6 937.4,323.4 944.5,317.7 951.5,315.8 958.6,318.4 965.7,325.0 972.7,332.3 979.8,339.9 979.8,344.9 972.7,337.3 965.7,330.0 958.6,323.4 951.5,320.8 944.5,322.7 937.4,328.4 930.4,336.6 923.3,344.9" fill="#efeeee" opacity="0.95"/>
<polygon points="923.3,332.9 930.4,324.6 937.4,316.4 944.5,310.7 951.5,308.8 958.6,311.4 965.7,318.0 972.7,325.3 979.8,332.9 979.8,339.9 972.7,332.3 965.7,325.0 958.6,318.4 951.5,315.8 944.5,317.7 937.4,323.4 930.4,331.6 923.3,339.9" fill="#c9c9de" opacity="0.62"/>
<polygon points="923.3,332.9 930.4,324.6 937.4,316.4 944.5,310.7 951.5,308.8 958.6,311.4 965.7,318.0 972.7,325.3 979.8,332.9 979.8,335.1 972.7,327.5 965.7,320.2 958.6,313.6 951.5,311.0 944.5,312.9 937.4,318.6 930.4,326.8 923.3,335.1" fill="#a9a6c4" opacity="0.3"/>
</g>
<clipPath id="ih01"><rect x="979.8" y="305" width="54.8" height="33.0"/></clipPath>
<g clip-path="url(#ih01)"><rect x="979.8" y="305" width="54.8" height="33.0" fill="#faf9f7"/>
<polygon points="979.8,322.4 986.6,321.7 993.5,323.4 1000.3,322.4 1007.2,321.7 1014.0,323.7 1020.9,322.4 1027.8,321.0 1034.6,320.4 1034.6,325.4 1027.8,326.0 1020.9,327.4 1014.0,328.7 1007.2,326.7 1000.3,327.4 993.5,328.4 986.6,326.7 979.8,327.4" fill="#efeeee" opacity="0.95"/>
<polygon points="979.8,315.4 986.6,314.7 993.5,316.4 1000.3,315.4 1007.2,314.7 1014.0,316.7 1020.9,315.4 1027.8,314.0 1034.6,313.4 1034.6,320.4 1027.8,321.0 1020.9,322.4 1014.0,323.7 1007.2,321.7 1000.3,322.4 993.5,323.4 986.6,321.7 979.8,322.4" fill="#cdb09c" opacity="0.62"/>
<polygon points="979.8,315.4 986.6,314.7 993.5,316.4 1000.3,315.4 1007.2,314.7 1014.0,316.7 1020.9,315.4 1027.8,314.0 1034.6,313.4 1034.6,315.6 1027.8,316.2 1020.9,317.6 1014.0,318.9 1007.2,316.9 1000.3,317.6 993.5,318.6 986.6,316.9 979.8,317.6" fill="#a9a6c4" opacity="0.3"/>
</g>
<clipPath id="ih02"><rect x="1034.6" y="305" width="56.0" height="33.0"/></clipPath>
<g clip-path="url(#ih02)"><rect x="1034.6" y="305" width="56.0" height="33.0" fill="#faf9f7"/>
<polygon points="1034.6,316.8 1041.6,321.7 1048.6,326.6 1055.6,329.0 1062.6,327.6 1069.6,325.0 1076.6,320.1 1083.6,316.8 1090.6,315.1 1090.6,320.1 1083.6,321.8 1076.6,325.1 1069.6,330.0 1062.6,332.6 1055.6,334.0 1048.6,331.6 1041.6,326.7 1034.6,321.8" fill="#efeeee" opacity="0.95"/>
<polygon points="1034.6,309.8 1041.6,314.7 1048.6,319.6 1055.6,322.0 1062.6,320.6 1069.6,318.0 1076.6,313.1 1083.6,309.8 1090.6,308.1 1090.6,315.1 1083.6,316.8 1076.6,320.1 1069.6,325.0 1062.6,327.6 1055.6,329.0 1048.6,326.6 1041.6,321.7 1034.6,316.8" fill="#b9bdd8" opacity="0.62"/>
<polygon points="1034.6,309.8 1041.6,314.7 1048.6,319.6 1055.6,322.0 1062.6,320.6 1069.6,318.0 1076.6,313.1 1083.6,309.8 1090.6,308.1 1090.6,310.3 1083.6,312.0 1076.6,315.3 1069.6,320.2 1062.6,322.8 1055.6,324.2 1048.6,321.9 1041.6,316.9 1034.6,312.0" fill="#b89a86" opacity="0.3"/>
</g>
<clipPath id="ih03"><rect x="1090.6" y="305" width="55.7" height="33.0"/></clipPath>
<g clip-path="url(#ih03)"><rect x="1090.6" y="305" width="55.7" height="33.0" fill="#faf9f7"/>
<polygon points="1090.6,326.6 1097.6,325.0 1104.5,322.4 1111.5,323.4 1118.4,325.7 1125.4,326.6 1132.4,325.0 1139.3,322.4 1146.3,321.0 1146.3,326.0 1139.3,327.4 1132.4,330.0 1125.4,331.6 1118.4,330.7 1111.5,328.4 1104.5,327.4 1097.6,330.0 1090.6,331.6" fill="#efeeee" opacity="0.95"/>
<polygon points="1090.6,319.6 1097.6,318.0 1104.5,315.4 1111.5,316.4 1118.4,318.7 1125.4,319.6 1132.4,318.0 1139.3,315.4 1146.3,314.0 1146.3,321.0 1139.3,322.4 1132.4,325.0 1125.4,326.6 1118.4,325.7 1111.5,323.4 1104.5,322.4 1097.6,325.0 1090.6,326.6" fill="#c8b8b0" opacity="0.62"/>
<polygon points="1090.6,319.6 1097.6,318.0 1104.5,315.4 1111.5,316.4 1118.4,318.7 1125.4,319.6 1132.4,318.0 1139.3,315.4 1146.3,314.0 1146.3,316.2 1139.3,317.6 1132.4,320.2 1125.4,321.9 1118.4,320.9 1111.5,318.6 1104.5,317.6 1097.6,320.2 1090.6,321.9" fill="#a9a6c4" opacity="0.3"/>
</g>
<clipPath id="ih04"><rect x="1146.3" y="305" width="55.3" height="33.0"/></clipPath>
<g clip-path="url(#ih04)"><rect x="1146.3" y="305" width="55.3" height="33.0" fill="#faf9f7"/>
<polygon points="1146.3,334.9 1153.2,326.6 1160.1,320.1 1167.0,318.4 1173.9,320.1 1180.9,325.0 1187.8,329.9 1194.7,334.2 1201.6,338.2 1201.6,343.2 1194.7,339.2 1187.8,334.9 1180.9,330.0 1173.9,325.1 1167.0,323.4 1160.1,325.1 1153.2,331.6 1146.3,339.9" fill="#efeeee" opacity="0.95"/>
<polygon points="1146.3,327.9 1153.2,319.6 1160.1,313.1 1167.0,311.4 1173.9,313.1 1180.9,318.0 1187.8,322.9 1194.7,327.2 1201.6,331.2 1201.6,338.2 1194.7,334.2 1187.8,329.9 1180.9,325.0 1173.9,320.1 1167.0,318.4 1160.1,320.1 1153.2,326.6 1146.3,334.9" fill="#d4b89c" opacity="0.62"/>
<polygon points="1146.3,327.9 1153.2,319.6 1160.1,313.1 1167.0,311.4 1173.9,313.1 1180.9,318.0 1187.8,322.9 1194.7,327.2 1201.6,331.2 1201.6,333.4 1194.7,329.4 1187.8,325.2 1180.9,320.2 1173.9,315.3 1167.0,313.6 1160.1,315.3 1153.2,321.9 1146.3,330.1" fill="#a9a6c4" opacity="0.3"/>
</g>
<clipPath id="ih05"><rect x="1201.6" y="305" width="56.0" height="33.0"/></clipPath>
<g clip-path="url(#ih05)"><rect x="1201.6" y="305" width="56.0" height="33.0" fill="#faf9f7"/>
<polygon points="1201.6,323.4 1208.6,322.4 1215.6,323.0 1222.6,325.0 1229.6,325.7 1236.6,325.0 1243.6,323.7 1250.6,322.4 1257.6,321.7 1257.6,326.7 1250.6,327.4 1243.6,328.7 1236.6,330.0 1229.6,330.7 1222.6,330.0 1215.6,328.0 1208.6,327.4 1201.6,328.4" fill="#efeeee" opacity="0.95"/>
<polygon points="1201.6,316.4 1208.6,315.4 1215.6,316.0 1222.6,318.0 1229.6,318.7 1236.6,318.0 1243.6,316.7 1250.6,315.4 1257.6,314.7 1257.6,321.7 1250.6,322.4 1243.6,323.7 1236.6,325.0 1229.6,325.7 1222.6,325.0 1215.6,323.0 1208.6,322.4 1201.6,323.4" fill="#cfc8cc" opacity="0.62"/>
<polygon points="1201.6,316.4 1208.6,315.4 1215.6,316.0 1222.6,318.0 1229.6,318.7 1236.6,318.0 1243.6,316.7 1250.6,315.4 1257.6,314.7 1257.6,316.9 1250.6,317.6 1243.6,318.9 1236.6,320.2 1229.6,320.9 1222.6,320.2 1215.6,318.2 1208.6,317.6 1201.6,318.6" fill="#a9a6c4" opacity="0.3"/>
</g>
<clipPath id="ih10"><rect x="923.3" y="338" width="56.5" height="33.9"/></clipPath>
<g clip-path="url(#ih10)"><rect x="923.3" y="338" width="56.5" height="33.9" fill="#faf9f7"/>
<polygon points="923.3,373.7 930.4,365.2 937.4,356.8 944.5,351.0 951.5,349.0 958.6,351.7 965.7,358.4 972.7,365.9 979.8,373.7 979.8,378.7 972.7,370.9 965.7,363.4 958.6,356.7 951.5,354.0 944.5,356.0 937.4,361.8 930.4,370.2 923.3,378.7" fill="#efeeee" opacity="0.95"/>
<polygon points="923.3,366.7 930.4,358.2 937.4,349.8 944.5,344.0 951.5,342.0 958.6,344.7 965.7,351.4 972.7,358.9 979.8,366.7 979.8,373.7 972.7,365.9 965.7,358.4 958.6,351.7 951.5,349.0 944.5,351.0 937.4,356.8 930.4,365.2 923.3,373.7" fill="#cfcfe0" opacity="0.62"/>
<polygon points="923.3,366.7 930.4,358.2 937.4,349.8 944.5,344.0 951.5,342.0 958.6,344.7 965.7,351.4 972.7,358.9 979.8,366.7 979.8,368.9 972.7,361.1 965.7,353.7 958.6,346.9 951.5,344.2 944.5,346.2 937.4,352.0 930.4,360.4 923.3,368.9" fill="#a9a6c4" opacity="0.3"/>
</g>
<clipPath id="ih11"><rect x="979.8" y="338" width="54.8" height="33.9"/></clipPath>
<g clip-path="url(#ih11)"><rect x="979.8" y="338" width="54.8" height="33.9" fill="#faf9f7"/>
<polygon points="979.8,355.7 986.6,355.1 993.5,356.8 1000.3,355.7 1007.2,355.1 1014.0,357.1 1020.9,355.7 1027.8,354.4 1034.6,353.7 1034.6,358.7 1027.8,359.4 1020.9,360.7 1014.0,362.1 1007.2,360.1 1000.3,360.7 993.5,361.8 986.6,360.1 979.8,360.7" fill="#efeeee" opacity="0.95"/>
<polygon points="979.8,348.7 986.6,348.1 993.5,349.8 1000.3,348.7 1007.2,348.1 1014.0,350.1 1020.9,348.7 1027.8,347.4 1034.6,346.7 1034.6,353.7 1027.8,354.4 1020.9,355.7 1014.0,357.1 1007.2,355.1 1000.3,355.7 993.5,356.8 986.6,355.1 979.8,355.7" fill="#c9aa96" opacity="0.62"/>
<polygon points="979.8,348.7 986.6,348.1 993.5,349.8 1000.3,348.7 1007.2,348.1 1014.0,350.1 1020.9,348.7 1027.8,347.4 1034.6,346.7 1034.6,348.9 1027.8,349.6 1020.9,350.9 1014.0,352.3 1007.2,350.3 1000.3,350.9 993.5,352.0 986.6,350.3 979.8,350.9" fill="#a9a6c4" opacity="0.3"/>
</g>
<clipPath id="ih12"><rect x="1034.6" y="338" width="56.0" height="33.9"/></clipPath>
<g clip-path="url(#ih12)"><rect x="1034.6" y="338" width="56.0" height="33.9" fill="#faf9f7"/>
<polygon points="1034.6,360.1 1041.6,358.4 1048.6,355.7 1055.6,356.8 1062.6,359.1 1069.6,360.1 1076.6,358.4 1083.6,355.7 1090.6,354.4 1090.6,359.4 1083.6,360.7 1076.6,363.4 1069.6,365.1 1062.6,364.1 1055.6,361.8 1048.6,360.7 1041.6,363.4 1034.6,365.1" fill="#efeeee" opacity="0.95"/>
<polygon points="1034.6,353.1 1041.6,351.4 1048.6,348.7 1055.6,349.8 1062.6,352.1 1069.6,353.1 1076.6,351.4 1083.6,348.7 1090.6,347.4 1090.6,354.4 1083.6,355.7 1076.6,358.4 1069.6,360.1 1062.6,359.1 1055.6,356.8 1048.6,355.7 1041.6,358.4 1034.6,360.1" fill="#b4b8d8" opacity="0.62"/>
<polygon points="1034.6,353.1 1041.6,351.4 1048.6,348.7 1055.6,349.8 1062.6,352.1 1069.6,353.1 1076.6,351.4 1083.6,348.7 1090.6,347.4 1090.6,349.6 1083.6,350.9 1076.6,353.7 1069.6,355.3 1062.6,354.3 1055.6,352.0 1048.6,350.9 1041.6,353.7 1034.6,355.3" fill="#b89a86" opacity="0.3"/>
</g>
<clipPath id="ih13"><rect x="1090.6" y="338" width="55.7" height="33.9"/></clipPath>
<g clip-path="url(#ih13)"><rect x="1090.6" y="338" width="55.7" height="33.9" fill="#faf9f7"/>
<polygon points="1090.6,360.1 1097.6,358.4 1104.5,355.7 1111.5,356.8 1118.4,359.1 1125.4,360.1 1132.4,358.4 1139.3,355.7 1146.3,354.4 1146.3,359.4 1139.3,360.7 1132.4,363.4 1125.4,365.1 1118.4,364.1 1111.5,361.8 1104.5,360.7 1097.6,363.4 1090.6,365.1" fill="#efeeee" opacity="0.95"/>
<polygon points="1090.6,353.1 1097.6,351.4 1104.5,348.7 1111.5,349.8 1118.4,352.1 1125.4,353.1 1132.4,351.4 1139.3,348.7 1146.3,347.4 1146.3,354.4 1139.3,355.7 1132.4,358.4 1125.4,360.1 1118.4,359.1 1111.5,356.8 1104.5,355.7 1097.6,358.4 1090.6,360.1" fill="#b4b8d6" opacity="0.62"/>
<polygon points="1090.6,353.1 1097.6,351.4 1104.5,348.7 1111.5,349.8 1118.4,352.1 1125.4,353.1 1132.4,351.4 1139.3,348.7 1146.3,347.4 1146.3,349.6 1139.3,350.9 1132.4,353.7 1125.4,355.3 1118.4,354.3 1111.5,352.0 1104.5,350.9 1097.6,353.7 1090.6,355.3" fill="#b89a86" opacity="0.3"/>
</g>
<clipPath id="ih14"><rect x="1146.3" y="338" width="55.3" height="33.9"/></clipPath>
<g clip-path="url(#ih14)"><rect x="1146.3" y="338" width="55.3" height="33.9" fill="#faf9f7"/>
<polygon points="1146.3,368.6 1153.2,360.1 1160.1,353.4 1167.0,351.7 1173.9,353.4 1180.9,358.4 1187.8,363.5 1194.7,367.9 1201.6,372.0 1201.6,377.0 1194.7,372.9 1187.8,368.5 1180.9,363.4 1173.9,358.4 1167.0,356.7 1160.1,358.4 1153.2,365.1 1146.3,373.6" fill="#efeeee" opacity="0.95"/>
<polygon points="1146.3,361.6 1153.2,353.1 1160.1,346.4 1167.0,344.7 1173.9,346.4 1180.9,351.4 1187.8,356.5 1194.7,360.9 1201.6,365.0 1201.6,372.0 1194.7,367.9 1187.8,363.5 1180.9,358.4 1173.9,353.4 1167.0,351.7 1160.1,353.4 1153.2,360.1 1146.3,368.6" fill="#bcbcd2" opacity="0.62"/>
<polygon points="1146.3,361.6 1153.2,353.1 1160.1,346.4 1167.0,344.7 1173.9,346.4 1180.9,351.4 1187.8,356.5 1194.7,360.9 1201.6,365.0 1201.6,367.2 1194.7,363.1 1187.8,358.7 1180.9,353.7 1173.9,348.6 1167.0,346.9 1160.1,348.6 1153.2,355.3 1146.3,363.8" fill="#b89a86" opacity="0.3"/>
</g>
<clipPath id="ih15"><rect x="1201.6" y="338" width="56.0" height="33.9"/></clipPath>
<g clip-path="url(#ih15)"><rect x="1201.6" y="338" width="56.0" height="33.9" fill="#faf9f7"/>
<polygon points="1201.6,360.1 1208.6,358.4 1215.6,355.7 1222.6,356.8 1229.6,359.1 1236.6,360.1 1243.6,358.4 1250.6,355.7 1257.6,354.4 1257.6,359.4 1250.6,360.7 1243.6,363.4 1236.6,365.1 1229.6,364.1 1222.6,361.8 1215.6,360.7 1208.6,363.4 1201.6,365.1" fill="#efeeee" opacity="0.95"/>
<polygon points="1201.6,353.1 1208.6,351.4 1215.6,348.7 1222.6,349.8 1229.6,352.1 1236.6,353.1 1243.6,351.4 1250.6,348.7 1257.6,347.4 1257.6,354.4 1250.6,355.7 1243.6,358.4 1236.6,360.1 1229.6,359.1 1222.6,356.8 1215.6,355.7 1208.6,358.4 1201.6,360.1" fill="#c2c6e2" opacity="0.62"/>
<polygon points="1201.6,353.1 1208.6,351.4 1215.6,348.7 1222.6,349.8 1229.6,352.1 1236.6,353.1 1243.6,351.4 1250.6,348.7 1257.6,347.4 1257.6,349.6 1250.6,350.9 1243.6,353.7 1236.6,355.3 1229.6,354.3 1222.6,352.0 1215.6,350.9 1208.6,353.7 1201.6,355.3" fill="#a9a6c4" opacity="0.3"/>
</g>
<clipPath id="ih20"><rect x="923.3" y="371.9" width="56.5" height="33.3"/></clipPath>
<g clip-path="url(#ih20)"><rect x="923.3" y="371.9" width="56.5" height="33.3" fill="#faf9f7"/>
<polygon points="923.3,407.0 930.4,398.7 937.4,390.4 944.5,384.7 951.5,382.7 958.6,385.4 965.7,392.0 972.7,399.4 979.8,407.0 979.8,412.0 972.7,404.4 965.7,397.0 958.6,390.4 951.5,387.7 944.5,389.7 937.4,395.4 930.4,403.7 923.3,412.0" fill="#efeeee" opacity="0.95"/>
<polygon points="923.3,400.0 930.4,391.7 937.4,383.4 944.5,377.7 951.5,375.7 958.6,378.4 965.7,385.0 972.7,392.4 979.8,400.0 979.8,407.0 972.7,399.4 965.7,392.0 958.6,385.4 951.5,382.7 944.5,384.7 937.4,390.4 930.4,398.7 923.3,407.0" fill="#c6c6da" opacity="0.62"/>
<polygon points="923.3,400.0 930.4,391.7 937.4,383.4 944.5,377.7 951.5,375.7 958.6,378.4 965.7,385.0 972.7,392.4 979.8,400.0 979.8,402.2 972.7,394.6 965.7,387.2 958.6,380.6 951.5,377.9 944.5,379.9 937.4,385.6 930.4,393.9 923.3,402.2" fill="#a9a6c4" opacity="0.3"/>
</g>
<clipPath id="ih21"><rect x="979.8" y="371.9" width="54.8" height="33.3"/></clipPath>
<g clip-path="url(#ih21)"><rect x="979.8" y="371.9" width="54.8" height="33.3" fill="#faf9f7"/>
<polygon points="979.8,393.7 986.6,392.0 993.5,389.4 1000.3,390.4 1007.2,392.7 1014.0,393.7 1020.9,392.0 1027.8,389.4 1034.6,388.1 1034.6,393.1 1027.8,394.4 1020.9,397.0 1014.0,398.7 1007.2,397.7 1000.3,395.4 993.5,394.4 986.6,397.0 979.8,398.7" fill="#efeeee" opacity="0.95"/>
<polygon points="979.8,386.7 986.6,385.0 993.5,382.4 1000.3,383.4 1007.2,385.7 1014.0,386.7 1020.9,385.0 1027.8,382.4 1034.6,381.1 1034.6,388.1 1027.8,389.4 1020.9,392.0 1014.0,393.7 1007.2,392.7 1000.3,390.4 993.5,389.4 986.6,392.0 979.8,393.7" fill="#b8b4c4" opacity="0.62"/>
<polygon points="979.8,386.7 986.6,385.0 993.5,382.4 1000.3,383.4 1007.2,385.7 1014.0,386.7 1020.9,385.0 1027.8,382.4 1034.6,381.1 1034.6,383.3 1027.8,384.6 1020.9,387.2 1014.0,388.9 1007.2,387.9 1000.3,385.6 993.5,384.6 986.6,387.2 979.8,388.9" fill="#b89a86" opacity="0.3"/>
</g>
<clipPath id="ih22"><rect x="1034.6" y="371.9" width="56.0" height="33.3"/></clipPath>
<g clip-path="url(#ih22)"><rect x="1034.6" y="371.9" width="56.0" height="33.3" fill="#faf9f7"/>
<polygon points="1034.6,383.7 1041.6,388.7 1048.6,393.7 1055.6,396.0 1062.6,394.7 1069.6,392.0 1076.6,387.1 1083.6,383.7 1090.6,382.1 1090.6,387.1 1083.6,388.7 1076.6,392.1 1069.6,397.0 1062.6,399.7 1055.6,401.0 1048.6,398.7 1041.6,393.7 1034.6,388.7" fill="#efeeee" opacity="0.95"/>
<polygon points="1034.6,376.7 1041.6,381.7 1048.6,386.7 1055.6,389.0 1062.6,387.7 1069.6,385.0 1076.6,380.1 1083.6,376.7 1090.6,375.1 1090.6,382.1 1083.6,383.7 1076.6,387.1 1069.6,392.0 1062.6,394.7 1055.6,396.0 1048.6,393.7 1041.6,388.7 1034.6,383.7" fill="#c0c2d8" opacity="0.62"/>
<polygon points="1034.6,376.7 1041.6,381.7 1048.6,386.7 1055.6,389.0 1062.6,387.7 1069.6,385.0 1076.6,380.1 1083.6,376.7 1090.6,375.1 1090.6,377.3 1083.6,378.9 1076.6,382.3 1069.6,387.2 1062.6,389.9 1055.6,391.2 1048.6,388.9 1041.6,383.9 1034.6,378.9" fill="#a9a6c4" opacity="0.3"/>
</g>
<clipPath id="ih23"><rect x="1090.6" y="371.9" width="55.7" height="33.3"/></clipPath>
<g clip-path="url(#ih23)"><rect x="1090.6" y="371.9" width="55.7" height="33.3" fill="#faf9f7"/>
<polygon points="1090.6,393.7 1097.6,392.0 1104.5,389.4 1111.5,390.4 1118.4,392.7 1125.4,393.7 1132.4,392.0 1139.3,389.4 1146.3,388.1 1146.3,393.1 1139.3,394.4 1132.4,397.0 1125.4,398.7 1118.4,397.7 1111.5,395.4 1104.5,394.4 1097.6,397.0 1090.6,398.7" fill="#efeeee" opacity="0.95"/>
<polygon points="1090.6,386.7 1097.6,385.0 1104.5,382.4 1111.5,383.4 1118.4,385.7 1125.4,386.7 1132.4,385.0 1139.3,382.4 1146.3,381.1 1146.3,388.1 1139.3,389.4 1132.4,392.0 1125.4,393.7 1118.4,392.7 1111.5,390.4 1104.5,389.4 1097.6,392.0 1090.6,393.7" fill="#c6c2cc" opacity="0.62"/>
<polygon points="1090.6,386.7 1097.6,385.0 1104.5,382.4 1111.5,383.4 1118.4,385.7 1125.4,386.7 1132.4,385.0 1139.3,382.4 1146.3,381.1 1146.3,383.3 1139.3,384.6 1132.4,387.2 1125.4,388.9 1118.4,387.9 1111.5,385.6 1104.5,384.6 1097.6,387.2 1090.6,388.9" fill="#a9a6c4" opacity="0.3"/>
</g>
<clipPath id="ih24"><rect x="1146.3" y="371.9" width="55.3" height="33.3"/></clipPath>
<g clip-path="url(#ih24)"><rect x="1146.3" y="371.9" width="55.3" height="33.3" fill="#faf9f7"/>
<polygon points="1146.3,393.7 1153.2,392.0 1160.1,389.4 1167.0,390.4 1173.9,392.7 1180.9,393.7 1187.8,392.0 1194.7,389.4 1201.6,388.1 1201.6,393.1 1194.7,394.4 1187.8,397.0 1180.9,398.7 1173.9,397.7 1167.0,395.4 1160.1,394.4 1153.2,397.0 1146.3,398.7" fill="#efeeee" opacity="0.95"/>
<polygon points="1146.3,386.7 1153.2,385.0 1160.1,382.4 1167.0,383.4 1173.9,385.7 1180.9,386.7 1187.8,385.0 1194.7,382.4 1201.6,381.1 1201.6,388.1 1194.7,389.4 1187.8,392.0 1180.9,393.7 1173.9,392.7 1167.0,390.4 1160.1,389.4 1153.2,392.0 1146.3,393.7" fill="#b0b2d0" opacity="0.62"/>
<polygon points="1146.3,386.7 1153.2,385.0 1160.1,382.4 1167.0,383.4 1173.9,385.7 1180.9,386.7 1187.8,385.0 1194.7,382.4 1201.6,381.1 1201.6,383.3 1194.7,384.6 1187.8,387.2 1180.9,388.9 1173.9,387.9 1167.0,385.6 1160.1,384.6 1153.2,387.2 1146.3,388.9" fill="#b89a86" opacity="0.3"/>
</g>
<clipPath id="ih25"><rect x="1201.6" y="371.9" width="56.0" height="33.3"/></clipPath>
<g clip-path="url(#ih25)"><rect x="1201.6" y="371.9" width="56.0" height="33.3" fill="#faf9f7"/>
<polygon points="1201.6,390.4 1208.6,389.4 1215.6,390.1 1222.6,392.0 1229.6,392.7 1236.6,392.0 1243.6,390.7 1250.6,389.4 1257.6,388.7 1257.6,393.7 1250.6,394.4 1243.6,395.7 1236.6,397.0 1229.6,397.7 1222.6,397.0 1215.6,395.1 1208.6,394.4 1201.6,395.4" fill="#efeeee" opacity="0.95"/>
<polygon points="1201.6,383.4 1208.6,382.4 1215.6,383.1 1222.6,385.0 1229.6,385.7 1236.6,385.0 1243.6,383.7 1250.6,382.4 1257.6,381.7 1257.6,388.7 1250.6,389.4 1243.6,390.7 1236.6,392.0 1229.6,392.7 1222.6,392.0 1215.6,390.1 1208.6,389.4 1201.6,390.4" fill="#c8c8d8" opacity="0.62"/>
<polygon points="1201.6,383.4 1208.6,382.4 1215.6,383.1 1222.6,385.0 1229.6,385.7 1236.6,385.0 1243.6,383.7 1250.6,382.4 1257.6,381.7 1257.6,383.9 1250.6,384.6 1243.6,385.9 1236.6,387.2 1229.6,387.9 1222.6,387.2 1215.6,385.3 1208.6,384.6 1201.6,385.6" fill="#a9a6c4" opacity="0.3"/>
</g>
<rect x="923.3" y="405.2" width="56.5" height="34.4" fill="#f8f7f5"/>
<clipPath id="ih30"><rect x="923.3" y="405.2" width="56.5" height="34.4"/></clipPath><g clip-path="url(#ih30)">
<polygon points="923.3,439.6 923.3,419.2 943.3,407.2 971.3,409.2 979.8,421.2 979.8,431.2 963.3,423.2 945.3,427.2 935.3,439.6" fill="#d6d8ea"/>
<path d="M924.0 410.8h.8M945.5 429.4h.8M931.1 410.8h.8M936.4 431.7h.8M931.6 431.2h.8M960.7 411.6h.8M953.6 421.7h.8M946.6 439.5h.8M928.6 407.9h.8M976.4 420.3h.8M934.5 417.9h.8M943.9 438.1h.8M935.2 414.2h.8M956.3 424.9h.8M977.2 434.4h.8M943.4 413.8h.8M970.6 439.2h.8M925.0 431.0h.8M972.4 428.3h.8M935.6 433.0h.8M964.5 413.5h.8M959.5 414.3h.8M925.6 418.1h.8M942.2 420.0h.8M959.8 434.3h.8M977.6 438.8h.8M979.4 432.8h.8M940.6 412.9h.8M958.5 424.9h.8M961.4 410.2h.8M934.2 437.0h.8M957.3 429.7h.8M928.7 420.1h.8M974.7 428.2h.8M979.3 413.6h.8M949.0 433.1h.8M948.4 432.8h.8M955.0 411.0h.8M928.9 439.0h.8M930.0 413.5h.8M942.2 430.3h.8M971.6 422.6h.8M951.4 432.7h.8M939.0 419.3h.8M957.9 427.8h.8M925.5 410.8h.8M931.1 430.7h.8M962.5 438.7h.8M966.7 415.5h.8M966.6 439.1h.8M943.0 407.6h.8M944.5 416.4h.8M933.3 408.7h.8M930.4 435.2h.8M926.1 427.1h.8M935.0 413.5h.8M969.7 416.9h.8M933.7 421.9h.8M962.6 424.2h.8M971.9 420.2h.8M952.9 430.4h.8M949.4 430.4h.8M949.7 411.5h.8M930.3 432.6h.8M965.4 437.7h.8M962.3 426.0h.8M932.7 434.8h.8M930.0 421.0h.8M931.2 419.5h.8M940.7 421.0h.8M963.5 424.7h.8M937.0 432.4h.8M964.8 434.0h.8M925.2 427.1h.8M973.9 415.6h.8M934.7 433.6h.8M943.9 420.2h.8M969.5 419.6h.8M934.5 414.1h.8M942.8 429.8h.8M944.1 432.2h.8M927.0 415.3h.8M958.6 422.7h.8M951.5 437.5h.8M939.0 413.1h.8M925.2 422.8h.8M940.1 422.6h.8M923.6 407.2h.8M944.8 431.7h.8M940.3 436.8h.8M956.0 420.3h.8M967.2 414.8h.8M957.5 434.6h.8M953.9 417.6h.8M928.7 425.8h.8M933.9 419.3h.8M953.9 437.7h.8M961.3 424.0h.8M971.8 417.2h.8M945.2 429.1h.8M954.6 414.4h.8M946.5 433.9h.8M937.0 430.1h.8M926.0 438.1h.8M962.0 417.7h.8M978.9 433.0h.8M926.8 415.2h.8M951.1 439.5h.8M931.2 408.7h.8M941.0 408.7h.8" stroke="#8088c0" stroke-width=".8" opacity="0.75"/>
</g>
<rect x="979.8" y="405.2" width="54.8" height="34.4" fill="#f8f7f5"/>
<clipPath id="ih31"><rect x="979.8" y="405.2" width="54.8" height="34.4"/></clipPath><g clip-path="url(#ih31)">
<polygon points="979.8,439.6 979.8,425.2 1004.8,411.2 1034.6,409.2 1034.6,439.6" fill="#d2d2d8"/>
<path d="M1002.2 424.6h.8M1003.9 411.8h.8M981.1 433.2h.8M1003.9 422.8h.8M1006.0 429.4h.8M1029.2 434.0h.8M1019.6 418.2h.8M989.0 410.1h.8M1026.9 409.0h.8M1011.0 436.7h.8M997.5 419.8h.8M1002.7 437.8h.8M1017.3 434.4h.8M981.9 430.9h.8M1004.5 420.2h.8M1024.5 431.0h.8M1029.7 431.1h.8M1029.7 421.1h.8M1010.3 432.6h.8M1004.7 411.6h.8M1011.9 435.4h.8M1027.5 411.3h.8M1000.7 414.6h.8M998.5 438.3h.8M1002.9 417.3h.8M994.7 421.5h.8M1016.5 418.3h.8M990.0 414.5h.8M994.0 436.6h.8M989.1 431.6h.8M985.7 432.7h.8M994.4 432.5h.8M1003.5 409.7h.8M985.0 433.1h.8M1009.5 422.9h.8M999.1 429.6h.8M1006.2 409.2h.8M1012.7 417.4h.8M1026.2 425.0h.8M1022.2 411.1h.8M1018.5 427.0h.8M1026.4 435.8h.8M1010.0 426.4h.8M1021.8 415.7h.8M1009.7 432.7h.8M1012.4 424.8h.8M1026.7 438.8h.8M994.0 409.6h.8M1013.4 412.0h.8M1032.9 422.6h.8M1009.1 433.7h.8M1027.5 411.8h.8M1004.6 413.0h.8M1005.0 411.5h.8M1027.9 418.7h.8M1001.1 436.3h.8M1024.9 418.1h.8M1007.2 428.7h.8M990.1 411.6h.8M1026.8 412.5h.8M1018.6 431.1h.8M1012.2 418.4h.8M1026.8 432.7h.8M983.7 436.3h.8M1014.7 416.6h.8M989.0 410.4h.8M1024.3 434.7h.8M998.9 413.0h.8M983.8 420.6h.8M996.1 408.9h.8M996.1 433.8h.8M983.4 420.3h.8M1008.0 412.4h.8M981.8 409.6h.8M987.7 438.8h.8M1027.0 430.0h.8M1029.1 417.7h.8M993.5 435.4h.8M1013.0 437.1h.8M999.5 420.6h.8M1019.1 435.8h.8M988.9 415.7h.8M980.6 425.3h.8M1030.4 425.6h.8M987.9 429.6h.8M1015.4 410.6h.8M1029.9 428.6h.8M1006.7 418.3h.8M988.6 422.4h.8M999.8 414.7h.8M1015.2 428.6h.8M1032.1 438.6h.8M1005.3 430.4h.8M1000.4 421.2h.8M1010.9 439.0h.8M982.1 422.2h.8M998.2 433.3h.8M1031.9 422.5h.8M984.2 426.5h.8M1012.0 429.3h.8M1022.4 422.2h.8M1009.9 432.1h.8M981.3 415.0h.8M1017.5 438.9h.8M1031.5 416.3h.8M1033.1 416.2h.8M1004.6 412.3h.8M1012.8 419.9h.8M1017.3 438.2h.8M986.8 428.5h.8" stroke="#8088c0" stroke-width=".8" opacity="0.75"/>
</g>
<rect x="1034.6" y="405.2" width="56.0" height="34.4" fill="#f8f7f5"/>
<clipPath id="ih32"><rect x="1034.6" y="405.2" width="56.0" height="34.4"/></clipPath><g clip-path="url(#ih32)">
<polygon points="1034.6,405.2 1074.6,407.2 1090.6,423.2 1090.6,439.6 1034.6,439.6" fill="#d6d8e8"/>
<path d="M1068.3 416.1h.8M1036.6 437.6h.8M1073.5 427.5h.8M1040.3 436.4h.8M1056.9 422.3h.8M1065.8 421.7h.8M1088.0 422.3h.8M1072.5 432.2h.8M1086.8 412.7h.8M1053.6 438.0h.8M1068.5 419.3h.8M1084.0 411.0h.8M1048.8 409.4h.8M1072.2 423.0h.8M1051.6 421.4h.8M1048.8 430.2h.8M1077.1 419.6h.8M1083.2 408.6h.8M1066.3 412.2h.8M1041.2 425.3h.8M1039.5 409.6h.8M1042.1 419.4h.8M1081.1 416.6h.8M1041.4 432.1h.8M1080.4 439.5h.8M1037.4 412.5h.8M1058.9 439.3h.8M1064.8 435.8h.8M1047.2 422.4h.8M1073.1 414.5h.8M1063.9 433.9h.8M1080.3 429.8h.8M1081.0 439.5h.8M1068.5 415.3h.8M1047.0 409.0h.8M1086.1 425.7h.8M1068.4 435.5h.8M1073.3 419.9h.8M1067.4 409.9h.8M1048.8 418.3h.8M1079.1 428.6h.8M1068.4 420.0h.8M1054.3 419.7h.8M1037.4 418.9h.8M1085.5 433.6h.8M1048.6 423.4h.8M1076.3 413.7h.8M1054.5 426.2h.8M1045.1 436.7h.8M1035.7 435.7h.8M1072.1 420.1h.8M1050.7 435.3h.8M1074.4 414.0h.8M1052.4 410.2h.8M1069.8 420.9h.8M1052.4 430.0h.8M1048.8 411.8h.8M1079.2 435.9h.8M1079.8 425.3h.8M1074.8 435.2h.8M1036.8 416.9h.8M1054.5 431.0h.8M1053.4 432.0h.8M1049.0 437.9h.8M1059.0 426.3h.8M1069.8 433.8h.8M1066.2 414.1h.8M1059.3 425.4h.8M1038.7 434.1h.8M1051.8 437.0h.8M1055.4 438.0h.8M1075.0 419.9h.8M1073.9 407.2h.8M1039.3 426.1h.8M1051.8 420.4h.8M1074.1 422.5h.8M1068.9 431.2h.8M1081.4 410.6h.8M1081.0 431.3h.8M1047.3 409.9h.8M1045.4 410.1h.8M1066.5 439.4h.8M1061.8 416.1h.8M1044.1 438.7h.8M1065.2 414.9h.8M1085.6 420.8h.8M1089.7 423.8h.8M1048.8 413.2h.8M1035.5 433.6h.8M1053.0 430.8h.8M1081.7 420.2h.8M1063.2 430.6h.8M1070.6 419.0h.8M1045.7 416.4h.8M1035.8 427.8h.8M1070.5 432.3h.8M1059.2 430.9h.8M1065.9 434.8h.8M1065.4 429.0h.8M1068.2 413.8h.8M1038.9 433.8h.8M1073.4 423.7h.8M1085.8 413.1h.8M1075.6 423.5h.8M1040.5 411.4h.8M1036.0 413.3h.8M1078.1 422.7h.8M1037.3 423.2h.8M1089.1 432.7h.8M1051.5 422.9h.8" stroke="#8088c0" stroke-width=".8" opacity="0.75"/>
</g>
<rect x="1090.6" y="405.2" width="55.7" height="34.4" fill="#f8f7f5"/>
<clipPath id="ih33"><rect x="1090.6" y="405.2" width="55.7" height="34.4"/></clipPath><g clip-path="url(#ih33)">
<polygon points="1090.6,415.2 1110.6,411.2 1130.6,415.2 1146.3,413.2 1146.3,439.6 1090.6,439.6" fill="#e6dedc"/><path d="M1090.6 415.2 L1110.6 411.2 L1130.6 415.2 L1146.3 413.2" stroke="#c8a884" stroke-width="1.6" fill="none"/>
<path d="M1111.0 414.7h.8M1127.3 408.0h.8M1117.0 437.3h.8M1132.7 428.5h.8M1136.9 438.0h.8M1105.7 437.8h.8M1140.4 423.2h.8M1098.1 424.5h.8M1118.3 439.5h.8M1104.3 430.5h.8M1132.9 426.7h.8M1106.4 436.6h.8M1104.8 435.0h.8M1140.1 424.4h.8M1093.5 416.0h.8M1094.3 413.2h.8M1110.4 425.8h.8M1135.4 408.7h.8M1132.1 410.8h.8M1130.3 407.5h.8M1110.5 437.2h.8M1139.3 408.9h.8M1112.2 436.8h.8M1100.5 422.0h.8M1105.2 416.8h.8M1117.9 411.7h.8M1099.2 438.8h.8M1133.1 426.6h.8M1098.2 411.5h.8M1125.2 427.1h.8M1091.2 438.4h.8M1111.5 415.9h.8M1126.0 436.8h.8M1110.1 423.7h.8M1093.3 422.3h.8M1140.6 437.7h.8M1110.1 435.1h.8M1146.0 417.0h.8M1138.2 416.3h.8M1144.3 436.4h.8M1144.7 420.4h.8M1128.8 430.0h.8M1123.0 408.9h.8M1127.7 433.2h.8M1126.4 436.5h.8M1144.3 427.9h.8M1110.5 423.6h.8M1100.7 414.4h.8M1145.1 421.5h.8M1116.6 436.0h.8M1135.0 408.6h.8M1113.6 424.4h.8M1103.8 432.0h.8M1125.1 434.7h.8M1098.1 413.3h.8M1107.6 424.0h.8M1104.8 423.9h.8M1109.9 409.2h.8M1136.6 424.8h.8M1140.8 424.0h.8M1138.5 426.9h.8M1118.2 437.6h.8M1110.7 438.9h.8M1123.4 438.0h.8M1095.8 424.7h.8M1108.2 433.7h.8M1141.3 435.1h.8M1112.2 409.6h.8M1144.9 413.9h.8M1136.6 426.4h.8M1131.3 430.1h.8M1103.8 419.7h.8M1112.0 430.0h.8M1128.5 439.3h.8M1120.5 418.5h.8M1097.3 421.5h.8M1123.8 429.5h.8M1092.2 413.6h.8M1126.0 432.6h.8M1143.1 411.7h.8M1131.2 421.7h.8M1123.5 429.4h.8M1113.3 426.9h.8M1144.4 407.9h.8M1121.3 439.6h.8M1139.4 415.3h.8M1134.2 436.8h.8M1113.4 425.0h.8M1107.0 439.5h.8M1100.9 429.9h.8M1145.7 438.8h.8M1138.0 421.3h.8M1142.9 435.0h.8M1114.0 419.3h.8M1108.9 417.7h.8M1122.4 420.7h.8M1144.0 407.2h.8M1124.3 421.2h.8M1146.2 439.5h.8M1130.4 430.8h.8M1111.7 429.8h.8M1104.2 433.6h.8M1122.6 414.7h.8M1102.3 419.8h.8M1109.8 428.7h.8M1116.4 408.3h.8M1108.7 421.9h.8M1145.7 437.2h.8M1124.9 438.4h.8M1099.0 413.9h.8" stroke="#8088c0" stroke-width=".8" opacity="0.75"/>
</g>
<rect x="1146.3" y="405.2" width="55.3" height="34.4" fill="#f8f7f5"/>
<clipPath id="ih34"><rect x="1146.3" y="405.2" width="55.3" height="34.4"/></clipPath><g clip-path="url(#ih34)">
<rect x="1146.3" y="407.2" width="55.3" height="30.4" fill="#eeeff5"/>
<path d="M1154.6 415.5h.8M1161.8 424.7h.8M1195.4 418.6h.8M1164.2 422.5h.8M1198.8 423.6h.8M1200.6 417.2h.8M1176.8 427.6h.8M1186.1 434.3h.8M1152.9 413.9h.8M1152.1 432.3h.8M1173.6 423.2h.8M1148.3 433.1h.8M1200.0 407.7h.8M1200.9 422.9h.8M1152.8 408.1h.8M1185.1 433.1h.8M1169.0 435.4h.8M1146.5 435.4h.8M1155.1 413.2h.8M1164.9 417.9h.8M1196.0 423.5h.8M1170.0 433.5h.8M1170.2 417.3h.8M1165.5 426.1h.8M1196.6 437.2h.8M1147.6 419.1h.8M1184.9 423.3h.8M1187.0 437.6h.8M1148.8 429.8h.8M1159.6 428.4h.8M1156.8 411.8h.8M1193.2 428.4h.8M1181.6 421.1h.8M1160.4 409.2h.8M1198.8 432.9h.8M1187.9 409.7h.8M1147.0 422.3h.8M1151.9 427.1h.8M1163.3 432.4h.8M1155.4 423.4h.8M1169.1 414.7h.8M1164.6 413.4h.8M1163.0 421.5h.8M1168.0 428.6h.8M1194.9 423.6h.8M1157.3 423.7h.8M1154.6 434.5h.8M1147.1 416.3h.8M1197.6 426.0h.8M1165.2 408.3h.8M1156.2 434.3h.8M1150.6 429.7h.8M1155.3 431.7h.8M1152.6 411.4h.8M1157.1 438.0h.8M1147.3 422.7h.8M1196.5 429.1h.8M1147.2 428.7h.8M1163.4 414.4h.8M1153.7 410.9h.8M1177.4 431.7h.8M1196.0 427.9h.8M1170.5 436.8h.8M1155.7 437.1h.8M1200.6 424.7h.8M1187.5 427.2h.8M1184.9 429.2h.8M1184.5 429.1h.8M1173.1 413.3h.8M1164.8 417.8h.8M1184.3 411.5h.8M1184.6 422.5h.8M1197.3 420.9h.8M1187.6 411.9h.8M1154.2 434.8h.8M1191.7 415.1h.8M1169.6 431.9h.8M1150.9 429.3h.8M1184.8 438.0h.8M1201.4 432.3h.8M1152.8 433.7h.8M1155.2 416.2h.8M1191.4 423.2h.8M1169.7 435.9h.8M1193.2 416.9h.8M1192.6 439.3h.8M1184.1 414.4h.8M1175.8 425.4h.8M1162.1 431.3h.8M1152.8 412.7h.8M1198.8 418.2h.8M1154.5 432.5h.8M1190.6 421.5h.8M1173.3 407.5h.8M1147.1 436.5h.8M1198.9 430.5h.8M1184.3 420.3h.8M1163.1 430.8h.8M1190.0 409.9h.8M1152.7 409.4h.8M1185.3 422.8h.8M1150.5 423.5h.8M1198.1 432.1h.8M1186.7 427.9h.8M1157.2 424.8h.8M1170.9 437.6h.8M1147.7 408.0h.8M1148.1 409.6h.8M1163.8 427.9h.8M1188.0 433.4h.8" stroke="#8088c0" stroke-width=".8" opacity="0.55"/>
</g>
<rect x="1201.6" y="405.2" width="56.0" height="34.4" fill="#f8f7f5"/>
<clipPath id="ih35"><rect x="1201.6" y="405.2" width="56.0" height="34.4"/></clipPath><g clip-path="url(#ih35)">
<rect x="1201.6" y="407.2" width="56.0" height="30.4" fill="#eaecf5"/>
<path d="M1206.2 420.7h.8M1234.5 418.1h.8M1216.8 412.8h.8M1221.0 410.4h.8M1257.5 430.6h.8M1254.7 409.2h.8M1207.9 428.4h.8M1256.3 420.2h.8M1219.1 420.1h.8M1201.8 413.8h.8M1209.9 411.9h.8M1256.1 428.3h.8M1248.2 421.0h.8M1231.5 419.1h.8M1227.6 432.8h.8M1239.7 412.2h.8M1216.4 428.4h.8M1230.1 424.6h.8M1204.2 416.5h.8M1226.2 436.4h.8M1256.1 410.0h.8M1225.5 413.3h.8M1224.8 426.6h.8M1242.8 426.2h.8M1236.4 426.4h.8M1211.8 413.3h.8M1229.3 409.6h.8M1222.8 427.4h.8M1250.5 438.8h.8M1233.9 411.8h.8M1233.6 429.2h.8M1213.8 434.1h.8M1212.4 428.2h.8M1254.7 434.8h.8M1243.9 416.7h.8M1224.9 436.1h.8M1229.1 413.8h.8M1220.6 409.5h.8M1255.2 419.5h.8M1228.6 409.2h.8M1236.6 412.3h.8M1212.9 432.2h.8M1228.7 425.3h.8M1216.8 409.6h.8M1220.3 419.6h.8M1251.6 430.4h.8M1227.3 425.1h.8M1241.1 431.4h.8M1244.1 416.4h.8M1223.7 416.5h.8M1222.7 433.9h.8M1226.8 408.7h.8M1242.9 418.2h.8M1241.5 436.8h.8M1252.2 425.4h.8M1202.5 436.6h.8M1204.3 424.1h.8M1203.6 409.4h.8M1249.7 429.2h.8M1236.1 413.2h.8M1215.4 417.0h.8M1246.7 414.7h.8M1234.3 434.8h.8M1206.9 420.3h.8M1215.5 426.2h.8M1220.0 438.4h.8M1220.1 435.1h.8M1224.2 423.3h.8M1243.5 430.8h.8M1238.5 414.7h.8M1227.0 409.6h.8M1214.0 422.2h.8M1251.4 435.3h.8M1216.5 430.5h.8M1256.8 429.4h.8M1250.1 421.8h.8M1246.6 427.0h.8M1232.0 422.1h.8M1234.5 423.7h.8M1232.8 408.6h.8M1241.8 413.2h.8M1207.8 436.3h.8M1248.0 433.2h.8M1225.4 412.1h.8M1222.6 411.3h.8M1226.5 415.4h.8M1225.7 436.3h.8M1254.4 412.2h.8M1235.0 435.1h.8M1256.5 424.7h.8M1243.7 410.9h.8M1218.4 430.9h.8M1250.8 411.5h.8M1249.7 434.6h.8M1206.6 427.5h.8M1218.2 433.9h.8M1223.0 436.3h.8M1241.5 415.6h.8M1229.2 425.4h.8M1224.8 434.3h.8M1209.0 435.9h.8M1253.6 417.2h.8M1239.6 427.6h.8M1252.5 412.7h.8M1249.5 431.5h.8M1243.5 422.9h.8M1231.9 407.7h.8M1208.7 429.2h.8M1251.9 432.2h.8M1209.2 417.5h.8" stroke="#8088c0" stroke-width=".8" opacity="0.55"/>
</g>
<path d="M923.3 305V439.6M979.8 305V439.6M1034.6 305V439.6M1090.6 305V439.6M1146.3 305V439.6M1201.6 305V439.6M1257.6 305V439.6M923.3 305.0H1257.6M923.3 338.0H1257.6M923.3 371.9H1257.6M923.3 405.2H1257.6M923.3 439.6H1257.6" stroke="#3a3a3a" stroke-width=".8" fill="none"/>
<path d="M935.1 376.3H959.5V393.1H935.1Z M935.1 393.1L924.8 405.2 M959.5 393.1L979.8 405.2" fill="none" stroke="#e8761e" stroke-width=".9"/>
<path d="M991.0 379.3H1014.6V396.3H991.0Z M991.0 396.3L979.8 405.2 M1014.6 396.3L1034.6 405.2" fill="none" stroke="#e8761e" stroke-width=".9"/>
<path d="M1058.2 383.1H1082.3V399.9H1058.2Z M1058.2 399.9L1034.6 405.2 M1082.3 399.9L1090.6 404.3" fill="none" stroke="#e8761e" stroke-width=".9"/>
<path d="M1102.1 376.3H1126.5V393.1H1102.1Z M1102.1 393.1L1090.6 405.2 M1126.5 393.1L1146.3 405.2" fill="none" stroke="#e8761e" stroke-width=".9"/>
<path d="M1166.3 376.9H1190.4V394.0H1166.3Z M1166.3 394.0L1146.3 405.2 M1190.4 394.0L1201.6 405.2" fill="none" stroke="#e8761e" stroke-width=".9"/>
<path d="M1212.8 376.3H1237.6V393.1H1212.8Z M1212.8 393.1L1201.6 405.2 M1237.6 393.1L1257.6 402.8" fill="none" stroke="#e8761e" stroke-width=".9"/>
<text transform="scale(1.2 0.82)" x="746.67 746.67 746.67 746.67" y="387.99 396.89 401.40 405.55" font-size="7.2" class="serif" text-anchor="middle" fill="#222" font-weight="bold">IL-6</text>
<text transform="scale(1.2 0.82)" x="746.67 746.67 746.67 746.67 746.67 746.67" y="418.60 423.84 429.45 436.28 442.86 449.08" font-size="7.2" class="serif" text-anchor="middle" fill="#222" font-weight="bold">P-JAK2</text>
<text transform="scale(1.2 0.82)" x="746.67 746.67 746.67 746.67 746.67 746.67 746.67" y="459.94 465.30 470.79 477.74 484.69 491.52 497.74" font-size="7.2" class="serif" text-anchor="middle" fill="#222" font-weight="bold">P-STAT3</text>
<text transform="scale(1.2 0.82)" x="746.67 746.67 746.67 746.67 746.67 746.67" y="510.30 515.06 519.45 525.06 531.03 536.89" font-size="7.2" class="serif" text-anchor="middle" fill="#222" font-weight="bold">P-STAT</text>
<text transform="scale(1.2 0.82)" x="762.83 762.83 762.83 762.83 762.83" y="381.89 388.96 396.40 403.96 410.30" font-size="7.2" class="serif" text-anchor="middle" fill="#333" font-weight="bold">200μm</text>
<text transform="scale(1.2 0.82)" x="762.83 762.83 762.83 762.83 762.83" y="420.55 427.50 434.69 442.86 449.08" font-size="7.2" class="serif" text-anchor="middle" fill="#333" font-weight="bold">200μm</text>
<text transform="scale(1.2 0.82)" x="762.83 762.83 762.83 762.83 762.83" y="463.96 470.79 477.74 486.64 492.99" font-size="7.2" class="serif" text-anchor="middle" fill="#333" font-weight="bold">200μm</text>
<text transform="scale(1.2 0.82)" x="762.83 762.83 762.83 762.83" y="508.72 515.79 524.08 530.42" font-size="7.2" class="serif" text-anchor="middle" fill="#333" font-weight="bold">50μm</text>
<path d="M904.7 311V334M904.7 342.4V365.5M904.7 378.5V401.6M904.7 414.1V437.5" stroke="#222" stroke-width="1.1"/>
</g>
<text x="910.2" y="456.5" font-size="15.6" fill="#111" class="sans" textLength="316.5" lengthAdjust="spacingAndGlyphs" >BRKL reduces inflammation and apoptosis in</text>
<text x="910.2" y="477.2" font-size="15.6" fill="#111" class="sans" textLength="309.8" lengthAdjust="spacingAndGlyphs" >vivo through the IL-6/JAK2/STAT3 pathway.</text>
<path d="M1074.50 484.00H1081.50V508.20H1085.50L1078.00 515.19L1070.50 508.20H1074.50Z" fill="#4472c4" stroke="#13265c" stroke-width="1.4" stroke-linejoin="miter"/>
<text x="0" y="0" font-size="15.5" fill="#111" class="sans" textLength="45" lengthAdjust="spacingAndGlyphs" transform="translate(891.6 558.6) rotate(90)">caco-2</text>
<g>
<rect x="908" y="522.4" width="131" height="109.8" fill="#e3e8ee"/>
<polygon points="938.0,585.1 964.5,598.4 1035.8,596.9 1032.3,623.4 962.2,623.4 937.4,604.8" fill="#dbe7ef" stroke="#c2ced8" stroke-width=".6"/>
<polygon points="937.4,583.6 962.2,597.2 962.2,623.4 937.4,604.8" fill="#cfdde8"/>
<rect x="966.9" y="605.7" width="63.9" height="13.3" rx="3" fill="#a6a6aa"/>
<polygon points="960.1,529.4 1027.3,529.4 1031.7,537.1 1035.8,597.2 963.9,599.0 938.0,584.8 938.0,547.7" fill="#f7f7f7" stroke="#cfcfcf" stroke-width=".7"/>
<rect x="966.0" y="535.3" width="57.4" height="58.3" rx="5" fill="#e6e6e6" stroke="#d6d6d6" stroke-width=".5"/>
<path d="M962.2 533.6L964.5 597.2" stroke="#d0d0d0" stroke-width="1.4" stroke-dasharray="2 1.4"/>
<rect x="967.5" y="545.3" width="39.8" height="38.3" fill="#dde6f2"/>
<circle cx="988.7" cy="565.1" r="17" fill="#f2b4a2" stroke="#b33a3a" stroke-width="1.2"/>
<ellipse cx="983.1" cy="568.9" rx="5.4" ry="3.6" transform="rotate(40 983.1 568.9)" fill="#b8303a"/>
<ellipse cx="992.8" cy="562.4" rx="6.2" ry="5.4" fill="#b8303a"/><ellipse cx="993.4" cy="562.4" rx="3.4" ry="3" fill="#cf4a50"/>
<circle cx="1004.7" cy="570.9" r="1.5" fill="#b33a3a"/>
<circle cx="982.9" cy="581.1" r="1.5" fill="#b33a3a"/>
<circle cx="972.7" cy="559.3" r="1.5" fill="#b33a3a"/>
<circle cx="994.5" cy="549.1" r="1.5" fill="#b33a3a"/>
<polygon points="918.0,554.2 935.1,557.1 938.6,562.4 938.6,587.2 933.6,593.9 916.8,591.0" fill="#f0743a"/>
<ellipse cx="917.4" cy="572.7" rx="6.6" ry="18.6" fill="#e8682e"/><ellipse cx="918.0" cy="572.7" rx="4" ry="14" fill="#ee7a44"/>
</g>
<g>
<rect x="1048.6" y="577.2" width="207" height="55.9" fill="#060a06"/>
<rect x="1050" y="521.2" width="204.7" height="27.2" fill="#100505"/>
<defs><linearGradient id="gfb" x1="0" y1="0" x2="1" y2="0"><stop offset="0" stop-color="#05143a"/><stop offset=".5" stop-color="#071c4e"/><stop offset="1" stop-color="#0a2a6a"/></linearGradient></defs>
<rect x="1050" y="548.3" width="204.7" height="28.9" fill="url(#gfb)"/>
<path d="M1175.3 542.7h0.9M1130.5 541.7h1.3M1178.5 529.5h0.7M1121.9 542.9h0.9M1122.6 535.0h0.9M1196.1 539.6h1.3M1152.9 547.5h0.7M1096.7 542.3h0.7M1099.4 540.1h1.3M1222.9 539.6h0.9M1178.5 544.6h1.3M1077.5 532.7h1.3M1244.7 534.4h1.3M1097.1 542.8h1.3M1241.6 522.9h0.9M1184.1 544.9h1.3M1143.8 546.5h0.9M1185.6 522.6h0.9M1119.7 536.4h0.7M1176.2 531.5h0.9M1076.0 529.4h1.3M1189.8 536.4h1.3M1238.8 528.8h0.9M1241.1 530.5h0.9M1084.7 536.9h0.9M1139.9 523.8h0.9M1060.5 541.1h0.9M1194.8 540.7h0.9M1123.9 541.2h1.3M1240.1 523.0h1.3M1175.9 526.0h0.9M1211.4 546.5h1.3M1225.2 527.1h0.9M1248.0 539.4h0.7M1071.6 546.8h0.9M1223.4 545.5h0.9M1071.4 545.6h0.7M1204.7 530.3h0.9M1198.9 532.6h0.7M1178.9 536.1h0.7M1116.6 546.4h1.3M1102.4 529.9h1.3M1236.6 537.2h0.9M1116.1 532.7h1.3M1161.2 546.7h0.7M1117.5 530.5h0.7M1249.4 537.5h1.3M1185.2 535.5h0.7M1237.5 530.7h1.3M1103.8 546.6h0.7M1191.3 531.7h0.7M1133.4 531.4h1.3M1084.5 525.1h0.7M1109.2 536.9h1.3M1180.9 527.0h0.9M1161.3 535.1h1.3M1180.2 533.8h0.9M1125.0 547.2h0.9M1140.3 530.7h0.7M1125.8 535.4h1.3M1058.9 525.3h1.3M1239.5 537.8h0.7M1219.0 543.0h0.7M1163.1 543.0h0.7M1233.3 523.2h0.9M1221.6 533.2h0.7M1212.5 524.0h1.3M1124.8 531.4h1.3M1185.8 547.5h0.9M1153.7 522.7h0.9M1080.9 541.2h0.7M1193.6 544.1h0.9M1137.1 530.9h1.3M1228.5 545.6h0.9M1160.7 528.9h0.7M1202.9 530.3h0.7M1168.2 525.7h1.3M1251.6 542.2h0.7M1220.1 524.6h0.9M1176.4 532.2h1.3M1189.8 545.0h1.3M1181.9 526.6h1.3M1244.1 534.8h0.9M1247.3 532.7h1.3M1119.1 545.1h0.7M1219.0 533.2h0.9M1178.6 533.6h1.3M1222.5 529.7h0.7M1170.5 535.1h0.9M1054.9 525.6h0.9M1079.8 524.7h1.3M1148.4 526.8h0.9M1078.6 531.0h0.9M1137.1 546.6h1.3M1125.6 532.1h0.9M1241.9 535.3h0.7M1159.5 546.2h1.3M1193.5 545.0h0.9M1119.3 527.8h0.9M1228.9 533.4h0.9M1245.5 530.2h1.3M1111.8 530.4h0.7M1233.6 537.1h0.9M1201.9 534.8h0.9M1190.8 539.7h0.9M1237.4 546.0h0.9M1114.0 527.7h0.9M1212.3 540.2h0.7M1117.7 538.3h0.9M1078.2 539.0h0.9M1209.7 542.1h1.3M1168.4 533.5h1.3M1082.9 528.4h0.9M1217.4 528.2h0.9M1148.4 530.9h1.3M1221.7 530.7h0.9M1243.2 543.9h0.9M1057.2 525.0h1.3M1167.9 546.5h0.7M1170.7 529.1h0.7M1110.7 528.9h0.7M1231.7 529.8h0.7M1082.8 529.9h1.3M1197.1 535.8h1.3M1148.4 529.1h1.3M1066.1 538.7h1.3M1177.9 535.9h0.7M1206.8 529.4h1.3M1143.1 534.5h0.7M1217.3 525.2h0.9" stroke="#c02a1c" stroke-width=".9" opacity=".75"/>
<path d="M1142.5 561.6h1.6M1141.5 555.4h0.7M1137.7 570.8h1.6M1086.2 564.6h0.7M1065.8 560.1h0.7M1199.2 561.9h0.9M1176.0 561.4h1.2M1058.3 565.5h0.7M1092.4 555.4h1.2M1128.4 558.4h0.7M1155.3 559.9h1.6M1083.3 558.3h1.2M1209.6 574.5h0.7M1232.6 552.0h1.6M1127.2 574.6h0.9M1214.1 551.4h1.2M1199.9 572.5h0.9M1233.2 569.7h0.7M1084.4 570.2h0.7M1165.2 560.6h1.2M1181.4 564.7h1.6M1186.0 570.3h0.9M1231.8 571.9h1.2M1161.7 570.8h0.9M1189.2 572.0h1.6M1108.1 561.3h1.6M1188.7 554.9h0.7M1117.1 556.5h1.2M1232.2 559.3h1.6M1145.3 550.7h0.7M1060.2 564.1h1.2M1203.4 558.2h0.9M1251.2 559.2h1.2M1185.4 571.8h1.6M1241.4 552.5h0.7M1237.2 561.8h0.9M1206.6 574.3h0.7M1235.7 554.2h1.6M1195.8 560.3h1.2M1104.4 553.3h0.7M1186.7 575.2h1.2M1094.7 555.5h1.6M1203.3 556.6h1.6M1161.4 554.1h0.9M1166.8 557.9h1.2M1170.4 565.2h1.2M1157.9 563.2h0.7M1158.3 573.7h0.9M1246.5 555.2h0.7M1063.1 552.6h0.7M1103.6 570.2h0.9M1108.5 554.2h0.7M1165.0 572.5h1.6M1150.1 558.5h1.6M1182.2 572.3h0.7M1061.2 551.2h0.9M1124.5 565.2h1.6M1195.2 553.7h1.2M1103.3 558.5h0.9M1239.8 572.6h1.2M1165.1 564.7h1.2M1194.4 566.4h1.6M1109.8 564.8h1.6M1239.2 574.8h1.6M1175.4 566.6h1.2M1090.7 575.6h0.7M1052.9 575.5h0.7M1078.4 565.3h0.9M1240.8 551.9h1.2M1096.3 572.3h1.6M1131.5 553.1h1.6M1225.4 562.3h0.9M1187.0 571.1h1.6M1062.2 555.9h0.9M1215.3 566.8h1.6M1182.2 562.3h1.2M1173.1 558.8h0.9M1195.7 575.5h1.2M1122.9 575.6h1.6M1120.2 561.7h0.7M1171.3 553.9h1.2M1054.7 567.0h0.7M1164.1 552.8h1.2M1238.6 563.3h1.2M1202.4 550.4h0.7M1166.5 569.8h0.7M1146.8 575.0h1.2M1231.2 566.1h0.9M1212.6 574.1h1.2M1122.2 563.2h0.7M1053.0 575.2h1.2M1056.0 565.2h0.9M1177.0 553.1h1.6M1064.5 572.2h0.7M1188.2 565.6h0.7M1106.1 563.4h1.2M1178.6 555.2h0.7M1142.1 552.1h1.2M1252.1 574.8h1.6M1174.8 555.4h0.9M1127.8 564.9h0.9M1159.0 566.1h1.2M1085.5 554.0h0.7M1106.9 571.0h1.2M1171.1 557.2h0.7M1073.6 561.1h1.6M1182.4 568.4h0.9M1082.7 569.9h1.6M1146.6 563.8h1.6M1158.9 566.0h0.7M1086.5 556.8h0.9M1102.0 573.3h0.9M1145.4 569.6h0.7M1225.9 572.2h0.9M1106.8 575.4h1.2M1173.4 574.6h0.9M1240.6 557.8h0.7M1079.0 562.6h1.2M1190.8 560.5h1.6M1243.6 558.5h0.9M1237.0 568.5h0.9M1115.5 556.9h1.6M1251.0 575.7h0.9M1104.8 560.3h1.2M1111.3 570.4h0.9M1136.2 570.6h1.2M1160.5 560.3h1.6M1122.5 573.6h0.9M1065.2 556.7h1.6M1136.9 553.9h1.6M1244.7 556.2h0.9M1245.1 555.3h0.7M1088.1 563.4h1.2M1206.1 567.9h0.7M1116.3 575.4h0.9M1137.3 550.1h0.9M1137.0 575.3h0.7M1240.8 569.3h1.2M1076.7 572.1h1.2M1114.8 558.2h1.6M1154.1 551.0h1.6M1197.2 574.3h0.7M1136.4 571.0h0.9M1181.7 565.8h1.2M1139.1 575.2h0.7M1154.8 563.3h0.9M1060.3 574.1h1.2M1111.9 566.0h0.9M1191.2 570.0h1.6M1161.9 565.9h0.7M1133.7 555.6h0.7M1190.1 574.0h0.9M1181.3 558.8h0.9M1133.6 564.1h0.7M1248.5 575.1h0.9M1100.5 553.4h1.6M1212.7 563.4h1.2M1221.8 571.8h0.9M1123.5 564.9h0.9M1176.3 555.2h1.6M1091.3 561.0h1.6M1149.1 567.8h0.7M1192.0 554.1h1.2M1126.2 567.8h0.9M1202.6 574.2h0.7M1230.6 553.8h0.9M1229.9 570.2h0.9M1142.6 570.5h1.2M1145.5 569.6h1.2M1062.8 566.7h1.6M1128.1 554.4h0.9M1168.7 571.3h1.2M1235.7 574.9h1.6M1152.4 554.4h0.9M1221.2 573.1h0.7M1163.3 550.9h1.2M1177.4 559.6h1.2M1071.4 574.0h1.6M1230.9 569.1h1.6M1243.7 558.0h1.2M1138.6 562.8h0.7M1222.1 557.8h1.6M1144.9 571.4h0.7M1096.7 569.6h0.9M1112.3 563.2h0.9M1094.1 573.9h0.7M1244.2 551.8h0.9M1196.7 558.7h1.2M1152.3 567.9h0.9M1191.7 555.1h0.7M1251.2 560.1h1.6M1159.8 576.3h1.2M1236.1 560.3h1.6M1093.8 559.7h1.6M1131.8 550.9h1.2M1117.0 566.9h0.7M1079.4 561.2h1.6M1121.9 574.9h1.2M1147.5 555.7h0.9M1174.5 555.4h1.6M1095.1 574.8h0.9M1097.4 561.9h0.9M1070.9 568.0h0.9M1229.4 566.9h1.2M1233.8 572.9h0.9M1237.6 574.2h0.7M1099.8 560.0h1.2M1246.8 553.5h1.2M1166.4 561.3h0.9M1057.2 571.6h1.6M1233.1 557.7h0.7M1150.9 552.9h0.9M1193.7 574.0h0.9M1078.3 571.1h1.2M1180.9 562.1h0.9M1169.1 561.3h0.7M1191.2 552.2h0.7M1057.4 568.3h1.6M1075.6 561.7h1.2M1183.3 563.0h0.7M1196.3 553.8h0.7M1080.0 559.5h1.6M1079.8 575.9h1.2M1161.0 575.8h1.2M1119.4 575.0h1.2M1129.2 575.5h1.2M1131.2 552.3h0.7M1222.0 557.2h0.7M1091.4 561.5h0.7M1150.5 549.7h0.9M1170.6 555.7h1.2M1196.3 575.1h1.2M1183.8 563.4h0.9M1162.4 571.6h1.2M1148.1 557.2h0.7M1150.4 574.3h1.2M1247.9 556.8h0.9M1147.3 573.6h0.7M1153.0 572.9h1.2M1173.5 554.9h1.6M1183.8 557.8h0.7M1252.2 575.8h0.9M1211.3 574.7h1.6M1221.0 575.9h0.7M1148.0 549.6h1.6M1183.3 571.5h0.7M1110.6 572.9h1.2M1058.7 562.8h0.7M1162.6 561.0h1.6M1207.9 551.2h0.9M1196.9 549.6h0.9M1199.3 563.7h1.2M1206.1 573.8h1.6M1125.9 551.0h1.6M1057.4 555.7h0.7M1075.9 571.8h0.7M1071.8 575.3h1.6M1057.3 572.8h1.2M1245.3 571.0h1.2M1126.1 550.6h0.9M1222.9 551.4h0.9M1077.1 572.5h0.9M1104.5 559.8h1.2M1214.3 550.4h0.7M1150.8 566.0h0.7M1176.8 559.5h1.2M1110.9 553.9h1.6M1246.2 573.5h0.7M1164.8 563.7h0.9M1147.4 562.5h0.9M1092.1 559.2h0.7M1193.0 556.7h0.7M1198.1 550.5h1.6M1224.9 553.8h1.2M1200.6 560.4h0.9M1211.3 570.5h0.7M1217.9 566.8h0.9M1181.2 552.4h0.9M1160.0 573.0h0.9M1230.6 565.7h0.9M1189.3 558.7h0.9M1160.2 557.9h1.2M1161.4 575.7h1.6M1198.1 554.6h0.9M1213.5 559.1h0.7M1114.7 560.0h1.6M1207.9 550.0h0.9M1083.9 564.5h1.6M1182.6 570.7h0.9M1222.4 556.1h0.9M1160.4 561.2h1.6M1213.6 561.3h1.2M1058.6 560.2h0.9M1118.5 563.7h0.9M1166.0 556.8h1.6M1129.6 575.6h0.9M1238.7 576.4h0.9M1094.2 561.3h0.9M1213.8 573.6h0.9M1168.2 568.3h1.6M1058.1 573.4h1.2M1209.2 557.7h1.6M1204.0 566.5h0.9M1055.4 576.4h1.2M1158.5 554.2h1.6M1208.1 572.3h0.7M1067.1 565.3h0.7M1236.2 556.8h0.7M1102.6 561.4h0.7M1145.7 563.5h1.2M1159.6 568.4h1.2M1207.1 556.6h0.7M1140.7 572.1h0.9M1142.3 574.8h1.6M1223.3 575.4h0.9M1227.0 554.2h0.7M1216.9 569.5h1.2M1236.3 554.7h1.2M1073.1 555.4h1.2M1064.2 572.1h1.2M1110.6 558.3h1.6M1144.1 566.2h1.2M1165.7 552.4h0.7M1193.0 560.6h0.7M1076.1 565.0h0.9M1154.6 557.0h0.9M1137.3 550.1h0.9M1230.6 549.7h0.9M1249.2 562.7h0.7M1050.3 558.8h1.6M1175.2 560.8h0.7M1073.9 564.3h0.9M1202.1 568.7h0.7M1193.3 562.3h0.9M1213.6 566.0h0.7M1174.4 568.2h0.7M1195.5 572.9h1.6M1118.0 574.5h1.6M1094.6 572.4h0.7M1176.8 560.2h0.9M1177.1 568.4h0.9M1164.3 567.7h1.2M1229.3 561.0h0.7M1116.0 572.3h0.7M1181.5 554.1h1.2M1065.6 551.7h0.7M1097.9 574.6h0.7M1089.3 566.4h0.9M1251.6 557.2h0.7M1140.9 576.0h1.2M1192.6 562.7h1.6M1056.8 551.0h0.9M1198.3 551.8h1.6M1239.4 574.5h0.9M1173.6 550.6h1.6M1183.4 552.5h0.9M1205.4 553.8h0.9M1097.9 560.0h0.9M1232.8 574.6h1.6M1108.3 571.9h1.6M1055.9 562.1h1.2M1089.4 568.1h1.2M1158.0 575.1h0.9M1051.1 569.0h0.9M1088.3 564.2h0.7M1114.5 570.6h0.9M1253.3 551.2h0.7M1130.9 552.9h0.7M1216.9 556.1h1.6M1089.3 570.1h0.9M1209.8 564.0h0.7M1126.2 555.7h1.6M1161.9 569.1h1.2M1201.3 555.6h0.9M1203.3 551.4h1.6M1057.0 568.6h1.6M1222.5 549.6h0.9M1165.0 575.2h1.6M1230.2 565.4h0.7M1193.3 572.1h1.6M1154.6 560.4h0.9M1073.0 558.5h1.6M1094.6 566.0h0.7M1187.6 569.2h0.9M1138.4 562.2h1.6M1174.6 565.3h0.7M1101.1 550.8h1.2M1146.6 560.5h1.2M1101.4 550.3h1.6M1098.5 556.4h0.9M1173.2 567.3h1.6M1244.6 561.0h0.9M1236.9 554.3h0.9M1063.5 556.7h1.2M1210.5 575.0h0.7M1241.7 575.0h1.2M1211.6 552.4h1.6M1124.7 559.4h0.7M1186.4 568.5h1.2M1196.7 557.6h1.2M1206.3 572.0h0.9M1102.8 568.9h0.9M1142.6 561.0h1.2M1058.8 572.0h0.7M1231.9 570.5h0.9M1186.1 565.0h0.7M1236.7 550.7h0.7M1104.4 552.2h0.7M1061.5 564.6h0.9M1180.3 566.3h1.6M1193.9 567.6h0.9M1067.0 572.2h0.7M1163.8 555.9h1.6M1234.5 552.1h0.7M1207.1 551.1h1.6M1172.6 570.4h0.9M1145.8 571.2h0.9M1193.7 568.4h0.9M1228.1 550.2h1.6M1166.1 558.0h0.7M1195.5 574.0h1.2M1100.9 562.8h0.7M1140.0 559.9h1.2M1070.7 558.4h0.7M1084.1 571.9h0.9M1110.9 559.5h0.7M1065.8 572.6h0.9M1212.1 551.7h0.9M1113.4 573.1h1.2M1071.9 562.0h0.9M1129.4 559.5h0.7M1233.0 572.3h0.9M1149.0 559.1h0.9M1111.8 569.4h0.7M1170.8 556.7h0.7M1208.8 553.3h1.6M1128.7 559.0h1.6M1186.6 552.3h0.7M1102.3 567.8h0.7M1233.1 557.0h0.7M1197.5 563.6h0.9M1052.6 560.1h1.6M1206.5 562.1h0.9M1200.2 557.6h0.9M1229.0 570.2h1.2M1161.8 573.0h0.9M1176.8 573.4h0.9M1082.2 558.5h0.7M1120.6 568.8h1.6M1102.3 552.7h0.7M1124.8 562.7h1.6M1206.5 572.9h1.2M1244.0 564.4h0.9M1118.5 551.1h0.9M1206.4 569.7h1.2M1202.9 573.8h0.7M1167.1 561.2h1.6M1115.1 553.3h1.2M1223.2 569.5h1.6M1166.6 552.2h1.2M1221.2 557.4h1.6M1177.4 562.0h1.2M1164.2 574.1h0.9M1235.6 572.7h1.2M1107.1 569.3h0.9M1241.5 567.9h0.7M1148.1 573.9h1.2M1204.6 556.6h1.6M1209.5 549.6h1.6M1212.7 558.9h1.6M1222.4 556.7h0.7M1103.6 570.8h1.2M1186.7 551.9h0.7M1140.9 566.8h1.6M1184.1 575.2h1.2M1154.0 556.3h1.2M1106.1 550.5h1.2M1223.2 570.8h0.9M1161.6 573.6h0.9M1226.2 573.0h1.2M1189.5 562.9h0.9M1162.5 557.6h0.9M1242.5 556.7h1.6M1152.0 562.2h1.2M1248.4 572.4h0.9M1183.9 565.5h1.6M1082.6 576.3h1.2M1179.3 566.5h0.9M1199.6 570.6h1.2M1245.1 575.1h0.7M1182.9 569.8h0.9M1121.9 564.6h1.2M1168.3 561.4h1.6M1198.4 567.0h1.2M1124.9 558.1h0.7M1130.6 562.6h0.7M1201.8 557.7h0.9M1221.3 561.5h1.2M1174.0 576.5h1.2M1150.9 569.4h0.7M1121.3 565.3h1.2M1222.7 565.2h0.9M1242.0 574.5h0.7M1222.1 555.3h1.6M1201.0 564.1h0.7M1145.7 555.6h1.2M1208.0 567.4h0.9M1251.2 571.8h0.7M1233.3 575.2h0.7M1134.2 554.7h0.9M1245.3 562.9h0.7M1208.4 560.5h0.9M1188.2 570.0h0.9M1221.2 556.9h0.7M1084.4 549.7h1.6M1111.7 569.1h1.6M1170.0 576.5h1.6M1233.5 549.9h0.9M1191.6 573.3h1.2M1135.1 557.7h1.2" stroke="#1f6ae0" stroke-width="1" opacity=".8"/>
<path d="M1177.3 573.8h2.2M1235.2 571.6h1.6M1101.7 572.1h2.2M1136.9 558.2h1.6M1153.9 572.8h1.6M1233.5 573.0h2.2M1199.4 561.4h1.2M1133.1 557.4h1.6M1151.9 553.9h1.2M1228.5 551.3h1.6M1208.2 551.6h2.2M1249.2 574.3h1.2M1052.5 561.7h1.2M1220.9 563.3h2.2M1194.9 569.5h1.6M1217.2 571.2h1.6M1220.8 567.6h1.6M1138.7 552.1h2.2M1090.3 555.3h2.2M1185.0 570.0h1.6M1253.1 552.3h1.6M1178.8 574.6h1.6M1250.3 561.2h1.6M1117.5 563.5h1.6M1144.4 557.2h2.2M1111.4 570.6h2.2M1176.1 551.6h1.6M1172.0 562.8h1.2M1250.4 558.1h2.2M1175.2 574.5h1.6M1167.6 560.8h1.2M1210.3 564.0h1.2M1196.4 561.1h1.6M1143.0 571.5h2.2M1130.1 551.9h2.2M1082.9 566.5h1.6M1130.4 563.5h1.6M1190.3 558.0h1.6M1252.8 557.0h1.2M1229.2 565.9h1.6M1089.2 553.0h1.2M1215.5 561.1h1.2M1245.6 552.9h1.6M1251.6 568.3h2.2M1231.3 561.6h2.2M1248.5 562.5h2.2M1140.3 566.0h1.6M1186.0 562.2h2.2M1239.6 556.8h1.6M1204.0 564.6h1.2M1237.8 572.3h1.2M1216.1 575.2h1.6M1232.7 562.7h1.2M1225.6 561.5h1.2M1148.1 551.9h1.2M1177.2 569.5h2.2M1129.8 570.8h1.2M1167.9 568.0h1.2M1218.7 562.0h2.2M1190.0 564.1h2.2M1120.1 568.1h2.2M1198.8 559.5h2.2M1187.5 573.1h1.6M1107.4 551.3h1.2M1201.5 572.2h2.2M1227.8 563.5h2.2M1125.0 556.8h1.6M1232.1 569.7h2.2M1125.2 571.2h1.2M1202.4 575.4h1.2M1202.8 572.0h2.2M1222.3 558.1h1.6M1175.3 574.6h1.2M1133.9 568.3h1.2M1222.1 567.9h1.6M1148.6 552.3h1.2M1206.2 573.3h1.2M1156.6 567.7h1.2M1083.7 569.2h1.6M1123.6 573.4h1.2M1166.9 556.8h1.6M1177.6 559.5h1.6M1224.2 558.4h2.2M1234.3 559.5h1.2M1200.9 554.4h2.2M1173.2 557.0h1.2M1182.5 573.0h1.2M1235.3 565.4h1.2M1250.5 563.0h1.6M1139.9 556.1h1.6" stroke="#6cc6ff" stroke-width="1.3" opacity=".9"/>
<path d="M1089.1 596.6h.8M1105.0 593.7h.8M1160.6 630.7h.8M1135.3 619.6h.8M1202.7 583.9h.8M1120.0 623.5h.8M1207.5 581.8h.8M1104.5 616.8h.8M1098.7 585.0h.8M1091.9 611.1h.8M1191.6 593.7h.8M1118.1 626.7h.8M1109.5 580.2h.8M1225.4 619.0h.8M1084.0 606.6h.8M1156.6 603.1h.8M1224.0 581.1h.8M1074.8 620.4h.8M1172.6 608.2h.8M1175.9 610.8h.8M1163.3 591.3h.8M1129.7 583.6h.8M1105.6 580.2h.8M1204.0 630.4h.8M1197.4 601.4h.8M1122.7 617.7h.8M1232.8 621.9h.8M1161.9 590.4h.8M1195.3 630.6h.8M1144.3 626.3h.8M1083.5 583.7h.8M1194.7 611.3h.8M1164.2 602.4h.8M1155.8 618.2h.8M1204.9 591.4h.8M1068.9 595.2h.8M1225.1 598.3h.8M1145.6 598.6h.8M1214.4 581.0h.8M1222.8 621.3h.8M1084.1 607.2h.8M1189.3 594.5h.8M1109.9 608.4h.8M1113.6 625.1h.8M1066.8 583.5h.8M1205.7 580.6h.8M1250.3 619.4h.8M1215.9 596.5h.8M1086.4 620.3h.8M1207.9 615.7h.8M1226.6 596.0h.8M1069.6 601.5h.8M1167.4 602.6h.8M1217.6 585.7h.8M1152.8 613.2h.8M1097.7 615.1h.8M1197.3 613.3h.8M1066.9 619.8h.8M1248.8 604.5h.8M1063.3 581.4h.8" stroke="#4a6a2a" stroke-width=".8" opacity=".6"/>
<ellipse cx="1075.0" cy="606" rx="22" ry="20" fill="#0c140c" opacity=".6"/>
<ellipse cx="1126.2" cy="606" rx="22" ry="20" fill="#0c140c" opacity=".6"/>
<ellipse cx="1177.4" cy="606" rx="22" ry="20" fill="#0c140c" opacity=".6"/>
<ellipse cx="1228.6" cy="606" rx="22" ry="20" fill="#0c140c" opacity=".6"/>
<path d="M1079.6 545.4h10" stroke="#fff" stroke-width=".5"/>
<text x="1084.6" y="544.8" font-size="2.6" fill="#fff" class="sans" text-anchor="middle" font-weight="bold" >50 μm</text>
<path d="M1079.6 574.8000000000001h10" stroke="#fff" stroke-width=".5"/>
<text x="1084.6" y="574.2" font-size="2.6" fill="#fff" class="sans" text-anchor="middle" font-weight="bold" >50 μm</text>
<path d="M1079.6 601.3000000000001h10" stroke="#fff" stroke-width=".5"/>
<text x="1084.6" y="600.7" font-size="2.6" fill="#fff" class="sans" text-anchor="middle" font-weight="bold" >50 μm</text>
<path d="M1079.6 630.5h10" stroke="#fff" stroke-width=".5"/>
<text x="1084.6" y="629.9" font-size="2.6" fill="#fff" class="sans" text-anchor="middle" font-weight="bold" >50 μm</text>
</g>
<text x="917.3" y="657.3" font-size="15.6" fill="#111" class="sans" textLength="317.7" lengthAdjust="spacingAndGlyphs" >BRKL reduces inflammation and apoptosis in</text>
<text x="917.3" y="677.9" font-size="15.6" fill="#111" class="sans" textLength="314.4" lengthAdjust="spacingAndGlyphs" >vitro through the IL-6/JAK2/STAT3 pathway.</text>
<path d="M1074.50 685.60H1081.50V709.70H1085.30L1078.00 716.29L1070.70 709.70H1074.50Z" fill="#4472c4" stroke="#13265c" stroke-width="1.4" stroke-linejoin="miter"/>
<g>
<defs><linearGradient id="gcyto" x1="0" y1="0" x2="0" y2="1"><stop offset="0" stop-color="#d9dcf1"/><stop offset=".45" stop-color="#e9eaf7"/><stop offset="1" stop-color="#fbfbfe"/></linearGradient></defs>
<rect x="909.3" y="699.3" width="129.6" height="119.1" fill="#fbfbff" stroke="#cdd5ee" stroke-width=".7"/>
<rect x="909.7" y="716.8" width="128.8" height="101.2" fill="url(#gcyto)"/>
<path d="M909.7 713.3H1038.5M909.7 716.3H1038.5" stroke="#a9b2ee" stroke-width="1.1"/><path d="M909.7 714.8H1038.5" stroke="#dfe3fa" stroke-width="1.6"/>
<rect x="911.6" y="763.8" width="116" height="50.6" rx="11" fill="#fbe9b4" stroke="#f8b62e" stroke-width="1.1"/>
<rect x="916.6" y="768.4" width="106" height="41.4" rx="8" fill="#fdf7ea" stroke="#f8b62e" stroke-width="1"/>
<rect x="914.1" y="766.1" width="111" height="46" rx="9.5" fill="none" stroke="#f6cf78" stroke-width="2.6" stroke-dasharray=".8 .9" opacity=".8"/>
<path d="M1011.8 733.7C1009.8 758.7 992.3 769.9 970.3 787.9" fill="none" stroke="#f4c8d6" stroke-width="3.2" opacity=".6"/>
<path d="M1009.5 710.3V727.7M1014.8 710.3V727.7" stroke="#2fa044" stroke-width="2.6"/>
<path d="M1009.0 715.9L1000.8 708.8M1015.2 715.9L1023.5 708.8" stroke="#2fa044" stroke-width="2.8" stroke-linecap="round"/>
<path d="M1007.2 712.6L1003.8 705.8M1017.0 712.6L1020.5 705.8" stroke="#2fa044" stroke-width="2.2" stroke-linecap="round"/>
<rect x="1010.1" y="715.6" width="4.1" height="11.3" fill="#d89a8a" opacity=".8"/>
<ellipse cx="1012.5" cy="705.1" rx="7" ry="5.2" fill="#c3da72"/>
<text x="1012.5" y="706.3" font-size="3.2" fill="#4a5a2a" class="sans" text-anchor="middle" >IL-6</text>
<polygon points="947.7,714.1 943.5,715.2 946.5,717.9 942.2,717.1 943.2,720.7 940.0,718.2 938.7,721.8 937.4,718.2 934.2,720.7 935.2,717.1 930.9,717.9 933.9,715.2 929.7,714.1 933.9,713.0 930.9,710.3 935.2,711.1 934.2,707.5 937.4,710.0 938.7,706.5 940.0,710.0 943.2,707.5 942.2,711.1 946.5,710.3 943.5,713.0" fill="#f23a86"/><circle cx="938.7" cy="714.1" r="5.2" fill="#f2ee28"/>
<text x="938.7" y="715.1" font-size="2.8" fill="#7a6a10" class="sans" text-anchor="middle" >Stress</text>
<path d="M1003.5 732.9Q985.4 742.0 962.0 745.4" fill="none" stroke="#c2604e" stroke-width=".7"/><circle cx="962.0" cy="745.4" r="1" fill="#c2604e"/>
<path d="M941.7 720.1Q948.5 729.2 951.5 739.0" fill="none" stroke="#c2604e" stroke-width=".6"/><circle cx="951.5" cy="739.0" r=".8" fill="#c2604e"/>
<path d="M955.3 750.3V769.1M955.3 778.9V788.7" stroke="#d84a3a" stroke-width=".7" stroke-dasharray=".9 .7"/>
<rect x="954.4" y="787.9" width="1.6" height="1.2" fill="#d84a3a"/>
<path d="M990.7 723.9L1003.5 729.9M1004.2 728.0L1002.9 731.9" stroke="#222" stroke-width=".6"/>
<path d="M1015.5 730.4L1023.1 726.5M961.3 772.6L968.1 769.2" stroke="#777" stroke-width=".4"/>
<ellipse cx="1011.8" cy="731.9" rx="7.8" ry="3.3" fill="#e89a8a"/>
<text x="1011.8" y="732.9" font-size="3" fill="#5a2a20" class="sans" text-anchor="middle" >JAK2</text>
<ellipse cx="983.1" cy="729.2" rx="6.8" ry="2.8" fill="#e8a4b6"/>
<text x="983.1" y="730.2" font-size="2.8" fill="#5a3a4a" class="sans" text-anchor="middle" >BRKL</text>
<ellipse cx="954.5" cy="746.0" rx="7.5" ry="3.3" fill="#e08472"/>
<text x="954.5" y="747.0" font-size="3" fill="#5a2a20" class="sans" text-anchor="middle" >STAT3</text>
<ellipse cx="956.0" cy="773.6" rx="9" ry="3.6" fill="#dd7c6c"/>
<text x="956.0" y="774.6" font-size="3" fill="#5a2a20" class="sans" text-anchor="middle" >STAT3</text>
<circle cx="1023.8" cy="725.9" r="1.9" fill="#f8a624" stroke="#e8901a" stroke-width=".3"/>
<circle cx="968.8" cy="768.6" r="1.9" fill="#f8a624" stroke="#e8901a" stroke-width=".3"/>
<path d="M979.1 723.9l2-2.4l2.4 1.6l2-2.6l2.2 2.4l-1.4 2.6l-2.6-.4l-2.2 1.8zM980.1 719.5l2 1.8M986.7 718.9l-1.4 2" fill="none" stroke="#999" stroke-width=".45"/>
<text x="936.4" y="772.6" font-size="3.4" fill="#555" class="sans" text-anchor="middle" >Nucleus</text>
<polyline points="971.1,789.4 972.6,790.2 974.1,790.2 975.6,789.3 977.1,788.6 978.6,788.8 980.1,789.7 981.6,790.3 983.1,790.0 984.6,789.0 986.1,788.5 987.7,789.0 989.2,790.0 990.7,790.3 992.2,789.7 993.7,788.8 995.2,788.6 996.7,789.3 998.2,790.2 999.7,790.2 1001.2,789.4 1002.7,788.6 1004.2,788.7 1005.7,789.6 1007.2,790.3 1008.7,790.1 1010.3,789.1 1011.8,788.5 1013.3,788.9 1014.8,789.9 1016.3,790.3 1017.8,789.8 1019.3,788.9 1020.8,788.5 1022.3,789.2" fill="none" stroke="#7f8fd6" stroke-width=".7"/><polyline points="971.1,789.4 972.6,788.6 974.1,788.7 975.6,789.6 977.1,790.3 978.6,790.1 980.1,789.2 981.6,788.5 983.1,788.9 984.6,789.8 986.1,790.3 987.7,789.8 989.2,788.9 990.7,788.5 992.2,789.2 993.7,790.1 995.2,790.3 996.7,789.6 998.2,788.7 999.7,788.6 1001.2,789.4 1002.7,790.2 1004.2,790.2 1005.7,789.3 1007.2,788.6 1008.7,788.8 1010.3,789.7 1011.8,790.3 1013.3,790.0 1014.8,789.0 1016.3,788.5 1017.8,789.0 1019.3,790.0 1020.8,790.3 1022.3,789.7" fill="none" stroke="#e28a8a" stroke-width=".7"/>
<ellipse cx="945.8" cy="792.4" rx="7.5" ry="3" fill="#42aa54"/>
<text x="945.8" y="793.4" font-size="2.8" fill="#143a1a" class="sans" text-anchor="middle" >CyclinD1</text>
<ellipse cx="963.5" cy="792.4" rx="7.5" ry="3" fill="#42aa54"/>
<text x="963.5" y="793.4" font-size="2.8" fill="#143a1a" class="sans" text-anchor="middle" >Myc</text>
<ellipse cx="945.5" cy="799.2" rx="7.5" ry="3" fill="#42aa54"/>
<text x="945.5" y="800.2" font-size="2.8" fill="#143a1a" class="sans" text-anchor="middle" >BAX</text>
<ellipse cx="963.1" cy="799.2" rx="7.5" ry="3" fill="#42aa54"/>
<text x="963.1" y="800.2" font-size="2.8" fill="#143a1a" class="sans" text-anchor="middle" >TNF-α</text>
<ellipse cx="945.5" cy="806.0" rx="7.5" ry="3" fill="#42aa54"/>
<text x="945.5" y="807.0" font-size="2.8" fill="#143a1a" class="sans" text-anchor="middle" >BCL-2</text>
<ellipse cx="962.8" cy="806.0" rx="7.5" ry="3" fill="#42aa54"/>
<text x="962.8" y="807.0" font-size="2.8" fill="#143a1a" class="sans" text-anchor="middle" >IL-1β</text>
</g>
<g>
<defs><filter id="blur1" x="-30%" y="-80%" width="160%" height="260%"><feGaussianBlur stdDeviation="0.9"/></filter><filter id="blur2" x="-30%" y="-80%" width="160%" height="260%"><feGaussianBlur stdDeviation="1.6"/></filter></defs>
<rect x="1091" y="715.2" width="76.8" height="44.4" fill="#f9f9f9"/><rect x="1174.6" y="717" width="80.2" height="42.6" fill="#fafafa"/>
<ellipse cx="1100.1" cy="725.1" rx="6.7" ry="1.4" fill="#9a9a9a" opacity="0.55" filter="url(#blur1)"/>
<ellipse cx="1119.5" cy="725.8" rx="7.5" ry="5.6" fill="#555" opacity="0.5" filter="url(#blur2)"/>
<ellipse cx="1119.5" cy="724.8" rx="6.8" ry="3.8" fill="#000" opacity="1" filter="url(#blur1)"/>
<ellipse cx="1138.3" cy="726.5" rx="7.3" ry="4.3" fill="#777" opacity="0.45" filter="url(#blur2)"/>
<ellipse cx="1138.3" cy="724.6" rx="6.5" ry="2.2" fill="#050505" opacity="1" filter="url(#blur1)"/>
<ellipse cx="1157.6" cy="725.8" rx="6.3" ry="1.5" fill="#555" opacity="0.7" filter="url(#blur1)"/>
<ellipse cx="1185.7" cy="723.4" rx="6.0" ry="1.4" fill="#bbb" opacity="0.5" filter="url(#blur1)"/>
<ellipse cx="1205.3" cy="725.8" rx="6.0" ry="1.4" fill="#bbb" opacity="0.5" filter="url(#blur1)"/>
<ellipse cx="1226.6" cy="727.9" rx="6.0" ry="1.4" fill="#bbb" opacity="0.45" filter="url(#blur1)"/>
<ellipse cx="1246.2" cy="730.6" rx="6.0" ry="1.4" fill="#bbb" opacity="0.45" filter="url(#blur1)"/>
<ellipse cx="1101.3" cy="749.2" rx="6.3" ry="2.9" fill="#999" opacity="0.35" filter="url(#blur2)"/>
<ellipse cx="1101.3" cy="752.9" rx="6.8" ry="2.2" fill="#000" opacity="1" filter="url(#blur1)"/>
<ellipse cx="1120.0" cy="749.3" rx="6.3" ry="2.9" fill="#999" opacity="0.35" filter="url(#blur2)"/>
<ellipse cx="1120.0" cy="753.1" rx="6.8" ry="2.2" fill="#000" opacity="1" filter="url(#blur1)"/>
<ellipse cx="1138.5" cy="749.3" rx="6.3" ry="2.9" fill="#999" opacity="0.35" filter="url(#blur2)"/>
<ellipse cx="1138.5" cy="753.1" rx="6.8" ry="2.2" fill="#000" opacity="1" filter="url(#blur1)"/>
<ellipse cx="1157.6" cy="748.8" rx="6.3" ry="2.9" fill="#999" opacity="0.35" filter="url(#blur2)"/>
<ellipse cx="1157.6" cy="752.6" rx="6.8" ry="2.2" fill="#000" opacity="1" filter="url(#blur1)"/>
<ellipse cx="1185.3" cy="747.0" rx="6.3" ry="2.9" fill="#999" opacity="0.35" filter="url(#blur2)"/>
<ellipse cx="1185.3" cy="750.7" rx="6.8" ry="2.2" fill="#000" opacity="1" filter="url(#blur1)"/>
<ellipse cx="1205.3" cy="746.4" rx="6.3" ry="2.9" fill="#999" opacity="0.35" filter="url(#blur2)"/>
<ellipse cx="1205.3" cy="750.2" rx="6.8" ry="2.2" fill="#000" opacity="1" filter="url(#blur1)"/>
<ellipse cx="1224.4" cy="745.8" rx="6.3" ry="2.9" fill="#999" opacity="0.35" filter="url(#blur2)"/>
<ellipse cx="1224.4" cy="749.5" rx="6.8" ry="2.2" fill="#000" opacity="1" filter="url(#blur1)"/>
<ellipse cx="1243.7" cy="744.7" rx="6.3" ry="2.9" fill="#999" opacity="0.35" filter="url(#blur2)"/>
<ellipse cx="1243.7" cy="748.5" rx="6.8" ry="2.2" fill="#000" opacity="1" filter="url(#blur1)"/>
<text x="1052.7" y="733" font-size="8" fill="#111" class="serif" font-weight="bold" textLength="28.5" lengthAdjust="spacingAndGlyphs" >p-STAT3</text>
<text x="1052.7" y="754.5" font-size="8" fill="#111" class="serif" font-weight="bold" textLength="21" lengthAdjust="spacingAndGlyphs" >STAT3</text>
<text x="1052.3" y="777.5" font-size="7.8" fill="#111" class="serif" textLength="33.6" lengthAdjust="spacingAndGlyphs" >Ruxolitinib</text>
<text x="1058.3" y="791.5" font-size="7.8" fill="#111" class="serif" textLength="12.6" lengthAdjust="spacingAndGlyphs" >LPS</text>
<text x="1055.2" y="809.4" font-size="7.8" fill="#111" class="serif" textLength="18.8" lengthAdjust="spacingAndGlyphs" >BRKL</text>
<text x="1100.4" y="778.1" font-size="9.6" fill="#111" class="sans" text-anchor="middle" font-weight="bold" >-</text>
<text x="1119.5" y="778.1" font-size="9.6" fill="#111" class="sans" text-anchor="middle" font-weight="bold" >-</text>
<text x="1138.3" y="778.1" font-size="9.6" fill="#111" class="sans" text-anchor="middle" font-weight="bold" >-</text>
<text x="1159.6" y="778.1" font-size="9.6" fill="#111" class="sans" text-anchor="middle" font-weight="bold" >-</text>
<text x="1187.9" y="778.4000000000001" font-size="7.4" fill="#111" class="sans" text-anchor="middle" font-weight="bold" >+</text>
<text x="1209.9" y="778.4000000000001" font-size="7.4" fill="#111" class="sans" text-anchor="middle" font-weight="bold" >+</text>
<text x="1229.2" y="778.4000000000001" font-size="7.4" fill="#111" class="sans" text-anchor="middle" font-weight="bold" >+</text>
<text x="1250.5" y="778.4000000000001" font-size="7.4" fill="#111" class="sans" text-anchor="middle" font-weight="bold" >+</text>
<text x="1100.4" y="792.3" font-size="9.6" fill="#111" class="sans" text-anchor="middle" font-weight="bold" >-</text>
<text x="1119.5" y="792.6" font-size="7.4" fill="#111" class="sans" text-anchor="middle" font-weight="bold" >+</text>
<text x="1138.3" y="792.3" font-size="9.6" fill="#111" class="sans" text-anchor="middle" font-weight="bold" >-</text>
<text x="1159.6" y="792.3" font-size="9.6" fill="#111" class="sans" text-anchor="middle" font-weight="bold" >-</text>
<text x="1187.9" y="792.3" font-size="9.6" fill="#111" class="sans" text-anchor="middle" font-weight="bold" >-</text>
<text x="1209.9" y="792.6" font-size="7.4" fill="#111" class="sans" text-anchor="middle" font-weight="bold" >+</text>
<text x="1229.2" y="792.3" font-size="9.6" fill="#111" class="sans" text-anchor="middle" font-weight="bold" >-</text>
<text x="1250.5" y="792.3" font-size="9.6" fill="#111" class="sans" text-anchor="middle" font-weight="bold" >-</text>
<text x="1100.4" y="810.3" font-size="9.6" fill="#222" class="sans" text-anchor="middle" font-weight="bold" >-</text>
<text x="1119.5" y="810.3" font-size="9.6" fill="#222" class="sans" text-anchor="middle" font-weight="bold" >-</text>
<text x="1138.3" y="810.4" font-size="6.2" fill="#222" class="sans" text-anchor="middle" >1</text>
<text x="1159.6" y="810.4" font-size="6.2" fill="#222" class="sans" text-anchor="middle" >2.5</text>
<text x="1187.9" y="810.3" font-size="9.6" fill="#222" class="sans" text-anchor="middle" font-weight="bold" >-</text>
<text x="1209.9" y="810.3" font-size="9.6" fill="#222" class="sans" text-anchor="middle" font-weight="bold" >-</text>
<text x="1229.2" y="810.4" font-size="6.2" fill="#222" class="sans" text-anchor="middle" >1</text>
<text x="1250.5" y="810.4" font-size="6.2" fill="#222" class="sans" text-anchor="middle" >2.5</text>
</g>
<text x="926.7" y="841.6" font-size="15.6" fill="#111" class="sans" textLength="325" lengthAdjust="spacingAndGlyphs" >BRKL exhibits effects similar to JAK2 inhibitor,</text>
<text x="926.7" y="862.9" font-size="15.6" fill="#111" class="sans" textLength="266.6" lengthAdjust="spacingAndGlyphs" >reducing nuclear p-STAT3 expression.</text>
</svg>
</body></html>
